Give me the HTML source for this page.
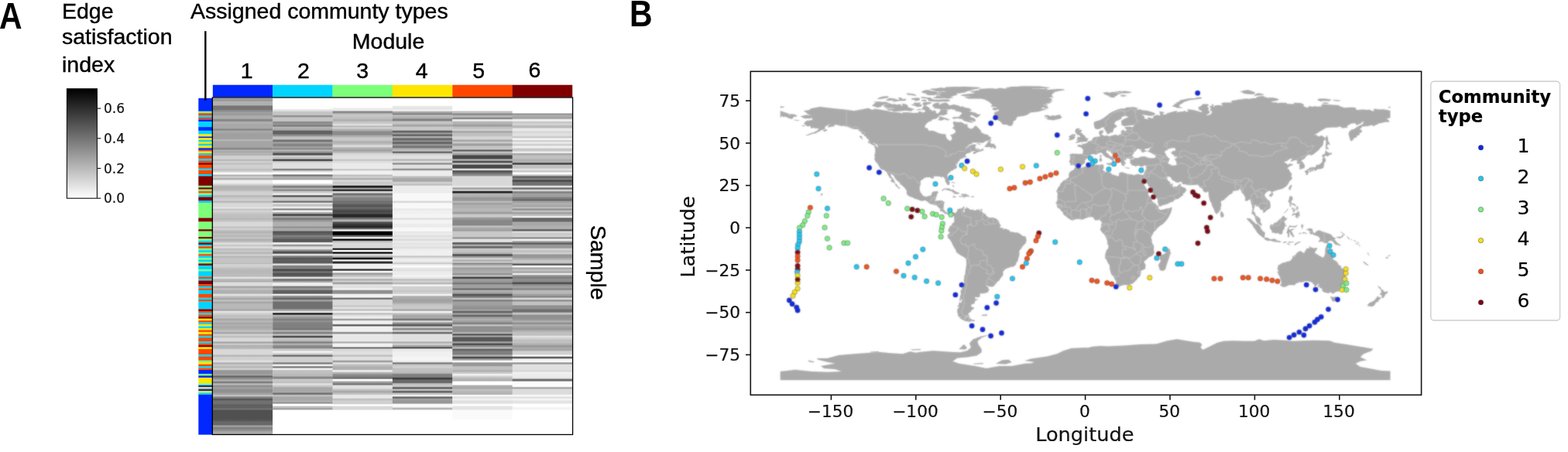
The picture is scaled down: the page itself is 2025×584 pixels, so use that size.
<!DOCTYPE html>
<html><head><meta charset="utf-8"><title>Figure</title>
<style>
html,body{margin:0;padding:0;background:#fff;}
body{width:2025px;height:584px;position:relative;overflow:hidden;font-family:"Liberation Sans",sans-serif;color:#000;}
.t{position:absolute;white-space:nowrap;line-height:1;z-index:2;}
.h{font-family:"Liberation Sans",sans-serif;font-size:28.5px;-webkit-text-stroke:0.4px #000;}
.d{font-family:"DejaVu Sans",sans-serif;color:#111;-webkit-text-stroke:0.2px #111;}
.pl{font-family:"Liberation Sans",sans-serif;font-weight:bold;font-size:47.6px;transform-origin:0 0;transform:scaleX(0.86);}
svg{position:absolute;left:0;top:0;}
#wrap{position:absolute;left:0;top:0;width:2025px;height:584px;}
</style></head><body>
<div id="wrap">
<div class="t pl" style="left:-1px;top:-3.3px;">A</div>
<div class="t pl" style="left:813px;top:-6.3px;">B</div>
<div class="t h" style="left:80px;top:-0.4px;">Edge</div>
<div class="t h" style="left:80px;top:33px;">satisfaction</div>
<div class="t h" style="left:80px;top:68.8px;">index</div>
<div class="t h" style="left:246px;top:0.4px;">Assigned communty types</div>
<div class="t h" style="left:454.8px;top:38.6px;">Module</div>
<div class="t h" style="left:298.8px;width:40px;text-align:center;top:77.2px;">1</div>
<div class="t h" style="left:372.0px;width:40px;text-align:center;top:76.5px;">2</div>
<div class="t h" style="left:448.3px;width:40px;text-align:center;top:76.9px;">3</div>
<div class="t h" style="left:524.7px;width:40px;text-align:center;top:76.9px;">4</div>
<div class="t h" style="left:598.3px;width:40px;text-align:center;top:77.0px;">5</div>
<div class="t h" style="left:670.4px;width:40px;text-align:center;top:75.7px;">6</div>
<div class="t h" style="left:786.6px;top:291px;transform-origin:0 0;transform:rotate(90deg);">Sample</div>
<div class="t d" style="left:134px;top:132.2px;font-size:17px;">0.6</div>
<div class="t d" style="left:134px;top:170.9px;font-size:17px;">0.4</div>
<div class="t d" style="left:134px;top:209.6px;font-size:17px;">0.2</div>
<div class="t d" style="left:134px;top:248.3px;font-size:17px;">0.0</div>
<div class="t d" style="left:1012.6px;width:120px;text-align:center;top:521.3px;font-size:21.7px;">−150</div>
<div class="t d" style="left:1122.0px;width:120px;text-align:center;top:521.3px;font-size:21.7px;">−100</div>
<div class="t d" style="left:1231.4px;width:120px;text-align:center;top:521.3px;font-size:21.7px;">−50</div>
<div class="t d" style="left:1340.8px;width:120px;text-align:center;top:521.3px;font-size:21.7px;">0</div>
<div class="t d" style="left:1450.2px;width:120px;text-align:center;top:521.3px;font-size:21.7px;">50</div>
<div class="t d" style="left:1559.6px;width:120px;text-align:center;top:521.3px;font-size:21.7px;">100</div>
<div class="t d" style="left:1669.0px;width:120px;text-align:center;top:521.3px;font-size:21.7px;">150</div>
<div class="t d" style="left:836.0px;width:120px;text-align:right;top:119.8px;font-size:21.7px;">75</div>
<div class="t d" style="left:836.0px;width:120px;text-align:right;top:174.5px;font-size:21.7px;">50</div>
<div class="t d" style="left:836.0px;width:120px;text-align:right;top:229.2px;font-size:21.7px;">25</div>
<div class="t d" style="left:836.0px;width:120px;text-align:right;top:283.9px;font-size:21.7px;">0</div>
<div class="t d" style="left:836.0px;width:120px;text-align:right;top:338.6px;font-size:21.7px;">−25</div>
<div class="t d" style="left:836.0px;width:120px;text-align:right;top:393.3px;font-size:21.7px;">−50</div>
<div class="t d" style="left:836.0px;width:120px;text-align:right;top:448.0px;font-size:21.7px;">−75</div>
<div class="t d" style="left:1200.8px;width:400px;text-align:center;top:549.1px;font-size:25.6px;">Longitude</div>
<div class="t d" style="left:875.6px;top:505.6px;width:400px;text-align:center;font-size:25.6px;transform-origin:0 0;transform:rotate(-90deg);">Latitude</div>
<div class="t d" style="left:1857.8px;top:113.8px;font-size:22.7px;font-weight:bold;color:#000;">Community</div>
<div class="t d" style="left:1857.8px;top:139.1px;font-size:22.7px;font-weight:bold;color:#000;">type</div>
<div class="t d" style="left:1959.6px;top:175.5px;font-size:25px;color:#000;">1</div>
<div class="t d" style="left:1959.6px;top:215.5px;font-size:25px;color:#000;">2</div>
<div class="t d" style="left:1959.6px;top:255.5px;font-size:25px;color:#000;">3</div>
<div class="t d" style="left:1959.6px;top:295.5px;font-size:25px;color:#000;">4</div>
<div class="t d" style="left:1959.6px;top:335.5px;font-size:25px;color:#000;">5</div>
<div class="t d" style="left:1959.6px;top:375.5px;font-size:25px;color:#000;">6</div>
<svg width="2025" height="584" viewBox="0 0 2025 584">
<defs>
<linearGradient id="cb" x1="0" y1="0" x2="0" y2="1"><stop offset="0" stop-color="#000"/><stop offset="1" stop-color="#fff"/></linearGradient>
<linearGradient id="h1" gradientUnits="userSpaceOnUse" x1="0" y1="126.72" x2="0" y2="561.50"><stop offset="0.0000" stop-color="#a0a0a0"/><stop offset="0.0034" stop-color="#a0a0a0"/><stop offset="0.0068" stop-color="#929292"/><stop offset="0.0068" stop-color="#929292"/><stop offset="0.0102" stop-color="#b0b0b0"/><stop offset="0.0204" stop-color="#b0b0b0"/><stop offset="0.0239" stop-color="#767676"/><stop offset="0.0338" stop-color="#767676"/><stop offset="0.0372" stop-color="#8e8e8e"/><stop offset="0.0394" stop-color="#8e8e8e"/><stop offset="0.0429" stop-color="#a0a0a0"/><stop offset="0.0451" stop-color="#a0a0a0"/><stop offset="0.0486" stop-color="#989898"/><stop offset="0.0494" stop-color="#989898"/><stop offset="0.0528" stop-color="#acacac"/><stop offset="0.0607" stop-color="#acacac"/><stop offset="0.0642" stop-color="#868686"/><stop offset="0.0678" stop-color="#868686"/><stop offset="0.0713" stop-color="#b0b0b0"/><stop offset="0.0749" stop-color="#b0b0b0"/><stop offset="0.0784" stop-color="#a8a8a8"/><stop offset="0.0891" stop-color="#a8a8a8"/><stop offset="0.0926" stop-color="#888888"/><stop offset="0.0948" stop-color="#888888"/><stop offset="0.0983" stop-color="#a8a8a8"/><stop offset="0.1019" stop-color="#a8a8a8"/><stop offset="0.1054" stop-color="#a0a0a0"/><stop offset="0.1204" stop-color="#a0a0a0"/><stop offset="0.1238" stop-color="#b4b4b4"/><stop offset="0.1261" stop-color="#b4b4b4"/><stop offset="0.1295" stop-color="#a4a4a4"/><stop offset="0.1459" stop-color="#a4a4a4"/><stop offset="0.1494" stop-color="#888888"/><stop offset="0.1516" stop-color="#888888"/><stop offset="0.1551" stop-color="#b0b0b0"/><stop offset="0.1568" stop-color="#b0b0b0"/><stop offset="0.1602" stop-color="#a8a8a8"/><stop offset="0.1610" stop-color="#a8a8a8"/><stop offset="0.1642" stop-color="#b8b8b8"/><stop offset="0.1642" stop-color="#b8b8b8"/><stop offset="0.1673" stop-color="#b0b0b0"/><stop offset="0.1690" stop-color="#b0b0b0"/><stop offset="0.1724" stop-color="#d0d0d0"/><stop offset="0.1803" stop-color="#d0d0d0"/><stop offset="0.1838" stop-color="#b8b8b8"/><stop offset="0.1852" stop-color="#b8b8b8"/><stop offset="0.1886" stop-color="#d0d0d0"/><stop offset="0.1911" stop-color="#d0d0d0"/><stop offset="0.1946" stop-color="#c0c0c0"/><stop offset="0.1960" stop-color="#c0c0c0"/><stop offset="0.1994" stop-color="#d0d0d0"/><stop offset="0.2082" stop-color="#d0d0d0"/><stop offset="0.2116" stop-color="#c0c0c0"/><stop offset="0.2136" stop-color="#c0c0c0"/><stop offset="0.2170" stop-color="#d0d0d0"/><stop offset="0.2187" stop-color="#d0d0d0"/><stop offset="0.2221" stop-color="#f8f8f8"/><stop offset="0.2258" stop-color="#f8f8f8"/><stop offset="0.2292" stop-color="#b4b4b4"/><stop offset="0.2309" stop-color="#b4b4b4"/><stop offset="0.2343" stop-color="#d0d0d0"/><stop offset="0.2357" stop-color="#d0d0d0"/><stop offset="0.2392" stop-color="#b0b0b0"/><stop offset="0.2414" stop-color="#b0b0b0"/><stop offset="0.2448" stop-color="#ececec"/><stop offset="0.2528" stop-color="#ececec"/><stop offset="0.2562" stop-color="#d0d0d0"/><stop offset="0.2584" stop-color="#d0d0d0"/><stop offset="0.2619" stop-color="#b4b4b4"/><stop offset="0.2712" stop-color="#b4b4b4"/><stop offset="0.2747" stop-color="#c0c0c0"/><stop offset="0.2755" stop-color="#c0c0c0"/><stop offset="0.2789" stop-color="#d0d0d0"/><stop offset="0.2868" stop-color="#d0d0d0"/><stop offset="0.2903" stop-color="#b8b8b8"/><stop offset="0.2925" stop-color="#b8b8b8"/><stop offset="0.2960" stop-color="#c8c8c8"/><stop offset="0.2982" stop-color="#c8c8c8"/><stop offset="0.3016" stop-color="#d0d0d0"/><stop offset="0.3039" stop-color="#d0d0d0"/><stop offset="0.3073" stop-color="#b8b8b8"/><stop offset="0.3095" stop-color="#b8b8b8"/><stop offset="0.3130" stop-color="#d8d8d8"/><stop offset="0.3232" stop-color="#d8d8d8"/><stop offset="0.3267" stop-color="#e8e8e8"/><stop offset="0.3267" stop-color="#e8e8e8"/><stop offset="0.3301" stop-color="#c4c4c4"/><stop offset="0.3317" stop-color="#c4c4c4"/><stop offset="0.3352" stop-color="#d4d4d4"/><stop offset="0.3374" stop-color="#d4d4d4"/><stop offset="0.3409" stop-color="#c8c8c8"/><stop offset="0.3431" stop-color="#c8c8c8"/><stop offset="0.3466" stop-color="#c0c0c0"/><stop offset="0.3545" stop-color="#c0c0c0"/><stop offset="0.3579" stop-color="#b8b8b8"/><stop offset="0.3601" stop-color="#b8b8b8"/><stop offset="0.3636" stop-color="#c4c4c4"/><stop offset="0.3658" stop-color="#c4c4c4"/><stop offset="0.3693" stop-color="#d8d8d8"/><stop offset="0.3800" stop-color="#d8d8d8"/><stop offset="0.3835" stop-color="#c0c0c0"/><stop offset="0.3843" stop-color="#c0c0c0"/><stop offset="0.3877" stop-color="#d0d0d0"/><stop offset="0.3900" stop-color="#d0d0d0"/><stop offset="0.3934" stop-color="#c0c0c0"/><stop offset="0.3942" stop-color="#c0c0c0"/><stop offset="0.3977" stop-color="#b4b4b4"/><stop offset="0.3999" stop-color="#b4b4b4"/><stop offset="0.4033" stop-color="#c0c0c0"/><stop offset="0.4056" stop-color="#c0c0c0"/><stop offset="0.4090" stop-color="#b8b8b8"/><stop offset="0.4113" stop-color="#b8b8b8"/><stop offset="0.4147" stop-color="#c4c4c4"/><stop offset="0.4169" stop-color="#c4c4c4"/><stop offset="0.4204" stop-color="#b0b0b0"/><stop offset="0.4226" stop-color="#b0b0b0"/><stop offset="0.4261" stop-color="#c0c0c0"/><stop offset="0.4277" stop-color="#c0c0c0"/><stop offset="0.4312" stop-color="#e0e0e0"/><stop offset="0.4334" stop-color="#e0e0e0"/><stop offset="0.4368" stop-color="#c8c8c8"/><stop offset="0.4391" stop-color="#c8c8c8"/><stop offset="0.4425" stop-color="#dcdcdc"/><stop offset="0.4448" stop-color="#dcdcdc"/><stop offset="0.4482" stop-color="#c0c0c0"/><stop offset="0.4504" stop-color="#c0c0c0"/><stop offset="0.4539" stop-color="#c8c8c8"/><stop offset="0.4561" stop-color="#c8c8c8"/><stop offset="0.4596" stop-color="#b8b8b8"/><stop offset="0.4618" stop-color="#b8b8b8"/><stop offset="0.4652" stop-color="#d0d0d0"/><stop offset="0.4675" stop-color="#d0d0d0"/><stop offset="0.4709" stop-color="#b8b8b8"/><stop offset="0.4732" stop-color="#b8b8b8"/><stop offset="0.4766" stop-color="#c4c4c4"/><stop offset="0.4888" stop-color="#c4c4c4"/><stop offset="0.4913" stop-color="#b8b8b8"/><stop offset="0.4913" stop-color="#b8b8b8"/><stop offset="0.4937" stop-color="#d0d0d0"/><stop offset="0.5016" stop-color="#d0d0d0"/><stop offset="0.5051" stop-color="#c0c0c0"/><stop offset="0.5073" stop-color="#c0c0c0"/><stop offset="0.5107" stop-color="#b8b8b8"/><stop offset="0.5186" stop-color="#b8b8b8"/><stop offset="0.5221" stop-color="#bcbcbc"/><stop offset="0.5294" stop-color="#bcbcbc"/><stop offset="0.5329" stop-color="#e0e0e0"/><stop offset="0.5351" stop-color="#e0e0e0"/><stop offset="0.5386" stop-color="#b8b8b8"/><stop offset="0.5408" stop-color="#b8b8b8"/><stop offset="0.5442" stop-color="#b0b0b0"/><stop offset="0.5456" stop-color="#b0b0b0"/><stop offset="0.5491" stop-color="#dcdcdc"/><stop offset="0.5570" stop-color="#dcdcdc"/><stop offset="0.5604" stop-color="#a8a8a8"/><stop offset="0.5627" stop-color="#a8a8a8"/><stop offset="0.5661" stop-color="#c0c0c0"/><stop offset="0.5689" stop-color="#c0c0c0"/><stop offset="0.5724" stop-color="#b0b0b0"/><stop offset="0.5803" stop-color="#b0b0b0"/><stop offset="0.5837" stop-color="#e0e0e0"/><stop offset="0.5859" stop-color="#e0e0e0"/><stop offset="0.5894" stop-color="#c0c0c0"/><stop offset="0.5916" stop-color="#c0c0c0"/><stop offset="0.5951" stop-color="#a8a8a8"/><stop offset="0.5973" stop-color="#a8a8a8"/><stop offset="0.6007" stop-color="#c0c0c0"/><stop offset="0.6030" stop-color="#c0c0c0"/><stop offset="0.6064" stop-color="#a8a8a8"/><stop offset="0.6087" stop-color="#a8a8a8"/><stop offset="0.6121" stop-color="#b8b8b8"/><stop offset="0.6251" stop-color="#b8b8b8"/><stop offset="0.6286" stop-color="#a8a8a8"/><stop offset="0.6308" stop-color="#a8a8a8"/><stop offset="0.6343" stop-color="#e0e0e0"/><stop offset="0.6365" stop-color="#e0e0e0"/><stop offset="0.6399" stop-color="#d0d0d0"/><stop offset="0.6422" stop-color="#d0d0d0"/><stop offset="0.6456" stop-color="#c0c0c0"/><stop offset="0.6537" stop-color="#c0c0c0"/><stop offset="0.6572" stop-color="#a8a8a8"/><stop offset="0.6593" stop-color="#a8a8a8"/><stop offset="0.6627" stop-color="#b8b8b8"/><stop offset="0.6649" stop-color="#b8b8b8"/><stop offset="0.6684" stop-color="#a8a8a8"/><stop offset="0.6706" stop-color="#a8a8a8"/><stop offset="0.6741" stop-color="#b0b0b0"/><stop offset="0.6763" stop-color="#b0b0b0"/><stop offset="0.6797" stop-color="#a8a8a8"/><stop offset="0.6820" stop-color="#a8a8a8"/><stop offset="0.6854" stop-color="#b0b0b0"/><stop offset="0.6876" stop-color="#b0b0b0"/><stop offset="0.6911" stop-color="#c0c0c0"/><stop offset="0.6933" stop-color="#c0c0c0"/><stop offset="0.6968" stop-color="#a8a8a8"/><stop offset="0.6990" stop-color="#a8a8a8"/><stop offset="0.7025" stop-color="#d0d0d0"/><stop offset="0.7047" stop-color="#d0d0d0"/><stop offset="0.7081" stop-color="#c0c0c0"/><stop offset="0.7104" stop-color="#c0c0c0"/><stop offset="0.7138" stop-color="#d8d8d8"/><stop offset="0.7217" stop-color="#d8d8d8"/><stop offset="0.7252" stop-color="#a8a8a8"/><stop offset="0.7271" stop-color="#a8a8a8"/><stop offset="0.7306" stop-color="#c8c8c8"/><stop offset="0.7328" stop-color="#c8c8c8"/><stop offset="0.7362" stop-color="#b0b0b0"/><stop offset="0.7385" stop-color="#b0b0b0"/><stop offset="0.7419" stop-color="#b8b8b8"/><stop offset="0.7442" stop-color="#b8b8b8"/><stop offset="0.7476" stop-color="#d8d8d8"/><stop offset="0.7612" stop-color="#d8d8d8"/><stop offset="0.7646" stop-color="#b8b8b8"/><stop offset="0.7669" stop-color="#b8b8b8"/><stop offset="0.7703" stop-color="#d0d0d0"/><stop offset="0.7779" stop-color="#d0d0d0"/><stop offset="0.7814" stop-color="#e0e0e0"/><stop offset="0.7836" stop-color="#e0e0e0"/><stop offset="0.7871" stop-color="#b0b0b0"/><stop offset="0.7893" stop-color="#b0b0b0"/><stop offset="0.7928" stop-color="#c8c8c8"/><stop offset="0.7950" stop-color="#c8c8c8"/><stop offset="0.7984" stop-color="#b8b8b8"/><stop offset="0.8007" stop-color="#b8b8b8"/><stop offset="0.8041" stop-color="#d0d0d0"/><stop offset="0.8063" stop-color="#d0d0d0"/><stop offset="0.8098" stop-color="#989898"/><stop offset="0.8175" stop-color="#989898"/><stop offset="0.8210" stop-color="#a0a0a0"/><stop offset="0.8231" stop-color="#a0a0a0"/><stop offset="0.8266" stop-color="#686868"/><stop offset="0.8288" stop-color="#686868"/><stop offset="0.8323" stop-color="#909090"/><stop offset="0.8345" stop-color="#909090"/><stop offset="0.8380" stop-color="#b0b0b0"/><stop offset="0.8402" stop-color="#b0b0b0"/><stop offset="0.8436" stop-color="#808080"/><stop offset="0.8459" stop-color="#808080"/><stop offset="0.8493" stop-color="#b8b8b8"/><stop offset="0.8515" stop-color="#b8b8b8"/><stop offset="0.8550" stop-color="#909090"/><stop offset="0.8572" stop-color="#909090"/><stop offset="0.8607" stop-color="#a0a0a0"/><stop offset="0.8629" stop-color="#a0a0a0"/><stop offset="0.8664" stop-color="#909090"/><stop offset="0.8740" stop-color="#909090"/><stop offset="0.8774" stop-color="#a0a0a0"/><stop offset="0.8797" stop-color="#a0a0a0"/><stop offset="0.8831" stop-color="#c0c0c0"/><stop offset="0.8853" stop-color="#c0c0c0"/><stop offset="0.8888" stop-color="#808080"/><stop offset="0.8910" stop-color="#808080"/><stop offset="0.8945" stop-color="#585858"/><stop offset="0.8967" stop-color="#585858"/><stop offset="0.9001" stop-color="#707070"/><stop offset="0.9080" stop-color="#707070"/><stop offset="0.9115" stop-color="#606060"/><stop offset="0.9194" stop-color="#606060"/><stop offset="0.9229" stop-color="#707070"/><stop offset="0.9251" stop-color="#707070"/><stop offset="0.9285" stop-color="#505050"/><stop offset="0.9535" stop-color="#505050"/><stop offset="0.9569" stop-color="#585858"/><stop offset="0.9592" stop-color="#585858"/><stop offset="0.9626" stop-color="#686868"/><stop offset="0.9705" stop-color="#686868"/><stop offset="0.9740" stop-color="#a0a0a0"/><stop offset="0.9762" stop-color="#a0a0a0"/><stop offset="0.9796" stop-color="#808080"/><stop offset="0.9824" stop-color="#808080"/><stop offset="0.9858" stop-color="#909090"/><stop offset="0.9881" stop-color="#909090"/><stop offset="0.9915" stop-color="#a8a8a8"/><stop offset="1.0000" stop-color="#a8a8a8"/></linearGradient>
<linearGradient id="h2" gradientUnits="userSpaceOnUse" x1="0" y1="126.72" x2="0" y2="561.50"><stop offset="0.0000" stop-color="#ffffff"/><stop offset="0.0318" stop-color="#ffffff"/><stop offset="0.0352" stop-color="#e0e0e0"/><stop offset="0.0380" stop-color="#e0e0e0"/><stop offset="0.0415" stop-color="#c4c4c4"/><stop offset="0.0494" stop-color="#c4c4c4"/><stop offset="0.0528" stop-color="#929292"/><stop offset="0.0551" stop-color="#929292"/><stop offset="0.0585" stop-color="#c4c4c4"/><stop offset="0.0678" stop-color="#c4c4c4"/><stop offset="0.0713" stop-color="#8c8c8c"/><stop offset="0.0744" stop-color="#8c8c8c"/><stop offset="0.0775" stop-color="#989898"/><stop offset="0.0775" stop-color="#989898"/><stop offset="0.0807" stop-color="#808080"/><stop offset="0.0835" stop-color="#808080"/><stop offset="0.0869" stop-color="#b4b4b4"/><stop offset="0.0891" stop-color="#b4b4b4"/><stop offset="0.0926" stop-color="#a8a8a8"/><stop offset="0.0948" stop-color="#a8a8a8"/><stop offset="0.0983" stop-color="#626262"/><stop offset="0.1062" stop-color="#626262"/><stop offset="0.1096" stop-color="#8c8c8c"/><stop offset="0.1119" stop-color="#8c8c8c"/><stop offset="0.1153" stop-color="#c0c0c0"/><stop offset="0.1218" stop-color="#c0c0c0"/><stop offset="0.1252" stop-color="#727272"/><stop offset="0.1280" stop-color="#727272"/><stop offset="0.1315" stop-color="#a0a0a0"/><stop offset="0.1340" stop-color="#a0a0a0"/><stop offset="0.1375" stop-color="#858585"/><stop offset="0.1417" stop-color="#858585"/><stop offset="0.1451" stop-color="#a0a0a0"/><stop offset="0.1468" stop-color="#a0a0a0"/><stop offset="0.1502" stop-color="#8c8c8c"/><stop offset="0.1516" stop-color="#8c8c8c"/><stop offset="0.1551" stop-color="#b8b8b8"/><stop offset="0.1568" stop-color="#b8b8b8"/><stop offset="0.1602" stop-color="#909090"/><stop offset="0.1619" stop-color="#909090"/><stop offset="0.1653" stop-color="#505050"/><stop offset="0.1684" stop-color="#505050"/><stop offset="0.1719" stop-color="#d0d0d0"/><stop offset="0.1732" stop-color="#d0d0d0"/><stop offset="0.1767" stop-color="#c0c0c0"/><stop offset="0.1798" stop-color="#c0c0c0"/><stop offset="0.1832" stop-color="#484848"/><stop offset="0.1855" stop-color="#484848"/><stop offset="0.1889" stop-color="#d0d0d0"/><stop offset="0.1911" stop-color="#d0d0d0"/><stop offset="0.1946" stop-color="#e0e0e0"/><stop offset="0.2082" stop-color="#e0e0e0"/><stop offset="0.2116" stop-color="#808080"/><stop offset="0.2133" stop-color="#808080"/><stop offset="0.2167" stop-color="#d8d8d8"/><stop offset="0.2187" stop-color="#d8d8d8"/><stop offset="0.2221" stop-color="#ffffff"/><stop offset="0.2252" stop-color="#ffffff"/><stop offset="0.2287" stop-color="#787878"/><stop offset="0.2309" stop-color="#787878"/><stop offset="0.2343" stop-color="#b0b0b0"/><stop offset="0.2357" stop-color="#b0b0b0"/><stop offset="0.2392" stop-color="#a8a8a8"/><stop offset="0.2414" stop-color="#a8a8a8"/><stop offset="0.2448" stop-color="#ffffff"/><stop offset="0.2528" stop-color="#ffffff"/><stop offset="0.2562" stop-color="#d0d0d0"/><stop offset="0.2584" stop-color="#d0d0d0"/><stop offset="0.2619" stop-color="#808080"/><stop offset="0.2650" stop-color="#808080"/><stop offset="0.2684" stop-color="#b0b0b0"/><stop offset="0.2698" stop-color="#b0b0b0"/><stop offset="0.2732" stop-color="#888888"/><stop offset="0.2746" stop-color="#888888"/><stop offset="0.2781" stop-color="#c8c8c8"/><stop offset="0.2803" stop-color="#c8c8c8"/><stop offset="0.2837" stop-color="#e8e8e8"/><stop offset="0.2868" stop-color="#e8e8e8"/><stop offset="0.2903" stop-color="#585858"/><stop offset="0.2925" stop-color="#585858"/><stop offset="0.2960" stop-color="#c8c8c8"/><stop offset="0.3039" stop-color="#c8c8c8"/><stop offset="0.3073" stop-color="#707070"/><stop offset="0.3090" stop-color="#707070"/><stop offset="0.3124" stop-color="#e0e0e0"/><stop offset="0.3138" stop-color="#e0e0e0"/><stop offset="0.3172" stop-color="#c0c0c0"/><stop offset="0.3195" stop-color="#c0c0c0"/><stop offset="0.3229" stop-color="#e0e0e0"/><stop offset="0.3232" stop-color="#e0e0e0"/><stop offset="0.3264" stop-color="#f0f0f0"/><stop offset="0.3264" stop-color="#f0f0f0"/><stop offset="0.3295" stop-color="#888888"/><stop offset="0.3317" stop-color="#888888"/><stop offset="0.3352" stop-color="#f0f0f0"/><stop offset="0.3374" stop-color="#f0f0f0"/><stop offset="0.3409" stop-color="#a0a0a0"/><stop offset="0.3431" stop-color="#a0a0a0"/><stop offset="0.3466" stop-color="#404040"/><stop offset="0.3482" stop-color="#404040"/><stop offset="0.3517" stop-color="#a0a0a0"/><stop offset="0.3545" stop-color="#a0a0a0"/><stop offset="0.3579" stop-color="#787878"/><stop offset="0.3601" stop-color="#787878"/><stop offset="0.3636" stop-color="#989898"/><stop offset="0.3658" stop-color="#989898"/><stop offset="0.3693" stop-color="#b0b0b0"/><stop offset="0.3800" stop-color="#b0b0b0"/><stop offset="0.3835" stop-color="#909090"/><stop offset="0.3843" stop-color="#909090"/><stop offset="0.3877" stop-color="#a8a8a8"/><stop offset="0.3936" stop-color="#a8a8a8"/><stop offset="0.3971" stop-color="#585858"/><stop offset="0.3999" stop-color="#585858"/><stop offset="0.4033" stop-color="#606060"/><stop offset="0.4056" stop-color="#606060"/><stop offset="0.4090" stop-color="#808080"/><stop offset="0.4113" stop-color="#808080"/><stop offset="0.4147" stop-color="#707070"/><stop offset="0.4169" stop-color="#707070"/><stop offset="0.4204" stop-color="#585858"/><stop offset="0.4269" stop-color="#585858"/><stop offset="0.4303" stop-color="#f0f0f0"/><stop offset="0.4334" stop-color="#f0f0f0"/><stop offset="0.4368" stop-color="#989898"/><stop offset="0.4391" stop-color="#989898"/><stop offset="0.4425" stop-color="#e0e0e0"/><stop offset="0.4482" stop-color="#e0e0e0"/><stop offset="0.4516" stop-color="#909090"/><stop offset="0.4538" stop-color="#909090"/><stop offset="0.4573" stop-color="#505050"/><stop offset="0.4609" stop-color="#505050"/><stop offset="0.4644" stop-color="#e0e0e0"/><stop offset="0.4666" stop-color="#e0e0e0"/><stop offset="0.4701" stop-color="#808080"/><stop offset="0.4723" stop-color="#808080"/><stop offset="0.4758" stop-color="#585858"/><stop offset="0.4780" stop-color="#585858"/><stop offset="0.4814" stop-color="#606060"/><stop offset="0.4837" stop-color="#606060"/><stop offset="0.4871" stop-color="#585858"/><stop offset="0.4888" stop-color="#585858"/><stop offset="0.4913" stop-color="#909090"/><stop offset="0.4913" stop-color="#909090"/><stop offset="0.4937" stop-color="#e0e0e0"/><stop offset="0.4956" stop-color="#e0e0e0"/><stop offset="0.4991" stop-color="#808080"/><stop offset="0.5064" stop-color="#808080"/><stop offset="0.5099" stop-color="#484848"/><stop offset="0.5121" stop-color="#484848"/><stop offset="0.5156" stop-color="#707070"/><stop offset="0.5186" stop-color="#707070"/><stop offset="0.5221" stop-color="#505050"/><stop offset="0.5243" stop-color="#505050"/><stop offset="0.5278" stop-color="#606060"/><stop offset="0.5294" stop-color="#606060"/><stop offset="0.5329" stop-color="#e0e0e0"/><stop offset="0.5351" stop-color="#e0e0e0"/><stop offset="0.5386" stop-color="#707070"/><stop offset="0.5414" stop-color="#707070"/><stop offset="0.5448" stop-color="#a0a0a0"/><stop offset="0.5462" stop-color="#a0a0a0"/><stop offset="0.5496" stop-color="#ececec"/><stop offset="0.5570" stop-color="#ececec"/><stop offset="0.5604" stop-color="#808080"/><stop offset="0.5632" stop-color="#808080"/><stop offset="0.5667" stop-color="#989898"/><stop offset="0.5689" stop-color="#989898"/><stop offset="0.5724" stop-color="#606060"/><stop offset="0.5803" stop-color="#606060"/><stop offset="0.5837" stop-color="#f0f0f0"/><stop offset="0.5854" stop-color="#f0f0f0"/><stop offset="0.5888" stop-color="#909090"/><stop offset="0.5910" stop-color="#909090"/><stop offset="0.5945" stop-color="#686868"/><stop offset="0.5973" stop-color="#686868"/><stop offset="0.6007" stop-color="#a0a0a0"/><stop offset="0.6030" stop-color="#a0a0a0"/><stop offset="0.6064" stop-color="#707070"/><stop offset="0.6251" stop-color="#707070"/><stop offset="0.6286" stop-color="#a0a0a0"/><stop offset="0.6308" stop-color="#a0a0a0"/><stop offset="0.6343" stop-color="#e0e0e0"/><stop offset="0.6365" stop-color="#e0e0e0"/><stop offset="0.6399" stop-color="#202020"/><stop offset="0.6422" stop-color="#202020"/><stop offset="0.6456" stop-color="#b0b0b0"/><stop offset="0.6478" stop-color="#b0b0b0"/><stop offset="0.6513" stop-color="#989898"/><stop offset="0.6537" stop-color="#989898"/><stop offset="0.6572" stop-color="#808080"/><stop offset="0.6593" stop-color="#808080"/><stop offset="0.6627" stop-color="#909090"/><stop offset="0.6649" stop-color="#909090"/><stop offset="0.6684" stop-color="#808080"/><stop offset="0.6706" stop-color="#808080"/><stop offset="0.6741" stop-color="#808080"/><stop offset="0.6820" stop-color="#808080"/><stop offset="0.6854" stop-color="#787878"/><stop offset="0.6876" stop-color="#787878"/><stop offset="0.6911" stop-color="#b0b0b0"/><stop offset="0.6933" stop-color="#b0b0b0"/><stop offset="0.6968" stop-color="#808080"/><stop offset="0.6990" stop-color="#808080"/><stop offset="0.7025" stop-color="#c0c0c0"/><stop offset="0.7047" stop-color="#c0c0c0"/><stop offset="0.7081" stop-color="#505050"/><stop offset="0.7104" stop-color="#505050"/><stop offset="0.7138" stop-color="#c8c8c8"/><stop offset="0.7160" stop-color="#c8c8c8"/><stop offset="0.7195" stop-color="#b8b8b8"/><stop offset="0.7217" stop-color="#b8b8b8"/><stop offset="0.7252" stop-color="#808080"/><stop offset="0.7271" stop-color="#808080"/><stop offset="0.7306" stop-color="#b0b0b0"/><stop offset="0.7328" stop-color="#b0b0b0"/><stop offset="0.7362" stop-color="#888888"/><stop offset="0.7425" stop-color="#888888"/><stop offset="0.7459" stop-color="#c8c8c8"/><stop offset="0.7495" stop-color="#c8c8c8"/><stop offset="0.7530" stop-color="#f0f0f0"/><stop offset="0.7555" stop-color="#f0f0f0"/><stop offset="0.7590" stop-color="#d0d0d0"/><stop offset="0.7612" stop-color="#d0d0d0"/><stop offset="0.7646" stop-color="#707070"/><stop offset="0.7669" stop-color="#707070"/><stop offset="0.7703" stop-color="#d0d0d0"/><stop offset="0.7836" stop-color="#d0d0d0"/><stop offset="0.7871" stop-color="#808080"/><stop offset="0.7893" stop-color="#808080"/><stop offset="0.7928" stop-color="#f0f0f0"/><stop offset="0.7950" stop-color="#f0f0f0"/><stop offset="0.7984" stop-color="#808080"/><stop offset="0.8007" stop-color="#808080"/><stop offset="0.8041" stop-color="#f0f0f0"/><stop offset="0.8063" stop-color="#f0f0f0"/><stop offset="0.8098" stop-color="#c0c0c0"/><stop offset="0.8175" stop-color="#c0c0c0"/><stop offset="0.8210" stop-color="#b8b8b8"/><stop offset="0.8257" stop-color="#b8b8b8"/><stop offset="0.8292" stop-color="#888888"/><stop offset="0.8328" stop-color="#888888"/><stop offset="0.8363" stop-color="#c8c8c8"/><stop offset="0.8399" stop-color="#c8c8c8"/><stop offset="0.8434" stop-color="#c0c0c0"/><stop offset="0.8456" stop-color="#c0c0c0"/><stop offset="0.8490" stop-color="#e0e0e0"/><stop offset="0.8513" stop-color="#e0e0e0"/><stop offset="0.8547" stop-color="#c8c8c8"/><stop offset="0.8569" stop-color="#c8c8c8"/><stop offset="0.8604" stop-color="#a8a8a8"/><stop offset="0.8740" stop-color="#a8a8a8"/><stop offset="0.8774" stop-color="#707070"/><stop offset="0.8797" stop-color="#707070"/><stop offset="0.8831" stop-color="#c0c0c0"/><stop offset="0.8853" stop-color="#c0c0c0"/><stop offset="0.8888" stop-color="#a8a8a8"/><stop offset="0.8967" stop-color="#a8a8a8"/><stop offset="0.9001" stop-color="#b0b0b0"/><stop offset="0.9024" stop-color="#b0b0b0"/><stop offset="0.9058" stop-color="#909090"/><stop offset="0.9066" stop-color="#909090"/><stop offset="0.9101" stop-color="#ffffff"/><stop offset="0.9137" stop-color="#ffffff"/><stop offset="0.9172" stop-color="#c0c0c0"/><stop offset="0.9194" stop-color="#c0c0c0"/><stop offset="0.9229" stop-color="#a0a0a0"/><stop offset="0.9245" stop-color="#a0a0a0"/><stop offset="0.9280" stop-color="#ffffff"/><stop offset="1.0000" stop-color="#ffffff"/></linearGradient>
<linearGradient id="h3" gradientUnits="userSpaceOnUse" x1="0" y1="126.72" x2="0" y2="561.50"><stop offset="0.0000" stop-color="#ffffff"/><stop offset="0.0275" stop-color="#ffffff"/><stop offset="0.0310" stop-color="#eaeaea"/><stop offset="0.0366" stop-color="#eaeaea"/><stop offset="0.0401" stop-color="#8c8c8c"/><stop offset="0.0437" stop-color="#8c8c8c"/><stop offset="0.0472" stop-color="#c0c0c0"/><stop offset="0.0488" stop-color="#c0c0c0"/><stop offset="0.0523" stop-color="#c8c8c8"/><stop offset="0.0531" stop-color="#c8c8c8"/><stop offset="0.0565" stop-color="#c0c0c0"/><stop offset="0.0607" stop-color="#c0c0c0"/><stop offset="0.0642" stop-color="#b0b0b0"/><stop offset="0.0678" stop-color="#b0b0b0"/><stop offset="0.0713" stop-color="#c8c8c8"/><stop offset="0.0749" stop-color="#c8c8c8"/><stop offset="0.0784" stop-color="#e0e0e0"/><stop offset="0.0801" stop-color="#e0e0e0"/><stop offset="0.0835" stop-color="#b8b8b8"/><stop offset="0.0843" stop-color="#b8b8b8"/><stop offset="0.0878" stop-color="#d0d0d0"/><stop offset="0.0900" stop-color="#d0d0d0"/><stop offset="0.0934" stop-color="#b0b0b0"/><stop offset="0.0962" stop-color="#b0b0b0"/><stop offset="0.0997" stop-color="#8c8c8c"/><stop offset="0.1090" stop-color="#8c8c8c"/><stop offset="0.1125" stop-color="#b0b0b0"/><stop offset="0.1147" stop-color="#b0b0b0"/><stop offset="0.1181" stop-color="#c8c8c8"/><stop offset="0.1255" stop-color="#c8c8c8"/><stop offset="0.1289" stop-color="#b0b0b0"/><stop offset="0.1317" stop-color="#b0b0b0"/><stop offset="0.1352" stop-color="#b8b8b8"/><stop offset="0.1368" stop-color="#b8b8b8"/><stop offset="0.1403" stop-color="#d8d8d8"/><stop offset="0.1445" stop-color="#d8d8d8"/><stop offset="0.1480" stop-color="#b0b0b0"/><stop offset="0.1510" stop-color="#b0b0b0"/><stop offset="0.1545" stop-color="#a0a0a0"/><stop offset="0.1568" stop-color="#a0a0a0"/><stop offset="0.1602" stop-color="#b8b8b8"/><stop offset="0.1619" stop-color="#b8b8b8"/><stop offset="0.1653" stop-color="#d8d8d8"/><stop offset="0.1690" stop-color="#d8d8d8"/><stop offset="0.1724" stop-color="#e0e0e0"/><stop offset="0.1798" stop-color="#e0e0e0"/><stop offset="0.1832" stop-color="#c8c8c8"/><stop offset="0.1855" stop-color="#c8c8c8"/><stop offset="0.1889" stop-color="#e0e0e0"/><stop offset="0.1917" stop-color="#e0e0e0"/><stop offset="0.1952" stop-color="#eaeaea"/><stop offset="0.2087" stop-color="#eaeaea"/><stop offset="0.2122" stop-color="#c8c8c8"/><stop offset="0.2136" stop-color="#c8c8c8"/><stop offset="0.2170" stop-color="#f0f0f0"/><stop offset="0.2258" stop-color="#f0f0f0"/><stop offset="0.2292" stop-color="#c0c0c0"/><stop offset="0.2309" stop-color="#c0c0c0"/><stop offset="0.2343" stop-color="#d0d0d0"/><stop offset="0.2357" stop-color="#d0d0d0"/><stop offset="0.2392" stop-color="#b0b0b0"/><stop offset="0.2414" stop-color="#b0b0b0"/><stop offset="0.2448" stop-color="#d8d8d8"/><stop offset="0.2471" stop-color="#d8d8d8"/><stop offset="0.2505" stop-color="#c8c8c8"/><stop offset="0.2528" stop-color="#c8c8c8"/><stop offset="0.2562" stop-color="#d0d0d0"/><stop offset="0.2584" stop-color="#d0d0d0"/><stop offset="0.2619" stop-color="#202020"/><stop offset="0.2650" stop-color="#202020"/><stop offset="0.2684" stop-color="#a0a0a0"/><stop offset="0.2698" stop-color="#a0a0a0"/><stop offset="0.2732" stop-color="#282828"/><stop offset="0.2749" stop-color="#282828"/><stop offset="0.2783" stop-color="#d8d8d8"/><stop offset="0.2811" stop-color="#d8d8d8"/><stop offset="0.2846" stop-color="#707070"/><stop offset="0.2868" stop-color="#707070"/><stop offset="0.2903" stop-color="#989898"/><stop offset="0.2939" stop-color="#989898"/><stop offset="0.2974" stop-color="#808080"/><stop offset="0.3039" stop-color="#808080"/><stop offset="0.3073" stop-color="#707070"/><stop offset="0.3138" stop-color="#707070"/><stop offset="0.3172" stop-color="#585858"/><stop offset="0.3232" stop-color="#585858"/><stop offset="0.3267" stop-color="#707070"/><stop offset="0.3267" stop-color="#707070"/><stop offset="0.3301" stop-color="#585858"/><stop offset="0.3317" stop-color="#585858"/><stop offset="0.3352" stop-color="#484848"/><stop offset="0.3374" stop-color="#484848"/><stop offset="0.3409" stop-color="#505050"/><stop offset="0.3431" stop-color="#505050"/><stop offset="0.3466" stop-color="#282828"/><stop offset="0.3530" stop-color="#282828"/><stop offset="0.3565" stop-color="#707070"/><stop offset="0.3587" stop-color="#707070"/><stop offset="0.3622" stop-color="#b0b0b0"/><stop offset="0.3658" stop-color="#b0b0b0"/><stop offset="0.3693" stop-color="#505050"/><stop offset="0.3715" stop-color="#505050"/><stop offset="0.3749" stop-color="#383838"/><stop offset="0.3772" stop-color="#383838"/><stop offset="0.3806" stop-color="#282828"/><stop offset="0.3843" stop-color="#282828"/><stop offset="0.3877" stop-color="#707070"/><stop offset="0.3885" stop-color="#707070"/><stop offset="0.3920" stop-color="#f0f0f0"/><stop offset="0.3942" stop-color="#f0f0f0"/><stop offset="0.3977" stop-color="#000000"/><stop offset="0.4056" stop-color="#000000"/><stop offset="0.4090" stop-color="#606060"/><stop offset="0.4107" stop-color="#606060"/><stop offset="0.4141" stop-color="#f0f0f0"/><stop offset="0.4164" stop-color="#f0f0f0"/><stop offset="0.4198" stop-color="#080808"/><stop offset="0.4220" stop-color="#080808"/><stop offset="0.4255" stop-color="#c0c0c0"/><stop offset="0.4277" stop-color="#c0c0c0"/><stop offset="0.4312" stop-color="#d8d8d8"/><stop offset="0.4448" stop-color="#d8d8d8"/><stop offset="0.4482" stop-color="#101010"/><stop offset="0.4496" stop-color="#101010"/><stop offset="0.4530" stop-color="#ffffff"/><stop offset="0.4553" stop-color="#ffffff"/><stop offset="0.4587" stop-color="#101010"/><stop offset="0.4609" stop-color="#101010"/><stop offset="0.4644" stop-color="#e0e0e0"/><stop offset="0.4666" stop-color="#e0e0e0"/><stop offset="0.4701" stop-color="#b0b0b0"/><stop offset="0.4723" stop-color="#b0b0b0"/><stop offset="0.4758" stop-color="#181818"/><stop offset="0.4780" stop-color="#181818"/><stop offset="0.4814" stop-color="#f0f0f0"/><stop offset="0.4837" stop-color="#f0f0f0"/><stop offset="0.4871" stop-color="#282828"/><stop offset="0.4888" stop-color="#282828"/><stop offset="0.4913" stop-color="#606060"/><stop offset="0.4913" stop-color="#606060"/><stop offset="0.4937" stop-color="#f0f0f0"/><stop offset="0.5059" stop-color="#f0f0f0"/><stop offset="0.5093" stop-color="#383838"/><stop offset="0.5115" stop-color="#383838"/><stop offset="0.5150" stop-color="#f8f8f8"/><stop offset="0.5172" stop-color="#f8f8f8"/><stop offset="0.5207" stop-color="#a0a0a0"/><stop offset="0.5235" stop-color="#a0a0a0"/><stop offset="0.5269" stop-color="#c0c0c0"/><stop offset="0.5294" stop-color="#c0c0c0"/><stop offset="0.5329" stop-color="#e0e0e0"/><stop offset="0.5351" stop-color="#e0e0e0"/><stop offset="0.5386" stop-color="#b0b0b0"/><stop offset="0.5408" stop-color="#b0b0b0"/><stop offset="0.5442" stop-color="#d0d0d0"/><stop offset="0.5456" stop-color="#d0d0d0"/><stop offset="0.5491" stop-color="#a0a0a0"/><stop offset="0.5513" stop-color="#a0a0a0"/><stop offset="0.5547" stop-color="#e0e0e0"/><stop offset="0.5632" stop-color="#e0e0e0"/><stop offset="0.5667" stop-color="#f0f0f0"/><stop offset="0.5689" stop-color="#f0f0f0"/><stop offset="0.5724" stop-color="#909090"/><stop offset="0.5803" stop-color="#909090"/><stop offset="0.5837" stop-color="#f0f0f0"/><stop offset="0.5916" stop-color="#f0f0f0"/><stop offset="0.5951" stop-color="#707070"/><stop offset="0.5967" stop-color="#707070"/><stop offset="0.6002" stop-color="#d8d8d8"/><stop offset="0.6138" stop-color="#d8d8d8"/><stop offset="0.6172" stop-color="#c8c8c8"/><stop offset="0.6194" stop-color="#c8c8c8"/><stop offset="0.6229" stop-color="#e0e0e0"/><stop offset="0.6251" stop-color="#e0e0e0"/><stop offset="0.6286" stop-color="#c0c0c0"/><stop offset="0.6308" stop-color="#c0c0c0"/><stop offset="0.6343" stop-color="#f0f0f0"/><stop offset="0.6365" stop-color="#f0f0f0"/><stop offset="0.6399" stop-color="#c0c0c0"/><stop offset="0.6422" stop-color="#c0c0c0"/><stop offset="0.6456" stop-color="#e0e0e0"/><stop offset="0.6478" stop-color="#e0e0e0"/><stop offset="0.6513" stop-color="#f0f0f0"/><stop offset="0.6537" stop-color="#f0f0f0"/><stop offset="0.6572" stop-color="#a0a0a0"/><stop offset="0.6593" stop-color="#a0a0a0"/><stop offset="0.6627" stop-color="#f0f0f0"/><stop offset="0.6706" stop-color="#f0f0f0"/><stop offset="0.6741" stop-color="#606060"/><stop offset="0.6763" stop-color="#606060"/><stop offset="0.6797" stop-color="#f0f0f0"/><stop offset="0.6933" stop-color="#f0f0f0"/><stop offset="0.6968" stop-color="#909090"/><stop offset="0.6990" stop-color="#909090"/><stop offset="0.7025" stop-color="#e8e8e8"/><stop offset="0.7217" stop-color="#e8e8e8"/><stop offset="0.7252" stop-color="#b0b0b0"/><stop offset="0.7271" stop-color="#b0b0b0"/><stop offset="0.7306" stop-color="#f0f0f0"/><stop offset="0.7382" stop-color="#f0f0f0"/><stop offset="0.7416" stop-color="#707070"/><stop offset="0.7430" stop-color="#707070"/><stop offset="0.7465" stop-color="#d8d8d8"/><stop offset="0.7510" stop-color="#d8d8d8"/><stop offset="0.7544" stop-color="#e0e0e0"/><stop offset="0.7612" stop-color="#e0e0e0"/><stop offset="0.7646" stop-color="#c0c0c0"/><stop offset="0.7669" stop-color="#c0c0c0"/><stop offset="0.7703" stop-color="#e0e0e0"/><stop offset="0.7779" stop-color="#e0e0e0"/><stop offset="0.7814" stop-color="#a0a0a0"/><stop offset="0.7836" stop-color="#a0a0a0"/><stop offset="0.7871" stop-color="#e0e0e0"/><stop offset="0.7893" stop-color="#e0e0e0"/><stop offset="0.7928" stop-color="#c0c0c0"/><stop offset="0.7950" stop-color="#c0c0c0"/><stop offset="0.7984" stop-color="#b0b0b0"/><stop offset="0.8063" stop-color="#b0b0b0"/><stop offset="0.8098" stop-color="#f0f0f0"/><stop offset="0.8120" stop-color="#f0f0f0"/><stop offset="0.8155" stop-color="#b8b8b8"/><stop offset="0.8175" stop-color="#b8b8b8"/><stop offset="0.8210" stop-color="#909090"/><stop offset="0.8231" stop-color="#909090"/><stop offset="0.8266" stop-color="#808080"/><stop offset="0.8288" stop-color="#808080"/><stop offset="0.8323" stop-color="#686868"/><stop offset="0.8328" stop-color="#686868"/><stop offset="0.8363" stop-color="#f8f8f8"/><stop offset="0.8399" stop-color="#f8f8f8"/><stop offset="0.8434" stop-color="#a0a0a0"/><stop offset="0.8456" stop-color="#a0a0a0"/><stop offset="0.8490" stop-color="#787878"/><stop offset="0.8513" stop-color="#787878"/><stop offset="0.8547" stop-color="#e0e0e0"/><stop offset="0.8626" stop-color="#e0e0e0"/><stop offset="0.8661" stop-color="#c0c0c0"/><stop offset="0.8683" stop-color="#c0c0c0"/><stop offset="0.8717" stop-color="#a8a8a8"/><stop offset="0.8740" stop-color="#a8a8a8"/><stop offset="0.8774" stop-color="#c0c0c0"/><stop offset="0.8797" stop-color="#c0c0c0"/><stop offset="0.8831" stop-color="#e8e8e8"/><stop offset="0.8910" stop-color="#e8e8e8"/><stop offset="0.8945" stop-color="#c0c0c0"/><stop offset="0.8967" stop-color="#c0c0c0"/><stop offset="0.9001" stop-color="#d0d0d0"/><stop offset="0.9080" stop-color="#d0d0d0"/><stop offset="0.9115" stop-color="#ffffff"/><stop offset="0.9137" stop-color="#ffffff"/><stop offset="0.9172" stop-color="#d8d8d8"/><stop offset="0.9251" stop-color="#d8d8d8"/><stop offset="0.9285" stop-color="#ffffff"/><stop offset="1.0000" stop-color="#ffffff"/></linearGradient>
<linearGradient id="h4" gradientUnits="userSpaceOnUse" x1="0" y1="126.72" x2="0" y2="561.50"><stop offset="0.0000" stop-color="#ffffff"/><stop offset="0.0218" stop-color="#ffffff"/><stop offset="0.0253" stop-color="#e6e6e6"/><stop offset="0.0332" stop-color="#e6e6e6"/><stop offset="0.0367" stop-color="#f4f4f4"/><stop offset="0.0375" stop-color="#f4f4f4"/><stop offset="0.0409" stop-color="#b0b0b0"/><stop offset="0.0420" stop-color="#b0b0b0"/><stop offset="0.0455" stop-color="#8c8c8c"/><stop offset="0.0485" stop-color="#8c8c8c"/><stop offset="0.0520" stop-color="#c0c0c0"/><stop offset="0.0531" stop-color="#c0c0c0"/><stop offset="0.0565" stop-color="#b0b0b0"/><stop offset="0.0593" stop-color="#b0b0b0"/><stop offset="0.0628" stop-color="#848484"/><stop offset="0.0667" stop-color="#848484"/><stop offset="0.0702" stop-color="#c4c4c4"/><stop offset="0.0764" stop-color="#c4c4c4"/><stop offset="0.0798" stop-color="#a8a8a8"/><stop offset="0.0835" stop-color="#a8a8a8"/><stop offset="0.0869" stop-color="#c8c8c8"/><stop offset="0.0948" stop-color="#c8c8c8"/><stop offset="0.0983" stop-color="#686868"/><stop offset="0.1013" stop-color="#686868"/><stop offset="0.1048" stop-color="#a0a0a0"/><stop offset="0.1056" stop-color="#a0a0a0"/><stop offset="0.1091" stop-color="#646464"/><stop offset="0.1116" stop-color="#646464"/><stop offset="0.1150" stop-color="#b0b0b0"/><stop offset="0.1167" stop-color="#b0b0b0"/><stop offset="0.1201" stop-color="#6c6c6c"/><stop offset="0.1241" stop-color="#6c6c6c"/><stop offset="0.1275" stop-color="#909090"/><stop offset="0.1283" stop-color="#909090"/><stop offset="0.1318" stop-color="#646464"/><stop offset="0.1346" stop-color="#646464"/><stop offset="0.1380" stop-color="#989898"/><stop offset="0.1397" stop-color="#989898"/><stop offset="0.1431" stop-color="#787878"/><stop offset="0.1468" stop-color="#787878"/><stop offset="0.1502" stop-color="#b0b0b0"/><stop offset="0.1525" stop-color="#b0b0b0"/><stop offset="0.1559" stop-color="#c0c0c0"/><stop offset="0.1568" stop-color="#c0c0c0"/><stop offset="0.1602" stop-color="#686868"/><stop offset="0.1622" stop-color="#686868"/><stop offset="0.1656" stop-color="#d0d0d0"/><stop offset="0.1678" stop-color="#d0d0d0"/><stop offset="0.1713" stop-color="#e0e0e0"/><stop offset="0.1792" stop-color="#e0e0e0"/><stop offset="0.1827" stop-color="#b8b8b8"/><stop offset="0.1849" stop-color="#b8b8b8"/><stop offset="0.1883" stop-color="#dcdcdc"/><stop offset="0.1906" stop-color="#dcdcdc"/><stop offset="0.1940" stop-color="#909090"/><stop offset="0.1962" stop-color="#909090"/><stop offset="0.1997" stop-color="#e0e0e0"/><stop offset="0.2076" stop-color="#e0e0e0"/><stop offset="0.2111" stop-color="#989898"/><stop offset="0.2133" stop-color="#989898"/><stop offset="0.2167" stop-color="#ececec"/><stop offset="0.2300" stop-color="#ececec"/><stop offset="0.2335" stop-color="#c0c0c0"/><stop offset="0.2357" stop-color="#c0c0c0"/><stop offset="0.2392" stop-color="#a8a8a8"/><stop offset="0.2471" stop-color="#a8a8a8"/><stop offset="0.2505" stop-color="#d0d0d0"/><stop offset="0.2528" stop-color="#d0d0d0"/><stop offset="0.2562" stop-color="#c0c0c0"/><stop offset="0.2584" stop-color="#c0c0c0"/><stop offset="0.2619" stop-color="#ececec"/><stop offset="0.2811" stop-color="#ececec"/><stop offset="0.2846" stop-color="#f8f8f8"/><stop offset="0.3039" stop-color="#f8f8f8"/><stop offset="0.3073" stop-color="#d8d8d8"/><stop offset="0.3095" stop-color="#d8d8d8"/><stop offset="0.3130" stop-color="#f8f8f8"/><stop offset="0.3232" stop-color="#f8f8f8"/><stop offset="0.3264" stop-color="#f8f8f8"/><stop offset="0.3264" stop-color="#f8f8f8"/><stop offset="0.3295" stop-color="#e8e8e8"/><stop offset="0.3317" stop-color="#e8e8e8"/><stop offset="0.3352" stop-color="#f0f0f0"/><stop offset="0.3431" stop-color="#f0f0f0"/><stop offset="0.3466" stop-color="#f4f4f4"/><stop offset="0.3545" stop-color="#f4f4f4"/><stop offset="0.3579" stop-color="#e0e0e0"/><stop offset="0.3601" stop-color="#e0e0e0"/><stop offset="0.3636" stop-color="#f4f4f4"/><stop offset="0.3715" stop-color="#f4f4f4"/><stop offset="0.3749" stop-color="#ececec"/><stop offset="0.3829" stop-color="#ececec"/><stop offset="0.3863" stop-color="#f8f8f8"/><stop offset="0.3942" stop-color="#f8f8f8"/><stop offset="0.3977" stop-color="#e8e8e8"/><stop offset="0.3999" stop-color="#e8e8e8"/><stop offset="0.4033" stop-color="#ececec"/><stop offset="0.4056" stop-color="#ececec"/><stop offset="0.4090" stop-color="#e0e0e0"/><stop offset="0.4113" stop-color="#e0e0e0"/><stop offset="0.4147" stop-color="#e8e8e8"/><stop offset="0.4169" stop-color="#e8e8e8"/><stop offset="0.4204" stop-color="#dcdcdc"/><stop offset="0.4226" stop-color="#dcdcdc"/><stop offset="0.4261" stop-color="#ececec"/><stop offset="0.4283" stop-color="#ececec"/><stop offset="0.4317" stop-color="#e4e4e4"/><stop offset="0.4340" stop-color="#e4e4e4"/><stop offset="0.4374" stop-color="#e8e8e8"/><stop offset="0.4396" stop-color="#e8e8e8"/><stop offset="0.4431" stop-color="#e0e0e0"/><stop offset="0.4453" stop-color="#e0e0e0"/><stop offset="0.4488" stop-color="#ececec"/><stop offset="0.4510" stop-color="#ececec"/><stop offset="0.4545" stop-color="#f0f0f0"/><stop offset="0.4666" stop-color="#f0f0f0"/><stop offset="0.4701" stop-color="#c8c8c8"/><stop offset="0.4723" stop-color="#c8c8c8"/><stop offset="0.4758" stop-color="#e8e8e8"/><stop offset="0.4780" stop-color="#e8e8e8"/><stop offset="0.4814" stop-color="#f0f0f0"/><stop offset="0.4837" stop-color="#f0f0f0"/><stop offset="0.4871" stop-color="#e0e0e0"/><stop offset="0.4888" stop-color="#e0e0e0"/><stop offset="0.4913" stop-color="#c0c0c0"/><stop offset="0.4913" stop-color="#c0c0c0"/><stop offset="0.4937" stop-color="#e8e8e8"/><stop offset="0.4956" stop-color="#e8e8e8"/><stop offset="0.4991" stop-color="#fcfcfc"/><stop offset="0.5013" stop-color="#fcfcfc"/><stop offset="0.5048" stop-color="#e8e8e8"/><stop offset="0.5070" stop-color="#e8e8e8"/><stop offset="0.5104" stop-color="#e0e0e0"/><stop offset="0.5127" stop-color="#e0e0e0"/><stop offset="0.5161" stop-color="#ececec"/><stop offset="0.5240" stop-color="#ececec"/><stop offset="0.5275" stop-color="#f4f4f4"/><stop offset="0.5294" stop-color="#f4f4f4"/><stop offset="0.5329" stop-color="#e8e8e8"/><stop offset="0.5351" stop-color="#e8e8e8"/><stop offset="0.5386" stop-color="#c0c0c0"/><stop offset="0.5408" stop-color="#c0c0c0"/><stop offset="0.5442" stop-color="#d0d0d0"/><stop offset="0.5465" stop-color="#d0d0d0"/><stop offset="0.5499" stop-color="#b8b8b8"/><stop offset="0.5519" stop-color="#b8b8b8"/><stop offset="0.5553" stop-color="#f4f4f4"/><stop offset="0.5575" stop-color="#f4f4f4"/><stop offset="0.5610" stop-color="#d0d0d0"/><stop offset="0.5689" stop-color="#d0d0d0"/><stop offset="0.5724" stop-color="#c8c8c8"/><stop offset="0.5746" stop-color="#c8c8c8"/><stop offset="0.5780" stop-color="#d0d0d0"/><stop offset="0.5803" stop-color="#d0d0d0"/><stop offset="0.5837" stop-color="#f0f0f0"/><stop offset="0.5859" stop-color="#f0f0f0"/><stop offset="0.5894" stop-color="#b0b0b0"/><stop offset="0.5916" stop-color="#b0b0b0"/><stop offset="0.5951" stop-color="#a8a8a8"/><stop offset="0.5973" stop-color="#a8a8a8"/><stop offset="0.6007" stop-color="#a0a0a0"/><stop offset="0.6030" stop-color="#a0a0a0"/><stop offset="0.6064" stop-color="#a8a8a8"/><stop offset="0.6087" stop-color="#a8a8a8"/><stop offset="0.6121" stop-color="#c0c0c0"/><stop offset="0.6140" stop-color="#c0c0c0"/><stop offset="0.6175" stop-color="#c8c8c8"/><stop offset="0.6254" stop-color="#c8c8c8"/><stop offset="0.6289" stop-color="#a8a8a8"/><stop offset="0.6311" stop-color="#a8a8a8"/><stop offset="0.6345" stop-color="#f0f0f0"/><stop offset="0.6368" stop-color="#f0f0f0"/><stop offset="0.6402" stop-color="#c0c0c0"/><stop offset="0.6424" stop-color="#c0c0c0"/><stop offset="0.6459" stop-color="#a8a8a8"/><stop offset="0.6537" stop-color="#a8a8a8"/><stop offset="0.6572" stop-color="#787878"/><stop offset="0.6593" stop-color="#787878"/><stop offset="0.6627" stop-color="#d8d8d8"/><stop offset="0.6649" stop-color="#d8d8d8"/><stop offset="0.6684" stop-color="#909090"/><stop offset="0.6706" stop-color="#909090"/><stop offset="0.6741" stop-color="#585858"/><stop offset="0.6763" stop-color="#585858"/><stop offset="0.6797" stop-color="#c8c8c8"/><stop offset="0.6820" stop-color="#c8c8c8"/><stop offset="0.6854" stop-color="#888888"/><stop offset="0.6876" stop-color="#888888"/><stop offset="0.6911" stop-color="#d0d0d0"/><stop offset="0.6933" stop-color="#d0d0d0"/><stop offset="0.6968" stop-color="#707070"/><stop offset="0.6990" stop-color="#707070"/><stop offset="0.7025" stop-color="#e0e0e0"/><stop offset="0.7217" stop-color="#e0e0e0"/><stop offset="0.7252" stop-color="#b0b0b0"/><stop offset="0.7271" stop-color="#b0b0b0"/><stop offset="0.7306" stop-color="#d0d0d0"/><stop offset="0.7328" stop-color="#d0d0d0"/><stop offset="0.7362" stop-color="#a0a0a0"/><stop offset="0.7385" stop-color="#a0a0a0"/><stop offset="0.7419" stop-color="#484848"/><stop offset="0.7425" stop-color="#484848"/><stop offset="0.7459" stop-color="#e8e8e8"/><stop offset="0.7510" stop-color="#e8e8e8"/><stop offset="0.7544" stop-color="#f0f0f0"/><stop offset="0.7666" stop-color="#f0f0f0"/><stop offset="0.7700" stop-color="#f4f4f4"/><stop offset="0.7794" stop-color="#f4f4f4"/><stop offset="0.7828" stop-color="#e8e8e8"/><stop offset="0.7836" stop-color="#e8e8e8"/><stop offset="0.7871" stop-color="#808080"/><stop offset="0.7893" stop-color="#808080"/><stop offset="0.7928" stop-color="#c8c8c8"/><stop offset="0.7950" stop-color="#c8c8c8"/><stop offset="0.7984" stop-color="#d0d0d0"/><stop offset="0.8007" stop-color="#d0d0d0"/><stop offset="0.8041" stop-color="#c0c0c0"/><stop offset="0.8120" stop-color="#c0c0c0"/><stop offset="0.8155" stop-color="#b8b8b8"/><stop offset="0.8175" stop-color="#b8b8b8"/><stop offset="0.8210" stop-color="#808080"/><stop offset="0.8288" stop-color="#808080"/><stop offset="0.8323" stop-color="#404040"/><stop offset="0.8345" stop-color="#404040"/><stop offset="0.8380" stop-color="#686868"/><stop offset="0.8456" stop-color="#686868"/><stop offset="0.8490" stop-color="#c0c0c0"/><stop offset="0.8513" stop-color="#c0c0c0"/><stop offset="0.8547" stop-color="#c8c8c8"/><stop offset="0.8569" stop-color="#c8c8c8"/><stop offset="0.8604" stop-color="#606060"/><stop offset="0.8626" stop-color="#606060"/><stop offset="0.8661" stop-color="#c0c0c0"/><stop offset="0.8683" stop-color="#c0c0c0"/><stop offset="0.8717" stop-color="#606060"/><stop offset="0.8740" stop-color="#606060"/><stop offset="0.8774" stop-color="#c0c0c0"/><stop offset="0.8797" stop-color="#c0c0c0"/><stop offset="0.8831" stop-color="#f0f0f0"/><stop offset="0.8853" stop-color="#f0f0f0"/><stop offset="0.8888" stop-color="#686868"/><stop offset="0.8910" stop-color="#686868"/><stop offset="0.8945" stop-color="#a0a0a0"/><stop offset="0.8967" stop-color="#a0a0a0"/><stop offset="0.9001" stop-color="#989898"/><stop offset="0.9066" stop-color="#989898"/><stop offset="0.9101" stop-color="#f8f8f8"/><stop offset="0.9180" stop-color="#f8f8f8"/><stop offset="0.9214" stop-color="#b8b8b8"/><stop offset="0.9245" stop-color="#b8b8b8"/><stop offset="0.9280" stop-color="#ffffff"/><stop offset="1.0000" stop-color="#ffffff"/></linearGradient>
<linearGradient id="h5" gradientUnits="userSpaceOnUse" x1="0" y1="126.72" x2="0" y2="561.50"><stop offset="0.0000" stop-color="#ffffff"/><stop offset="0.0366" stop-color="#ffffff"/><stop offset="0.0401" stop-color="#c0c0c0"/><stop offset="0.0434" stop-color="#c0c0c0"/><stop offset="0.0469" stop-color="#8c8c8c"/><stop offset="0.0494" stop-color="#8c8c8c"/><stop offset="0.0528" stop-color="#b8b8b8"/><stop offset="0.0562" stop-color="#b8b8b8"/><stop offset="0.0597" stop-color="#808080"/><stop offset="0.0610" stop-color="#808080"/><stop offset="0.0645" stop-color="#ececec"/><stop offset="0.0676" stop-color="#ececec"/><stop offset="0.0710" stop-color="#b4b4b4"/><stop offset="0.0764" stop-color="#b4b4b4"/><stop offset="0.0798" stop-color="#a0a0a0"/><stop offset="0.0835" stop-color="#a0a0a0"/><stop offset="0.0869" stop-color="#c0c0c0"/><stop offset="0.0900" stop-color="#c0c0c0"/><stop offset="0.0934" stop-color="#d0d0d0"/><stop offset="0.0957" stop-color="#d0d0d0"/><stop offset="0.0991" stop-color="#a8a8a8"/><stop offset="0.1019" stop-color="#a8a8a8"/><stop offset="0.1054" stop-color="#c0c0c0"/><stop offset="0.1119" stop-color="#c0c0c0"/><stop offset="0.1153" stop-color="#d4d4d4"/><stop offset="0.1218" stop-color="#d4d4d4"/><stop offset="0.1252" stop-color="#a8a8a8"/><stop offset="0.1275" stop-color="#a8a8a8"/><stop offset="0.1309" stop-color="#c8c8c8"/><stop offset="0.1332" stop-color="#c8c8c8"/><stop offset="0.1366" stop-color="#a0a0a0"/><stop offset="0.1402" stop-color="#a0a0a0"/><stop offset="0.1437" stop-color="#c4c4c4"/><stop offset="0.1516" stop-color="#c4c4c4"/><stop offset="0.1551" stop-color="#606060"/><stop offset="0.1568" stop-color="#606060"/><stop offset="0.1602" stop-color="#c0c0c0"/><stop offset="0.1622" stop-color="#c0c0c0"/><stop offset="0.1656" stop-color="#a0a0a0"/><stop offset="0.1678" stop-color="#a0a0a0"/><stop offset="0.1713" stop-color="#484848"/><stop offset="0.1792" stop-color="#484848"/><stop offset="0.1827" stop-color="#b0b0b0"/><stop offset="0.1849" stop-color="#b0b0b0"/><stop offset="0.1883" stop-color="#505050"/><stop offset="0.1906" stop-color="#505050"/><stop offset="0.1940" stop-color="#c0c0c0"/><stop offset="0.1962" stop-color="#c0c0c0"/><stop offset="0.1997" stop-color="#484848"/><stop offset="0.2076" stop-color="#484848"/><stop offset="0.2111" stop-color="#d8d8d8"/><stop offset="0.2133" stop-color="#d8d8d8"/><stop offset="0.2167" stop-color="#505050"/><stop offset="0.2190" stop-color="#505050"/><stop offset="0.2224" stop-color="#707070"/><stop offset="0.2244" stop-color="#707070"/><stop offset="0.2278" stop-color="#909090"/><stop offset="0.2300" stop-color="#909090"/><stop offset="0.2335" stop-color="#d8d8d8"/><stop offset="0.2584" stop-color="#d8d8d8"/><stop offset="0.2619" stop-color="#e4e4e4"/><stop offset="0.2641" stop-color="#e4e4e4"/><stop offset="0.2676" stop-color="#a0a0a0"/><stop offset="0.2698" stop-color="#a0a0a0"/><stop offset="0.2732" stop-color="#d0d0d0"/><stop offset="0.2746" stop-color="#d0d0d0"/><stop offset="0.2781" stop-color="#282828"/><stop offset="0.2811" stop-color="#282828"/><stop offset="0.2846" stop-color="#b0b0b0"/><stop offset="0.2925" stop-color="#b0b0b0"/><stop offset="0.2960" stop-color="#989898"/><stop offset="0.3039" stop-color="#989898"/><stop offset="0.3073" stop-color="#b8b8b8"/><stop offset="0.3095" stop-color="#b8b8b8"/><stop offset="0.3130" stop-color="#a0a0a0"/><stop offset="0.3152" stop-color="#a0a0a0"/><stop offset="0.3187" stop-color="#b0b0b0"/><stop offset="0.3232" stop-color="#b0b0b0"/><stop offset="0.3264" stop-color="#b0b0b0"/><stop offset="0.3264" stop-color="#b0b0b0"/><stop offset="0.3295" stop-color="#b8b8b8"/><stop offset="0.3360" stop-color="#b8b8b8"/><stop offset="0.3395" stop-color="#a0a0a0"/><stop offset="0.3431" stop-color="#a0a0a0"/><stop offset="0.3466" stop-color="#c8c8c8"/><stop offset="0.3530" stop-color="#c8c8c8"/><stop offset="0.3565" stop-color="#989898"/><stop offset="0.3601" stop-color="#989898"/><stop offset="0.3636" stop-color="#888888"/><stop offset="0.3772" stop-color="#888888"/><stop offset="0.3806" stop-color="#c0c0c0"/><stop offset="0.3829" stop-color="#c0c0c0"/><stop offset="0.3863" stop-color="#a8a8a8"/><stop offset="0.3885" stop-color="#a8a8a8"/><stop offset="0.3920" stop-color="#a0a0a0"/><stop offset="0.3942" stop-color="#a0a0a0"/><stop offset="0.3977" stop-color="#c8c8c8"/><stop offset="0.4113" stop-color="#c8c8c8"/><stop offset="0.4147" stop-color="#989898"/><stop offset="0.4169" stop-color="#989898"/><stop offset="0.4204" stop-color="#e0e0e0"/><stop offset="0.4269" stop-color="#e0e0e0"/><stop offset="0.4303" stop-color="#606060"/><stop offset="0.4334" stop-color="#606060"/><stop offset="0.4368" stop-color="#b0b0b0"/><stop offset="0.4382" stop-color="#b0b0b0"/><stop offset="0.4417" stop-color="#686868"/><stop offset="0.4448" stop-color="#686868"/><stop offset="0.4482" stop-color="#c4c4c4"/><stop offset="0.4567" stop-color="#c4c4c4"/><stop offset="0.4601" stop-color="#b0b0b0"/><stop offset="0.4618" stop-color="#b0b0b0"/><stop offset="0.4652" stop-color="#505050"/><stop offset="0.4675" stop-color="#505050"/><stop offset="0.4709" stop-color="#909090"/><stop offset="0.4723" stop-color="#909090"/><stop offset="0.4758" stop-color="#d0d0d0"/><stop offset="0.4788" stop-color="#d0d0d0"/><stop offset="0.4823" stop-color="#b0b0b0"/><stop offset="0.4837" stop-color="#b0b0b0"/><stop offset="0.4871" stop-color="#c8c8c8"/><stop offset="0.4888" stop-color="#c8c8c8"/><stop offset="0.4913" stop-color="#808080"/><stop offset="0.4913" stop-color="#808080"/><stop offset="0.4937" stop-color="#a0a0a0"/><stop offset="0.4956" stop-color="#a0a0a0"/><stop offset="0.4991" stop-color="#c8c8c8"/><stop offset="0.5013" stop-color="#c8c8c8"/><stop offset="0.5048" stop-color="#a0a0a0"/><stop offset="0.5070" stop-color="#a0a0a0"/><stop offset="0.5104" stop-color="#a8a8a8"/><stop offset="0.5127" stop-color="#a8a8a8"/><stop offset="0.5161" stop-color="#b0b0b0"/><stop offset="0.5184" stop-color="#b0b0b0"/><stop offset="0.5218" stop-color="#989898"/><stop offset="0.5240" stop-color="#989898"/><stop offset="0.5275" stop-color="#c0c0c0"/><stop offset="0.5294" stop-color="#c0c0c0"/><stop offset="0.5329" stop-color="#484848"/><stop offset="0.5351" stop-color="#484848"/><stop offset="0.5386" stop-color="#a0a0a0"/><stop offset="0.5408" stop-color="#a0a0a0"/><stop offset="0.5442" stop-color="#989898"/><stop offset="0.5465" stop-color="#989898"/><stop offset="0.5499" stop-color="#787878"/><stop offset="0.5519" stop-color="#787878"/><stop offset="0.5553" stop-color="#a0a0a0"/><stop offset="0.5632" stop-color="#a0a0a0"/><stop offset="0.5667" stop-color="#707070"/><stop offset="0.5689" stop-color="#707070"/><stop offset="0.5724" stop-color="#b0b0b0"/><stop offset="0.5746" stop-color="#b0b0b0"/><stop offset="0.5780" stop-color="#a0a0a0"/><stop offset="0.5803" stop-color="#a0a0a0"/><stop offset="0.5837" stop-color="#585858"/><stop offset="0.5859" stop-color="#585858"/><stop offset="0.5894" stop-color="#787878"/><stop offset="0.5916" stop-color="#787878"/><stop offset="0.5951" stop-color="#c0c0c0"/><stop offset="0.5973" stop-color="#c0c0c0"/><stop offset="0.6007" stop-color="#808080"/><stop offset="0.6030" stop-color="#808080"/><stop offset="0.6064" stop-color="#a0a0a0"/><stop offset="0.6140" stop-color="#a0a0a0"/><stop offset="0.6175" stop-color="#989898"/><stop offset="0.6197" stop-color="#989898"/><stop offset="0.6232" stop-color="#909090"/><stop offset="0.6254" stop-color="#909090"/><stop offset="0.6289" stop-color="#a0a0a0"/><stop offset="0.6311" stop-color="#a0a0a0"/><stop offset="0.6345" stop-color="#686868"/><stop offset="0.6368" stop-color="#686868"/><stop offset="0.6402" stop-color="#a0a0a0"/><stop offset="0.6424" stop-color="#a0a0a0"/><stop offset="0.6459" stop-color="#686868"/><stop offset="0.6481" stop-color="#686868"/><stop offset="0.6516" stop-color="#a0a0a0"/><stop offset="0.6537" stop-color="#a0a0a0"/><stop offset="0.6572" stop-color="#b0b0b0"/><stop offset="0.6593" stop-color="#b0b0b0"/><stop offset="0.6627" stop-color="#a0a0a0"/><stop offset="0.6649" stop-color="#a0a0a0"/><stop offset="0.6684" stop-color="#808080"/><stop offset="0.6706" stop-color="#808080"/><stop offset="0.6741" stop-color="#c0c0c0"/><stop offset="0.6763" stop-color="#c0c0c0"/><stop offset="0.6797" stop-color="#909090"/><stop offset="0.6933" stop-color="#909090"/><stop offset="0.6968" stop-color="#b0b0b0"/><stop offset="0.6990" stop-color="#b0b0b0"/><stop offset="0.7025" stop-color="#505050"/><stop offset="0.7033" stop-color="#505050"/><stop offset="0.7067" stop-color="#a0a0a0"/><stop offset="0.7089" stop-color="#a0a0a0"/><stop offset="0.7124" stop-color="#585858"/><stop offset="0.7214" stop-color="#585858"/><stop offset="0.7249" stop-color="#a0a0a0"/><stop offset="0.7271" stop-color="#a0a0a0"/><stop offset="0.7306" stop-color="#505050"/><stop offset="0.7328" stop-color="#505050"/><stop offset="0.7362" stop-color="#909090"/><stop offset="0.7385" stop-color="#909090"/><stop offset="0.7419" stop-color="#c0c0c0"/><stop offset="0.7430" stop-color="#c0c0c0"/><stop offset="0.7465" stop-color="#686868"/><stop offset="0.7495" stop-color="#686868"/><stop offset="0.7530" stop-color="#808080"/><stop offset="0.7609" stop-color="#808080"/><stop offset="0.7644" stop-color="#b0b0b0"/><stop offset="0.7666" stop-color="#b0b0b0"/><stop offset="0.7700" stop-color="#505050"/><stop offset="0.7723" stop-color="#505050"/><stop offset="0.7757" stop-color="#a0a0a0"/><stop offset="0.7779" stop-color="#a0a0a0"/><stop offset="0.7814" stop-color="#f8f8f8"/><stop offset="0.7836" stop-color="#f8f8f8"/><stop offset="0.7871" stop-color="#989898"/><stop offset="0.7950" stop-color="#989898"/><stop offset="0.7984" stop-color="#c0c0c0"/><stop offset="0.8063" stop-color="#c0c0c0"/><stop offset="0.8098" stop-color="#b0b0b0"/><stop offset="0.8120" stop-color="#b0b0b0"/><stop offset="0.8155" stop-color="#c8c8c8"/><stop offset="0.8175" stop-color="#c8c8c8"/><stop offset="0.8210" stop-color="#f0f0f0"/><stop offset="0.8231" stop-color="#f0f0f0"/><stop offset="0.8266" stop-color="#d0d0d0"/><stop offset="0.8288" stop-color="#d0d0d0"/><stop offset="0.8323" stop-color="#b8b8b8"/><stop offset="0.8345" stop-color="#b8b8b8"/><stop offset="0.8380" stop-color="#b0b0b0"/><stop offset="0.8399" stop-color="#b0b0b0"/><stop offset="0.8434" stop-color="#ffffff"/><stop offset="0.8513" stop-color="#ffffff"/><stop offset="0.8547" stop-color="#b0b0b0"/><stop offset="0.8569" stop-color="#b0b0b0"/><stop offset="0.8604" stop-color="#a8a8a8"/><stop offset="0.8626" stop-color="#a8a8a8"/><stop offset="0.8661" stop-color="#c0c0c0"/><stop offset="0.8683" stop-color="#c0c0c0"/><stop offset="0.8717" stop-color="#b8b8b8"/><stop offset="0.8740" stop-color="#b8b8b8"/><stop offset="0.8774" stop-color="#b0b0b0"/><stop offset="0.8797" stop-color="#b0b0b0"/><stop offset="0.8831" stop-color="#f8f8f8"/><stop offset="0.8853" stop-color="#f8f8f8"/><stop offset="0.8888" stop-color="#e0e0e0"/><stop offset="0.8910" stop-color="#e0e0e0"/><stop offset="0.8945" stop-color="#f0f0f0"/><stop offset="0.8967" stop-color="#f0f0f0"/><stop offset="0.9001" stop-color="#e0e0e0"/><stop offset="0.9066" stop-color="#e0e0e0"/><stop offset="0.9101" stop-color="#fcfcfc"/><stop offset="0.9137" stop-color="#fcfcfc"/><stop offset="0.9172" stop-color="#e4e4e4"/><stop offset="0.9245" stop-color="#e4e4e4"/><stop offset="0.9280" stop-color="#fafafa"/><stop offset="0.9535" stop-color="#fafafa"/><stop offset="0.9569" stop-color="#ffffff"/><stop offset="1.0000" stop-color="#ffffff"/></linearGradient>
<linearGradient id="h6" gradientUnits="userSpaceOnUse" x1="0" y1="126.72" x2="0" y2="561.50"><stop offset="0.0000" stop-color="#ffffff"/><stop offset="0.0434" stop-color="#ffffff"/><stop offset="0.0469" stop-color="#989898"/><stop offset="0.0488" stop-color="#989898"/><stop offset="0.0523" stop-color="#b0b0b0"/><stop offset="0.0531" stop-color="#b0b0b0"/><stop offset="0.0565" stop-color="#a4a4a4"/><stop offset="0.0607" stop-color="#a4a4a4"/><stop offset="0.0642" stop-color="#f0f0f0"/><stop offset="0.0676" stop-color="#f0f0f0"/><stop offset="0.0710" stop-color="#c8c8c8"/><stop offset="0.0744" stop-color="#c8c8c8"/><stop offset="0.0778" stop-color="#d8d8d8"/><stop offset="0.0786" stop-color="#d8d8d8"/><stop offset="0.0821" stop-color="#bcbcbc"/><stop offset="0.0877" stop-color="#bcbcbc"/><stop offset="0.0912" stop-color="#e8e8e8"/><stop offset="0.0971" stop-color="#e8e8e8"/><stop offset="0.1005" stop-color="#d4d4d4"/><stop offset="0.1013" stop-color="#d4d4d4"/><stop offset="0.1048" stop-color="#e0e0e0"/><stop offset="0.1119" stop-color="#e0e0e0"/><stop offset="0.1153" stop-color="#c8c8c8"/><stop offset="0.1170" stop-color="#c8c8c8"/><stop offset="0.1204" stop-color="#f4f4f4"/><stop offset="0.1232" stop-color="#f4f4f4"/><stop offset="0.1267" stop-color="#d0d0d0"/><stop offset="0.1283" stop-color="#d0d0d0"/><stop offset="0.1318" stop-color="#ececec"/><stop offset="0.1340" stop-color="#ececec"/><stop offset="0.1375" stop-color="#d0d0d0"/><stop offset="0.1402" stop-color="#d0d0d0"/><stop offset="0.1437" stop-color="#f0f0f0"/><stop offset="0.1473" stop-color="#f0f0f0"/><stop offset="0.1508" stop-color="#c8c8c8"/><stop offset="0.1568" stop-color="#c8c8c8"/><stop offset="0.1602" stop-color="#f0f0f0"/><stop offset="0.1622" stop-color="#f0f0f0"/><stop offset="0.1656" stop-color="#a8a8a8"/><stop offset="0.1678" stop-color="#a8a8a8"/><stop offset="0.1713" stop-color="#c0c0c0"/><stop offset="0.1792" stop-color="#c0c0c0"/><stop offset="0.1827" stop-color="#b0b0b0"/><stop offset="0.1906" stop-color="#b0b0b0"/><stop offset="0.1940" stop-color="#404040"/><stop offset="0.1962" stop-color="#404040"/><stop offset="0.1997" stop-color="#c0c0c0"/><stop offset="0.2076" stop-color="#c0c0c0"/><stop offset="0.2111" stop-color="#e0e0e0"/><stop offset="0.2133" stop-color="#e0e0e0"/><stop offset="0.2167" stop-color="#c8c8c8"/><stop offset="0.2190" stop-color="#c8c8c8"/><stop offset="0.2224" stop-color="#ffffff"/><stop offset="0.2252" stop-color="#ffffff"/><stop offset="0.2287" stop-color="#c0c0c0"/><stop offset="0.2300" stop-color="#c0c0c0"/><stop offset="0.2335" stop-color="#606060"/><stop offset="0.2357" stop-color="#606060"/><stop offset="0.2392" stop-color="#808080"/><stop offset="0.2414" stop-color="#808080"/><stop offset="0.2448" stop-color="#484848"/><stop offset="0.2471" stop-color="#484848"/><stop offset="0.2505" stop-color="#707070"/><stop offset="0.2584" stop-color="#707070"/><stop offset="0.2619" stop-color="#e0e0e0"/><stop offset="0.2641" stop-color="#e0e0e0"/><stop offset="0.2676" stop-color="#707070"/><stop offset="0.2698" stop-color="#707070"/><stop offset="0.2732" stop-color="#d0d0d0"/><stop offset="0.2755" stop-color="#d0d0d0"/><stop offset="0.2789" stop-color="#808080"/><stop offset="0.2811" stop-color="#808080"/><stop offset="0.2846" stop-color="#a0a0a0"/><stop offset="0.2925" stop-color="#a0a0a0"/><stop offset="0.2960" stop-color="#808080"/><stop offset="0.2982" stop-color="#808080"/><stop offset="0.3016" stop-color="#686868"/><stop offset="0.3039" stop-color="#686868"/><stop offset="0.3073" stop-color="#a0a0a0"/><stop offset="0.3095" stop-color="#a0a0a0"/><stop offset="0.3130" stop-color="#b0b0b0"/><stop offset="0.3152" stop-color="#b0b0b0"/><stop offset="0.3187" stop-color="#a8a8a8"/><stop offset="0.3232" stop-color="#a8a8a8"/><stop offset="0.3264" stop-color="#c8c8c8"/><stop offset="0.3264" stop-color="#c8c8c8"/><stop offset="0.3295" stop-color="#909090"/><stop offset="0.3317" stop-color="#909090"/><stop offset="0.3352" stop-color="#c0c0c0"/><stop offset="0.3374" stop-color="#c0c0c0"/><stop offset="0.3409" stop-color="#a0a0a0"/><stop offset="0.3431" stop-color="#a0a0a0"/><stop offset="0.3466" stop-color="#c0c0c0"/><stop offset="0.3488" stop-color="#c0c0c0"/><stop offset="0.3522" stop-color="#f0f0f0"/><stop offset="0.3539" stop-color="#f0f0f0"/><stop offset="0.3573" stop-color="#686868"/><stop offset="0.3658" stop-color="#686868"/><stop offset="0.3693" stop-color="#a8a8a8"/><stop offset="0.3772" stop-color="#a8a8a8"/><stop offset="0.3806" stop-color="#b0b0b0"/><stop offset="0.3880" stop-color="#b0b0b0"/><stop offset="0.3914" stop-color="#606060"/><stop offset="0.3936" stop-color="#606060"/><stop offset="0.3971" stop-color="#d8d8d8"/><stop offset="0.3999" stop-color="#d8d8d8"/><stop offset="0.4033" stop-color="#c8c8c8"/><stop offset="0.4056" stop-color="#c8c8c8"/><stop offset="0.4090" stop-color="#d0d0d0"/><stop offset="0.4113" stop-color="#d0d0d0"/><stop offset="0.4147" stop-color="#909090"/><stop offset="0.4169" stop-color="#909090"/><stop offset="0.4204" stop-color="#f0f0f0"/><stop offset="0.4226" stop-color="#f0f0f0"/><stop offset="0.4261" stop-color="#a0a0a0"/><stop offset="0.4277" stop-color="#a0a0a0"/><stop offset="0.4312" stop-color="#606060"/><stop offset="0.4334" stop-color="#606060"/><stop offset="0.4368" stop-color="#989898"/><stop offset="0.4448" stop-color="#989898"/><stop offset="0.4482" stop-color="#d0d0d0"/><stop offset="0.4510" stop-color="#d0d0d0"/><stop offset="0.4545" stop-color="#c0c0c0"/><stop offset="0.4567" stop-color="#c0c0c0"/><stop offset="0.4601" stop-color="#d0d0d0"/><stop offset="0.4624" stop-color="#d0d0d0"/><stop offset="0.4658" stop-color="#989898"/><stop offset="0.4737" stop-color="#989898"/><stop offset="0.4772" stop-color="#b0b0b0"/><stop offset="0.4794" stop-color="#b0b0b0"/><stop offset="0.4828" stop-color="#c8c8c8"/><stop offset="0.4888" stop-color="#c8c8c8"/><stop offset="0.4913" stop-color="#a0a0a0"/><stop offset="0.4913" stop-color="#a0a0a0"/><stop offset="0.4937" stop-color="#585858"/><stop offset="0.4956" stop-color="#585858"/><stop offset="0.4991" stop-color="#f8f8f8"/><stop offset="0.5013" stop-color="#f8f8f8"/><stop offset="0.5048" stop-color="#a8a8a8"/><stop offset="0.5070" stop-color="#a8a8a8"/><stop offset="0.5104" stop-color="#c0c0c0"/><stop offset="0.5127" stop-color="#c0c0c0"/><stop offset="0.5161" stop-color="#a8a8a8"/><stop offset="0.5184" stop-color="#a8a8a8"/><stop offset="0.5218" stop-color="#e8e8e8"/><stop offset="0.5240" stop-color="#e8e8e8"/><stop offset="0.5275" stop-color="#909090"/><stop offset="0.5294" stop-color="#909090"/><stop offset="0.5329" stop-color="#808080"/><stop offset="0.5351" stop-color="#808080"/><stop offset="0.5386" stop-color="#909090"/><stop offset="0.5408" stop-color="#909090"/><stop offset="0.5442" stop-color="#888888"/><stop offset="0.5456" stop-color="#888888"/><stop offset="0.5491" stop-color="#505050"/><stop offset="0.5513" stop-color="#505050"/><stop offset="0.5547" stop-color="#909090"/><stop offset="0.5570" stop-color="#909090"/><stop offset="0.5604" stop-color="#a0a0a0"/><stop offset="0.5632" stop-color="#a0a0a0"/><stop offset="0.5667" stop-color="#888888"/><stop offset="0.5689" stop-color="#888888"/><stop offset="0.5724" stop-color="#b8b8b8"/><stop offset="0.5803" stop-color="#b8b8b8"/><stop offset="0.5837" stop-color="#a0a0a0"/><stop offset="0.5859" stop-color="#a0a0a0"/><stop offset="0.5894" stop-color="#888888"/><stop offset="0.5916" stop-color="#888888"/><stop offset="0.5951" stop-color="#d8d8d8"/><stop offset="0.5973" stop-color="#d8d8d8"/><stop offset="0.6007" stop-color="#909090"/><stop offset="0.6030" stop-color="#909090"/><stop offset="0.6064" stop-color="#c0c0c0"/><stop offset="0.6140" stop-color="#c0c0c0"/><stop offset="0.6175" stop-color="#909090"/><stop offset="0.6254" stop-color="#909090"/><stop offset="0.6289" stop-color="#707070"/><stop offset="0.6353" stop-color="#707070"/><stop offset="0.6388" stop-color="#c0c0c0"/><stop offset="0.6424" stop-color="#c0c0c0"/><stop offset="0.6459" stop-color="#909090"/><stop offset="0.6537" stop-color="#909090"/><stop offset="0.6572" stop-color="#989898"/><stop offset="0.6593" stop-color="#989898"/><stop offset="0.6627" stop-color="#b0b0b0"/><stop offset="0.6649" stop-color="#b0b0b0"/><stop offset="0.6684" stop-color="#909090"/><stop offset="0.6706" stop-color="#909090"/><stop offset="0.6741" stop-color="#b0b0b0"/><stop offset="0.6763" stop-color="#b0b0b0"/><stop offset="0.6797" stop-color="#a0a0a0"/><stop offset="0.6820" stop-color="#a0a0a0"/><stop offset="0.6854" stop-color="#989898"/><stop offset="0.6876" stop-color="#989898"/><stop offset="0.6911" stop-color="#b0b0b0"/><stop offset="0.6933" stop-color="#b0b0b0"/><stop offset="0.6968" stop-color="#c0c0c0"/><stop offset="0.7044" stop-color="#c0c0c0"/><stop offset="0.7079" stop-color="#e0e0e0"/><stop offset="0.7101" stop-color="#e0e0e0"/><stop offset="0.7135" stop-color="#d0d0d0"/><stop offset="0.7158" stop-color="#d0d0d0"/><stop offset="0.7192" stop-color="#c0c0c0"/><stop offset="0.7271" stop-color="#c0c0c0"/><stop offset="0.7306" stop-color="#b0b0b0"/><stop offset="0.7328" stop-color="#b0b0b0"/><stop offset="0.7362" stop-color="#989898"/><stop offset="0.7385" stop-color="#989898"/><stop offset="0.7419" stop-color="#a8a8a8"/><stop offset="0.7495" stop-color="#a8a8a8"/><stop offset="0.7530" stop-color="#d0d0d0"/><stop offset="0.7609" stop-color="#d0d0d0"/><stop offset="0.7644" stop-color="#f8f8f8"/><stop offset="0.7666" stop-color="#f8f8f8"/><stop offset="0.7700" stop-color="#606060"/><stop offset="0.7723" stop-color="#606060"/><stop offset="0.7757" stop-color="#f0f0f0"/><stop offset="0.7779" stop-color="#f0f0f0"/><stop offset="0.7814" stop-color="#f8f8f8"/><stop offset="0.7836" stop-color="#f8f8f8"/><stop offset="0.7871" stop-color="#989898"/><stop offset="0.7893" stop-color="#989898"/><stop offset="0.7928" stop-color="#e0e0e0"/><stop offset="0.8063" stop-color="#e0e0e0"/><stop offset="0.8098" stop-color="#d8d8d8"/><stop offset="0.8120" stop-color="#d8d8d8"/><stop offset="0.8155" stop-color="#f0f0f0"/><stop offset="0.8175" stop-color="#f0f0f0"/><stop offset="0.8210" stop-color="#ececec"/><stop offset="0.8288" stop-color="#ececec"/><stop offset="0.8323" stop-color="#e0e0e0"/><stop offset="0.8328" stop-color="#e0e0e0"/><stop offset="0.8363" stop-color="#707070"/><stop offset="0.8399" stop-color="#707070"/><stop offset="0.8434" stop-color="#fcfcfc"/><stop offset="0.8569" stop-color="#fcfcfc"/><stop offset="0.8604" stop-color="#a8a8a8"/><stop offset="0.8626" stop-color="#a8a8a8"/><stop offset="0.8661" stop-color="#dcdcdc"/><stop offset="0.8797" stop-color="#dcdcdc"/><stop offset="0.8831" stop-color="#f8f8f8"/><stop offset="0.8853" stop-color="#f8f8f8"/><stop offset="0.8888" stop-color="#e0e0e0"/><stop offset="0.8910" stop-color="#e0e0e0"/><stop offset="0.8945" stop-color="#f4f4f4"/><stop offset="0.8967" stop-color="#f4f4f4"/><stop offset="0.9001" stop-color="#e4e4e4"/><stop offset="0.9066" stop-color="#e4e4e4"/><stop offset="0.9101" stop-color="#ffffff"/><stop offset="0.9166" stop-color="#ffffff"/><stop offset="0.9200" stop-color="#f4f4f4"/><stop offset="0.9245" stop-color="#f4f4f4"/><stop offset="0.9280" stop-color="#ffffff"/><stop offset="1.0000" stop-color="#ffffff"/></linearGradient>
<clipPath id="mc"><rect x="969.3" y="92.3" width="866.3" height="418.0"/></clipPath>
<filter id="mb" x="-2%" y="-2%" width="104%" height="104%"><feGaussianBlur stdDeviation="1" result="b"/><feComposite in="SourceGraphic" in2="b" operator="arithmetic" k1="0" k2="0.45" k3="0.55" k4="0"/></filter>
</defs>
<rect x="86.4" y="114.7" width="39.0" height="141.5" fill="url(#cb)" stroke="#111" stroke-width="1.1"/>
<line x1="125.8" x2="130.3" y1="140.1" y2="140.1" stroke="#111" stroke-width="1.1"/>
<line x1="125.8" x2="130.3" y1="178.8" y2="178.8" stroke="#111" stroke-width="1.1"/>
<line x1="125.8" x2="130.3" y1="217.5" y2="217.5" stroke="#111" stroke-width="1.1"/>
<line x1="125.8" x2="130.3" y1="256.2" y2="256.2" stroke="#111" stroke-width="1.1"/>
<rect x="274.80" y="109.7" width="77.6" height="16" fill="#0028ff"/>
<rect x="352.17" y="109.7" width="77.6" height="16" fill="#00d4ff"/>
<rect x="429.54" y="109.7" width="77.6" height="16" fill="#7dff7a"/>
<rect x="506.91" y="109.7" width="77.6" height="16" fill="#ffe600"/>
<rect x="584.28" y="109.7" width="77.6" height="16" fill="#ff4700"/>
<rect x="661.65" y="109.7" width="77.6" height="16" fill="#800000"/>
<rect x="274.3" y="126.0" width="465.3" height="435.5" fill="#fff"/>
<rect x="274.30" y="126.72" width="78.20" height="434.78" fill="url(#h1)"/>
<rect x="352.20" y="126.72" width="77.65" height="434.78" fill="url(#h2)"/>
<rect x="429.55" y="126.72" width="77.65" height="434.78" fill="url(#h3)"/>
<rect x="506.90" y="126.72" width="77.70" height="434.78" fill="url(#h4)"/>
<rect x="584.30" y="126.72" width="77.70" height="434.78" fill="url(#h5)"/>
<rect x="661.70" y="126.72" width="78.20" height="434.78" fill="url(#h6)"/>
<rect x="256.3" y="126.80" width="18.2" height="17.10" fill="#0028ff"/>
<rect x="256.3" y="143.75" width="18.2" height="2.62" fill="#7dff7a"/>
<rect x="256.3" y="146.22" width="18.2" height="2.99" fill="#ff4700"/>
<rect x="256.3" y="149.06" width="18.2" height="2.74" fill="#00d4ff"/>
<rect x="256.3" y="151.65" width="18.2" height="2.87" fill="#ff4700"/>
<rect x="256.3" y="154.37" width="18.2" height="2.87" fill="#0028ff"/>
<rect x="256.3" y="157.09" width="18.2" height="7.19" fill="#00d4ff"/>
<rect x="256.3" y="164.12" width="18.2" height="4.84" fill="#0028ff"/>
<rect x="256.3" y="168.81" width="18.2" height="4.72" fill="#00d4ff"/>
<rect x="256.3" y="173.38" width="18.2" height="3.24" fill="#ffe600"/>
<rect x="256.3" y="176.47" width="18.2" height="2.00" fill="#0028ff"/>
<rect x="256.3" y="178.32" width="18.2" height="2.87" fill="#ffe600"/>
<rect x="256.3" y="181.04" width="18.2" height="2.13" fill="#00d4ff"/>
<rect x="256.3" y="183.01" width="18.2" height="2.87" fill="#ffe600"/>
<rect x="256.3" y="185.73" width="18.2" height="2.62" fill="#00d4ff"/>
<rect x="256.3" y="188.20" width="18.2" height="3.24" fill="#ffe600"/>
<rect x="256.3" y="191.28" width="18.2" height="2.62" fill="#0028ff"/>
<rect x="256.3" y="193.75" width="18.2" height="2.00" fill="#ff4700"/>
<rect x="256.3" y="195.63" width="18.2" height="2.50" fill="#ffe600"/>
<rect x="256.3" y="197.98" width="18.2" height="2.62" fill="#00d4ff"/>
<rect x="256.3" y="200.44" width="18.2" height="5.09" fill="#ff4700"/>
<rect x="256.3" y="205.38" width="18.2" height="2.62" fill="#00d4ff"/>
<rect x="256.3" y="207.85" width="18.2" height="2.62" fill="#ff4700"/>
<rect x="256.3" y="210.32" width="18.2" height="2.62" fill="#800000"/>
<rect x="256.3" y="212.79" width="18.2" height="5.09" fill="#ff4700"/>
<rect x="256.3" y="217.73" width="18.2" height="2.50" fill="#00d4ff"/>
<rect x="256.3" y="220.07" width="18.2" height="5.09" fill="#ff4700"/>
<rect x="256.3" y="225.01" width="18.2" height="2.62" fill="#00d4ff"/>
<rect x="256.3" y="227.48" width="18.2" height="12.50" fill="#800000"/>
<rect x="256.3" y="239.83" width="18.2" height="2.62" fill="#7dff7a"/>
<rect x="256.3" y="242.30" width="18.2" height="2.50" fill="#800000"/>
<rect x="256.3" y="244.64" width="18.2" height="2.62" fill="#7dff7a"/>
<rect x="256.3" y="247.11" width="18.2" height="2.62" fill="#ff4700"/>
<rect x="256.3" y="249.58" width="18.2" height="2.62" fill="#7dff7a"/>
<rect x="256.3" y="252.05" width="18.2" height="2.62" fill="#00d4ff"/>
<rect x="256.3" y="254.52" width="18.2" height="5.09" fill="#800000"/>
<rect x="256.3" y="259.46" width="18.2" height="2.62" fill="#00d4ff"/>
<rect x="256.3" y="261.93" width="18.2" height="6.20" fill="#7dff7a"/>
<rect x="256.3" y="268.00" width="18.2" height="13.73" fill="#7dff7a"/>
<rect x="256.3" y="281.58" width="18.2" height="5.09" fill="#800000"/>
<rect x="256.3" y="286.52" width="18.2" height="9.90" fill="#7dff7a"/>
<rect x="256.3" y="296.27" width="18.2" height="2.62" fill="#800000"/>
<rect x="256.3" y="298.74" width="18.2" height="7.56" fill="#7dff7a"/>
<rect x="256.3" y="306.15" width="18.2" height="2.50" fill="#800000"/>
<rect x="256.3" y="308.49" width="18.2" height="2.62" fill="#7dff7a"/>
<rect x="256.3" y="310.96" width="18.2" height="2.62" fill="#00d4ff"/>
<rect x="256.3" y="313.43" width="18.2" height="2.62" fill="#800000"/>
<rect x="256.3" y="315.90" width="18.2" height="2.62" fill="#00d4ff"/>
<rect x="256.3" y="318.37" width="18.2" height="2.62" fill="#ff4700"/>
<rect x="256.3" y="320.84" width="18.2" height="2.62" fill="#7dff7a"/>
<rect x="256.3" y="323.31" width="18.2" height="2.62" fill="#00d4ff"/>
<rect x="256.3" y="325.78" width="18.2" height="2.62" fill="#7dff7a"/>
<rect x="256.3" y="328.25" width="18.2" height="2.50" fill="#ff4700"/>
<rect x="256.3" y="330.59" width="18.2" height="2.62" fill="#00d4ff"/>
<rect x="256.3" y="333.06" width="18.2" height="2.62" fill="#7dff7a"/>
<rect x="256.3" y="335.53" width="18.2" height="2.62" fill="#00d4ff"/>
<rect x="256.3" y="338.00" width="18.2" height="2.13" fill="#7dff7a"/>
<rect x="256.3" y="340.00" width="18.2" height="0.62" fill="#7dff7a"/>
<rect x="256.3" y="340.47" width="18.2" height="2.61" fill="#800000"/>
<rect x="256.3" y="342.93" width="18.2" height="5.06" fill="#00d4ff"/>
<rect x="256.3" y="347.84" width="18.2" height="2.61" fill="#7dff7a"/>
<rect x="256.3" y="350.30" width="18.2" height="7.52" fill="#00d4ff"/>
<rect x="256.3" y="357.67" width="18.2" height="2.61" fill="#ff4700"/>
<rect x="256.3" y="360.12" width="18.2" height="2.59" fill="#00d4ff"/>
<rect x="256.3" y="362.57" width="18.2" height="5.06" fill="#800000"/>
<rect x="256.3" y="367.48" width="18.2" height="2.61" fill="#ff4700"/>
<rect x="256.3" y="369.94" width="18.2" height="2.61" fill="#00d4ff"/>
<rect x="256.3" y="372.40" width="18.2" height="2.61" fill="#ff4700"/>
<rect x="256.3" y="374.85" width="18.2" height="5.06" fill="#00d4ff"/>
<rect x="256.3" y="379.77" width="18.2" height="5.06" fill="#ff4700"/>
<rect x="256.3" y="384.68" width="18.2" height="2.61" fill="#00d4ff"/>
<rect x="256.3" y="387.14" width="18.2" height="2.61" fill="#ff4700"/>
<rect x="256.3" y="389.59" width="18.2" height="9.96" fill="#00d4ff"/>
<rect x="256.3" y="399.41" width="18.2" height="2.61" fill="#800000"/>
<rect x="256.3" y="401.86" width="18.2" height="2.61" fill="#ff4700"/>
<rect x="256.3" y="404.32" width="18.2" height="2.61" fill="#00d4ff"/>
<rect x="256.3" y="406.78" width="18.2" height="2.61" fill="#ff4700"/>
<rect x="256.3" y="409.23" width="18.2" height="2.61" fill="#800000"/>
<rect x="256.3" y="411.69" width="18.2" height="2.61" fill="#ffe600"/>
<rect x="256.3" y="414.15" width="18.2" height="2.61" fill="#ff4700"/>
<rect x="256.3" y="416.60" width="18.2" height="2.61" fill="#00d4ff"/>
<rect x="256.3" y="419.06" width="18.2" height="2.61" fill="#ffe600"/>
<rect x="256.3" y="421.52" width="18.2" height="2.61" fill="#00d4ff"/>
<rect x="256.3" y="423.98" width="18.2" height="2.61" fill="#ffe600"/>
<rect x="256.3" y="426.43" width="18.2" height="2.61" fill="#ff4700"/>
<rect x="256.3" y="428.89" width="18.2" height="3.01" fill="#ffe600"/>
<rect x="256.3" y="431.75" width="18.2" height="2.19" fill="#ff4700"/>
<rect x="256.3" y="433.79" width="18.2" height="2.61" fill="#00d4ff"/>
<rect x="256.3" y="436.25" width="18.2" height="5.06" fill="#ff4700"/>
<rect x="256.3" y="441.16" width="18.2" height="2.61" fill="#00d4ff"/>
<rect x="256.3" y="443.62" width="18.2" height="2.61" fill="#ff4700"/>
<rect x="256.3" y="446.07" width="18.2" height="2.61" fill="#800000"/>
<rect x="256.3" y="448.53" width="18.2" height="2.61" fill="#ffe600"/>
<rect x="256.3" y="450.99" width="18.2" height="7.52" fill="#ff4700"/>
<rect x="256.3" y="458.36" width="18.2" height="2.61" fill="#00d4ff"/>
<rect x="256.3" y="460.81" width="18.2" height="5.05" fill="#ff4700"/>
<rect x="256.3" y="465.72" width="18.2" height="2.61" fill="#7dff7a"/>
<rect x="256.3" y="468.17" width="18.2" height="2.61" fill="#ffe600"/>
<rect x="256.3" y="470.63" width="18.2" height="2.61" fill="#ff4700"/>
<rect x="256.3" y="473.09" width="18.2" height="2.61" fill="#00d4ff"/>
<rect x="256.3" y="475.54" width="18.2" height="2.61" fill="#ff4700"/>
<rect x="256.3" y="478.00" width="18.2" height="5.06" fill="#0028ff"/>
<rect x="256.3" y="482.91" width="18.2" height="2.61" fill="#7dff7a"/>
<rect x="256.3" y="485.37" width="18.2" height="2.61" fill="#0028ff"/>
<rect x="256.3" y="487.83" width="18.2" height="7.52" fill="#ffe600"/>
<rect x="256.3" y="495.20" width="18.2" height="2.61" fill="#7dff7a"/>
<rect x="256.3" y="497.65" width="18.2" height="2.61" fill="#0028ff"/>
<rect x="256.3" y="500.11" width="18.2" height="2.61" fill="#ffe600"/>
<rect x="256.3" y="502.57" width="18.2" height="2.61" fill="#0028ff"/>
<rect x="256.3" y="505.02" width="18.2" height="2.61" fill="#ffe600"/>
<rect x="256.3" y="507.48" width="18.2" height="2.59" fill="#00d4ff"/>
<rect x="256.3" y="509.93" width="18.2" height="51.72" fill="#0028ff"/>
<rect x="274.3" y="126.0" width="465.3" height="435.5" fill="none" stroke="#000" stroke-width="1.3"/>
<line x1="265.3" x2="265.3" y1="40.2" y2="129.7" stroke="#000" stroke-width="2.4"/>
<g clip-path="url(#mc)"><g filter="url(#mb)">
<path d="M1472.3,225.6 L1469.4,225.0 L1467.5,225.2 L1464.8,226.5 L1461.8,225.6 L1456.7,225.0 L1453.9,224.1 L1452.4,223.6 L1448.6,222.3 L1445.6,223.6 L1444.9,224.6 L1445.5,226.3 L1444.5,227.4 L1443.4,227.8 L1441.0,226.7 L1436.0,225.4 L1434.9,223.4 L1432.0,222.6 L1430.3,222.1 L1429.4,222.3 L1426.8,221.7 L1425.9,221.2 L1425.4,220.2 L1424.1,220.1 L1423.8,219.1 L1425.2,218.0 L1425.5,216.0 L1424.8,214.5 L1425.7,212.9 L1423.9,212.7 L1422.4,212.4 L1420.0,213.3 L1417.6,212.9 L1415.4,212.9 L1413.2,213.8 L1412.1,213.4 L1408.6,213.6 L1404.9,214.0 L1402.7,214.7 L1401.4,215.6 L1399.0,216.0 L1396.8,217.1 L1395.9,217.1 L1393.7,216.6 L1391.5,216.9 L1390.2,215.8 L1388.7,215.8 L1388.0,217.3 L1386.5,219.5 L1382.6,221.5 L1381.3,222.8 L1381.0,224.1 L1380.2,225.8 L1380.6,228.7 L1378.8,230.4 L1377.8,231.1 L1376.0,232.6 L1374.0,232.8 L1372.9,233.7 L1371.4,235.9 L1370.1,236.6 L1369.2,238.1 L1369.2,239.2 L1368.6,240.5 L1367.9,240.7 L1366.6,242.2 L1365.9,243.8 L1365.9,244.4 L1364.5,246.2 L1364.4,247.3 L1365.9,250.1 L1365.7,251.2 L1365.9,252.3 L1365.5,254.5 L1365.9,256.5 L1365.5,258.9 L1365.1,260.0 L1364.0,261.5 L1363.1,261.9 L1364.0,262.6 L1365.1,264.3 L1364.8,265.2 L1365.1,267.0 L1365.3,267.4 L1365.9,267.9 L1365.9,268.3 L1367.2,268.9 L1368.6,270.0 L1369.4,270.7 L1370.3,272.2 L1371.6,273.3 L1372.7,274.6 L1373.4,277.0 L1374.5,278.1 L1376.0,279.0 L1376.7,279.2 L1378.0,280.8 L1381.9,283.6 L1384.2,284.5 L1385.2,284.7 L1387.4,283.8 L1388.9,283.2 L1391.5,282.7 L1394.4,283.2 L1395.3,283.2 L1397.3,283.8 L1399.2,283.2 L1400.5,282.5 L1404.0,281.2 L1405.8,280.8 L1407.5,280.3 L1411.0,280.3 L1412.5,281.8 L1413.4,283.4 L1414.5,284.7 L1417.1,284.3 L1418.0,284.5 L1420.2,283.6 L1420.6,284.5 L1421.1,285.6 L1422.2,286.0 L1423.0,287.3 L1422.6,289.1 L1421.9,291.5 L1422.4,291.9 L1421.9,294.3 L1420.9,295.9 L1420.9,296.5 L1422.2,298.7 L1423.7,300.6 L1425.9,302.8 L1427.6,305.0 L1428.3,306.8 L1428.5,307.4 L1429.4,309.2 L1430.5,312.9 L1429.8,313.7 L1430.5,315.5 L1431.6,317.5 L1431.6,318.8 L1431.4,320.4 L1430.7,321.5 L1429.4,322.8 L1428.3,325.6 L1427.4,328.7 L1427.2,330.6 L1427.2,332.0 L1427.4,333.7 L1429.2,335.7 L1430.9,339.8 L1432.9,342.5 L1433.1,343.8 L1433.1,346.4 L1433.8,349.7 L1434.9,353.4 L1435.7,354.9 L1437.3,356.7 L1438.4,357.6 L1439.0,359.5 L1440.1,361.3 L1441.4,363.5 L1441.4,365.0 L1441.6,367.0 L1441.9,368.7 L1443.6,369.6 L1444.5,370.2 L1445.6,370.2 L1446.9,369.4 L1448.6,369.1 L1451.0,368.3 L1453.2,368.1 L1455.6,368.5 L1456.7,368.1 L1458.1,368.3 L1459.4,367.6 L1461.8,366.7 L1463.3,365.9 L1464.8,364.6 L1467.5,362.1 L1468.6,360.6 L1470.1,358.4 L1472.1,357.1 L1472.7,356.0 L1472.9,354.3 L1473.6,351.4 L1472.9,350.3 L1473.8,349.7 L1478.2,347.7 L1479.3,346.8 L1479.1,345.5 L1479.5,342.5 L1479.1,341.8 L1478.6,340.7 L1477.5,339.0 L1477.7,337.4 L1478.6,337.0 L1481.0,335.0 L1483.4,332.6 L1485.8,331.5 L1488.0,330.6 L1489.3,329.3 L1490.9,326.3 L1490.4,325.2 L1490.0,321.7 L1490.0,319.9 L1490.2,317.7 L1489.8,316.6 L1488.9,316.2 L1488.0,314.0 L1487.4,312.7 L1487.6,309.6 L1486.5,308.3 L1486.5,307.0 L1487.4,304.4 L1488.2,303.5 L1488.7,302.2 L1489.3,301.3 L1489.8,299.8 L1491.1,298.7 L1492.6,297.8 L1493.5,296.1 L1495.9,293.4 L1498.1,291.7 L1501.4,289.7 L1503.6,287.8 L1506.0,284.9 L1507.9,282.5 L1509.9,279.2 L1511.2,276.4 L1512.3,274.0 L1512.8,271.6 L1513.2,270.9 L1513.3,269.6 L1513.4,267.8 L1512.5,267.8 L1511.7,268.5 L1509.5,269.2 L1507.5,269.2 L1505.5,269.8 L1503.6,270.5 L1501.4,270.7 L1499.2,271.3 L1498.1,271.3 L1497.2,270.3 L1495.9,268.9 L1496.3,267.0 L1494.8,265.7 L1492.8,263.7 L1491.7,262.4 L1489.1,261.3 L1487.6,259.3 L1487.2,257.3 L1485.6,254.7 L1484.5,253.8 L1483.6,253.4 L1482.8,250.8 L1483.0,248.2 L1482.3,246.0 L1479.3,242.0 L1479.3,241.6 L1477.7,239.4 L1477.1,238.1 L1476.2,237.0 L1474.5,233.5 L1473.1,231.3 L1472.3,228.9Z M1509.9,321.5 L1510.6,322.3 L1511.1,323.9 L1511.4,326.5 L1512.1,327.4 L1511.9,328.5 L1511.4,329.1 L1510.8,327.8 L1510.3,328.5 L1510.8,330.2 L1510.6,331.1 L1509.9,331.5 L1509.7,333.4 L1508.8,335.9 L1507.7,339.0 L1506.4,343.1 L1505.5,346.2 L1504.7,348.6 L1502.9,349.2 L1500.9,350.1 L1499.6,349.5 L1497.9,348.8 L1497.4,347.7 L1497.2,345.7 L1496.3,344.0 L1496.2,342.5 L1496.6,340.7 L1497.7,340.5 L1497.7,339.6 L1498.7,338.1 L1499.0,336.5 L1498.3,335.6 L1497.9,334.1 L1497.8,332.2 L1498.5,331.0 L1498.7,329.5 L1499.8,329.5 L1501.2,329.0 L1502.0,328.7 L1502.9,328.7 L1504.2,327.4 L1506.0,326.0 L1506.6,325.0 L1506.4,324.1 L1507.3,324.3 L1508.4,322.8 L1508.6,321.5 L1509.2,320.4 L1509.9,321.5Z M1007.8,491.0 L1007.8,480.1 L1027.0,477.7 L1047.7,480.1 L1068.5,480.8 L1087.1,480.1 L1078.8,477.0 L1064.3,476.0 L1060.1,472.9 L1072.6,470.8 L1078.8,469.4 L1068.5,467.7 L1056.0,464.6 L1055.0,462.9 L1068.5,463.1 L1083.0,459.0 L1103.7,457.3 L1124.4,455.7 L1136.9,454.9 L1149.3,456.3 L1165.9,457.3 L1175.3,454.2 L1182.5,455.7 L1186.7,454.9 L1205.3,453.2 L1219.8,454.2 L1230.2,454.9 L1240.6,455.3 L1248.9,453.2 L1254.1,449.0 L1252.0,443.8 L1256.1,438.7 L1265.5,434.9 L1275.9,432.9 L1267.6,436.6 L1262.4,440.7 L1263.4,444.9 L1267.6,451.1 L1267.6,455.3 L1261.3,459.4 L1248.9,461.5 L1236.4,462.5 L1230.2,466.7 L1238.5,469.8 L1259.2,472.9 L1273.8,476.0 L1290.4,472.9 L1307.0,472.9 L1323.6,469.8 L1331.8,469.4 L1336.0,467.7 L1323.6,466.1 L1331.8,463.6 L1352.6,460.5 L1365.0,457.3 L1373.3,453.2 L1383.7,450.1 L1404.4,449.0 L1400.0,450.7 L1410.4,448.0 L1420.7,447.0 L1431.1,447.4 L1451.9,446.5 L1472.6,444.9 L1493.3,444.5 L1507.8,440.3 L1520.3,438.2 L1528.6,439.7 L1541.0,441.8 L1549.3,442.4 L1552.4,444.9 L1550.4,449.0 L1553.5,452.1 L1559.7,449.0 L1572.2,442.8 L1580.4,440.7 L1592.9,440.3 L1607.4,440.7 L1619.9,440.7 L1626.1,438.2 L1632.3,440.3 L1644.7,439.1 L1659.3,439.7 L1669.6,440.7 L1696.6,439.7 L1717.3,440.3 L1723.6,442.8 L1740.1,445.3 L1756.7,448.0 L1773.3,450.7 L1771.3,453.2 L1760.9,457.3 L1756.7,461.5 L1765.0,465.2 L1756.7,466.7 L1750.5,469.8 L1756.7,473.9 L1773.3,477.0 L1783.7,479.1 L1795.4,479.5 L1795.4,491.0Z M1244.7,444.9 L1248.9,449.0 L1246.8,451.5 L1238.5,451.1 L1241.6,448.0Z M1286.2,469.8 L1294.5,465.2 L1302.8,464.8 L1306.6,468.1 L1298.7,470.4Z M1043.6,465.6 L1051.8,467.3 L1049.8,468.3 L1044.6,467.3Z M1176.3,451.5 L1188.8,451.1 L1189.1,452.1 L1178.4,452.6Z M1124.4,454.4 L1134.8,454.0 L1134.8,454.9 L1124.4,455.3Z M1257.2,469.8 L1269.6,468.9 L1269.6,470.2 L1258.2,470.6Z M1299.2,113.4 L1306.6,112.1 L1314.3,112.1 L1317.1,111.4 L1324.8,111.2 L1342.3,111.4 L1356.1,113.2 L1351.9,114.0 L1343.6,114.0 L1331.8,114.2 L1332.9,114.7 L1340.6,114.5 L1347.3,115.1 L1351.5,114.5 L1353.2,115.3 L1350.8,116.4 L1356.5,115.8 L1367.0,114.9 L1373.6,115.3 L1374.9,116.2 L1365.9,117.7 L1364.7,118.3 L1357.8,118.6 L1362.9,118.8 L1360.2,120.4 L1358.5,121.8 L1358.5,124.3 L1361.1,125.6 L1357.8,125.8 L1354.1,126.5 L1358.3,127.6 L1358.7,129.6 L1356.3,129.6 L1359.2,131.5 L1354.3,131.8 L1357.0,132.6 L1356.1,133.3 L1353.0,133.7 L1350.0,133.7 L1352.8,135.3 L1352.8,136.1 L1348.4,135.3 L1347.3,135.9 L1350.4,136.3 L1353.2,137.7 L1353.9,139.4 L1350.2,139.8 L1348.4,139.0 L1345.8,137.9 L1346.5,139.2 L1343.8,140.5 L1349.7,140.5 L1352.8,140.7 L1346.9,142.5 L1341.0,144.2 L1334.4,145.1 L1332.0,145.1 L1329.8,146.0 L1326.8,148.2 L1322.0,149.7 L1320.6,149.9 L1317.6,150.3 L1314.5,150.8 L1312.5,152.3 L1312.5,153.8 L1311.5,155.2 L1308.0,156.9 L1308.8,158.7 L1307.7,160.4 L1306.6,162.6 L1303.6,162.8 L1300.3,160.9 L1295.9,160.9 L1294.0,159.8 L1292.4,157.6 L1288.7,154.9 L1287.6,153.4 L1287.2,151.4 L1284.1,149.5 L1285.0,147.9 L1283.4,147.1 L1285.6,144.4 L1288.9,143.8 L1289.8,142.9 L1290.2,141.2 L1287.8,141.8 L1286.5,142.3 L1284.5,142.5 L1281.9,141.8 L1281.8,140.3 L1282.6,139.2 L1284.8,139.2 L1289.1,139.6 L1285.4,138.3 L1283.4,137.7 L1281.3,137.9 L1279.5,137.2 L1281.9,135.3 L1280.6,134.4 L1278.9,133.1 L1276.2,130.7 L1273.4,129.8 L1273.4,128.9 L1267.5,127.6 L1262.9,127.4 L1257.0,127.6 L1251.7,127.6 L1249.1,126.9 L1245.4,125.6 L1251.1,125.0 L1255.4,124.7 L1246.3,124.3 L1241.2,123.4 L1241.4,122.6 L1249.8,121.5 L1257.8,120.4 L1258.7,119.5 L1252.8,118.8 L1254.6,118.0 L1263.8,116.4 L1265.5,116.2 L1264.5,115.1 L1269.7,114.7 L1276.4,114.2 L1283.2,114.2 L1285.6,114.9 L1291.3,113.8 L1296.6,114.5 L1299.6,114.7 L1304.2,115.3 L1299.0,114.2 L1299.2,113.4Z M1237.9,153.2 L1237.9,152.5 L1231.6,153.6 L1229.8,152.8 L1231.2,151.2 L1235.3,151.2 L1239.9,150.8 L1239.0,149.7 L1242.5,146.8 L1242.1,146.0 L1241.2,145.1 L1237.9,144.0 L1233.3,143.3 L1234.9,142.9 L1232.5,141.4 L1230.5,141.4 L1228.7,140.5 L1227.7,141.2 L1223.7,141.6 L1215.8,140.9 L1211.0,140.3 L1207.5,140.1 L1205.8,139.2 L1208.0,138.3 L1204.9,138.3 L1204.2,136.1 L1206.0,134.2 L1208.2,133.3 L1213.9,132.6 L1212.1,133.9 L1213.9,135.5 L1215.8,133.7 L1221.5,132.6 L1225.2,135.0 L1225.0,136.3 L1229.2,135.7 L1231.4,135.0 L1236.2,136.1 L1239.3,137.0 L1239.5,138.1 L1243.6,137.4 L1245.8,139.0 L1251.1,139.8 L1253.0,140.7 L1255.0,142.7 L1251.1,143.8 L1256.3,145.1 L1259.6,145.8 L1262.9,147.7 L1266.2,147.7 L1265.5,149.3 L1261.8,151.9 L1259.2,151.0 L1255.7,148.8 L1252.8,149.0 L1252.6,150.3 L1254.8,151.7 L1257.8,152.8 L1258.7,153.2 L1260.0,155.4 L1259.4,156.9 L1256.5,156.5 L1251.1,154.7 L1254.1,156.5 L1256.5,157.8 L1256.8,158.7 L1250.8,157.8 L1246.3,156.5 L1243.6,155.4 L1244.3,154.7 L1241.0,153.6 L1237.9,153.2Z M1215.2,150.3 L1215.7,151.4 L1216.7,151.0 L1218.0,151.7 L1220.4,152.3 L1223.1,153.0 L1223.1,154.1 L1224.8,153.8 L1226.3,154.7 L1224.4,155.4 L1221.1,154.7 L1219.8,153.8 L1217.6,154.9 L1214.5,156.0 L1213.7,154.9 L1210.8,155.2 L1212.6,154.1 L1213.0,152.3 L1213.7,150.3 L1215.2,150.3Z M1165.7,133.9 L1171.0,135.0 L1172.3,137.2 L1173.0,138.8 L1176.7,139.8 L1180.7,140.9 L1180.4,141.8 L1176.9,142.0 L1178.2,142.9 L1177.5,143.6 L1173.6,143.3 L1169.8,142.7 L1167.3,142.9 L1163.1,143.6 L1157.6,144.0 L1153.7,144.2 L1152.4,143.1 L1149.5,142.5 L1147.6,142.7 L1144.9,141.0 L1146.3,140.7 L1149.8,140.5 L1152.8,140.5 L1155.7,140.1 L1151.3,139.6 L1146.7,139.8 L1143.6,139.8 L1142.5,139.0 L1147.6,138.1 L1144.1,138.1 L1140.4,137.4 L1142.1,135.9 L1143.6,135.0 L1149.5,133.7 L1151.7,134.2 L1150.6,135.0 L1155.7,134.5 L1158.5,135.5 L1161.1,134.5 L1163.1,135.3 L1164.9,137.2 L1166.0,136.3 L1164.4,134.2 L1166.4,133.9 L1165.7,133.9Z M1132.5,132.8 L1128.3,131.5 L1135.8,131.3 L1138.8,131.8 L1144.3,131.8 L1146.5,132.4 L1148.9,133.3 L1146.0,133.9 L1140.8,135.5 L1137.9,137.0 L1137.9,137.9 L1132.3,139.0 L1131.2,138.1 L1126.1,136.8 L1128.5,134.4 L1130.5,132.8 L1132.5,132.8Z M1181.9,132.6 L1184.6,133.1 L1188.5,132.6 L1189.1,133.3 L1187.0,134.4 L1190.5,135.3 L1190.0,137.2 L1186.3,138.1 L1184.3,137.9 L1182.8,137.2 L1177.3,135.5 L1177.3,134.8 L1181.9,135.0 L1179.5,133.5 L1181.9,132.6Z M1197.7,134.8 L1195.3,136.6 L1192.9,136.3 L1191.6,134.6 L1191.6,133.5 L1192.6,132.4 L1194.8,132.0 L1199.4,132.0 L1203.6,132.4 L1200.3,134.4 L1197.7,134.8Z M1192.4,142.9 L1190.9,142.0 L1183.2,142.3 L1185.2,141.6 L1186.7,140.7 L1188.9,141.2 L1190.2,141.6 L1190.9,142.0 L1192.4,142.9Z M1196.8,130.0 L1195.5,130.9 L1192.4,130.7 L1189.8,130.2 L1190.9,129.1 L1194.0,128.7 L1196.0,129.3 L1196.8,130.0Z M1227.0,130.2 L1225.5,130.7 L1222.4,131.3 L1219.6,130.9 L1213.2,131.3 L1208.6,131.3 L1205.1,131.1 L1199.4,130.4 L1198.6,129.1 L1198.3,128.0 L1196.1,127.2 L1191.6,126.9 L1189.1,126.1 L1190.0,125.2 L1194.4,125.4 L1196.8,126.1 L1201.2,126.1 L1203.1,126.9 L1202.5,127.6 L1205.1,128.2 L1206.4,128.7 L1209.5,128.7 L1212.6,128.9 L1216.1,128.5 L1220.4,128.2 L1224.2,128.5 L1226.3,129.3 L1227.0,130.2Z M1161.6,126.1 L1164.2,126.3 L1164.9,127.4 L1165.7,128.2 L1167.7,127.8 L1169.9,127.9 L1170.3,128.9 L1169.0,130.0 L1161.6,130.2 L1156.1,131.3 L1152.8,131.3 L1152.4,130.7 L1157.0,129.6 L1147.1,130.0 L1144.1,129.6 L1147.1,127.4 L1149.1,126.7 L1155.2,127.6 L1159.2,128.9 L1162.9,128.9 L1159.8,126.9 L1161.8,126.1Z M1180.8,129.8 L1180.8,128.7 L1177.3,128.7 L1177.1,127.2 L1182.8,126.5 L1185.9,126.5 L1186.1,126.3 L1187.8,127.2 L1187.8,128.5 L1186.7,130.0 L1183.2,130.2 L1180.8,129.8Z M1147.4,124.3 L1147.1,125.8 L1145.4,126.7 L1143.4,126.7 L1139.3,127.6 L1135.8,128.0 L1132.7,127.6 L1132.7,127.6 L1136.4,125.8 L1141.0,124.5 L1144.3,124.5 L1147.4,124.3Z M1251.7,112.3 L1257.6,112.5 L1262.2,112.7 L1266.2,113.4 L1266.2,113.8 L1260.9,114.9 L1255.4,115.3 L1253.5,115.8 L1258.3,115.8 L1253.3,117.1 L1249.5,117.7 L1245.8,119.5 L1241.4,119.9 L1239.9,120.4 L1233.3,120.6 L1236.4,120.8 L1234.9,121.2 L1236.6,122.3 L1234.7,123.0 L1231.2,123.7 L1230.1,124.5 L1227.0,125.2 L1227.4,125.6 L1231.2,126.1 L1225.2,127.4 L1219.6,126.7 L1213.2,127.2 L1209.9,126.9 L1205.8,126.7 L1205.6,125.7 L1209.5,125.2 L1208.4,123.7 L1209.7,123.4 L1215.6,124.5 L1212.8,123.0 L1209.1,122.6 L1210.8,121.7 L1214.7,121.2 L1215.4,120.6 L1212.3,119.7 L1211.5,118.4 L1217.4,118.6 L1219.1,118.8 L1222.6,118.0 L1217.6,117.7 L1209.9,118.0 L1206.0,117.1 L1204.2,116.2 L1201.6,115.6 L1201.2,114.9 L1204.5,114.5 L1207.1,114.5 L1211.2,114.0 L1214.5,113.2 L1217.2,113.4 L1219.6,114.0 L1221.3,112.7 L1224.2,112.5 L1228.1,112.3 L1234.7,112.1 L1236.0,112.3 L1242.3,112.1 L1246.9,112.1 L1251.7,112.3Z M1213.9,120.6 L1210.8,121.2 L1206.9,122.8 L1202.9,123.0 L1198.3,122.8 L1196.0,121.7 L1196.1,121.0 L1197.9,120.4 L1193.7,120.4 L1191.3,119.7 L1190.0,118.6 L1191.6,117.7 L1193.1,117.1 L1195.3,116.9 L1194.4,116.4 L1199.4,116.2 L1202.3,117.5 L1205.9,118.0 L1209.5,118.4 L1211.2,119.7 L1213.9,120.6Z M1175.1,120.8 L1181.0,121.7 L1182.6,122.8 L1183.5,123.7 L1180.0,123.4 L1176.5,122.8 L1171.4,122.6 L1173.6,121.9 L1171.0,121.5 L1170.8,120.6 L1175.1,120.8Z M1472.3,225.6 L1475.6,226.3 L1476.6,225.8 L1477.3,225.2 L1478.1,222.3 L1478.4,221.7 L1479.3,219.9 L1480.3,218.4 L1480.1,216.6 L1480.7,215.8 L1479.9,214.7 L1480.8,213.8 L1479.5,214.0 L1477.5,213.6 L1476.0,214.9 L1472.7,215.1 L1471.0,214.0 L1468.6,213.8 L1468.1,214.7 L1466.6,215.1 L1464.4,213.8 L1462.0,213.8 L1460.7,211.6 L1459.1,210.5 L1460.2,208.8 L1458.9,207.7 L1461.3,205.7 L1464.6,205.5 L1465.5,204.0 L1469.6,204.2 L1472.3,202.9 L1474.9,202.2 L1478.6,202.2 L1482.3,203.7 L1485.4,204.6 L1488.0,204.2 L1490.0,204.4 L1492.6,203.3 L1492.8,202.2 L1492.4,200.9 L1491.1,200.0 L1489.8,199.8 L1489.0,199.1 L1486.3,197.2 L1483.6,196.3 L1481.9,195.2 L1483.4,194.8 L1485.2,193.0 L1484.1,192.1 L1487.2,191.3 L1487.2,190.6 L1485.2,191.0 L1483.4,191.3 L1482.1,191.9 L1479.9,192.1 L1478.1,192.8 L1478.2,194.1 L1479.3,194.8 L1481.5,194.5 L1481.0,195.4 L1478.6,195.9 L1475.8,197.0 L1474.5,196.5 L1474.9,195.6 L1472.7,195.0 L1472.9,194.5 L1475.1,193.7 L1474.5,193.2 L1471.0,192.8 L1471.0,191.9 L1468.8,192.1 L1468.1,193.5 L1466.4,195.0 L1466.4,195.6 L1465.3,196.1 L1464.6,195.9 L1464.2,198.5 L1462.9,199.4 L1462.2,200.9 L1462.9,202.2 L1463.1,203.1 L1465.1,203.7 L1464.6,204.2 L1462.0,204.4 L1461.1,205.0 L1459.4,206.1 L1458.5,205.3 L1458.7,204.8 L1457.2,204.6 L1456.1,204.6 L1453.5,205.0 L1455.0,206.4 L1453.9,206.7 L1452.6,206.7 L1451.5,205.5 L1451.0,205.9 L1451.5,207.2 L1452.8,208.3 L1451.9,208.8 L1453.0,209.9 L1454.1,210.5 L1454.1,211.6 L1452.1,211.2 L1452.8,212.3 L1451.5,212.5 L1452.4,214.5 L1450.8,214.5 L1449.1,213.6 L1448.2,211.8 L1447.8,210.3 L1446.9,209.2 L1445.8,208.1 L1445.3,207.2 L1444.0,205.9 L1443.8,205.0 L1444.0,203.5 L1444.3,202.9 L1443.6,202.3 L1443.0,201.5 L1442.1,201.1 L1439.9,200.3 L1438.6,199.6 L1436.6,198.9 L1434.9,197.4 L1435.3,197.2 L1434.2,196.3 L1434.2,195.4 L1432.9,195.2 L1432.1,196.1 L1431.6,195.4 L1431.6,194.5 L1430.3,194.1 L1428.5,194.8 L1428.7,195.9 L1428.5,196.5 L1429.2,197.6 L1431.1,198.7 L1432.2,200.5 L1434.6,202.3 L1436.4,202.3 L1437.0,202.9 L1436.4,203.3 L1438.4,204.0 L1439.9,204.6 L1441.9,205.7 L1442.1,206.1 L1441.6,207.0 L1440.3,205.9 L1438.6,205.7 L1437.5,207.0 L1439.2,207.9 L1439.0,209.0 L1437.9,209.2 L1436.8,211.0 L1436.0,211.2 L1436.0,210.5 L1436.4,209.3 L1436.8,208.9 L1436.6,207.7 L1435.3,206.6 L1434.4,206.1 L1433.8,205.3 L1432.5,204.8 L1431.4,204.0 L1429.8,203.8 L1428.1,202.9 L1426.1,201.3 L1424.6,200.2 L1423.9,198.0 L1422.8,197.8 L1421.1,197.0 L1420.0,197.4 L1418.8,198.3 L1417.8,198.5 L1415.8,199.8 L1411.7,199.1 L1408.4,199.8 L1408.1,201.1 L1408.2,202.4 L1406.2,204.0 L1403.4,204.4 L1403.1,205.0 L1401.8,206.4 L1400.9,208.1 L1401.8,209.4 L1400.5,210.3 L1400.1,211.8 L1398.5,212.3 L1397.0,213.8 L1394.2,213.8 L1392.0,213.8 L1390.7,214.7 L1389.8,215.6 L1388.7,215.3 L1388.0,214.5 L1387.4,213.4 L1385.2,212.9 L1384.3,213.6 L1383.2,213.2 L1382.1,213.4 L1382.6,211.6 L1382.3,210.3 L1381.3,210.1 L1380.8,209.4 L1381.0,207.9 L1381.9,207.0 L1382.0,206.1 L1382.3,204.8 L1382.3,204.0 L1381.9,203.3 L1381.9,202.4 L1382.0,200.9 L1381.0,200.0 L1384.1,198.5 L1386.8,198.7 L1389.8,198.7 L1392.2,199.1 L1393.9,198.9 L1397.4,199.1 L1398.5,197.8 L1399.0,193.5 L1396.8,191.0 L1395.1,190.0 L1391.8,189.2 L1391.5,187.5 L1394.4,187.1 L1398.1,187.8 L1397.4,185.1 L1399.4,186.2 L1404.4,184.5 L1405.1,182.7 L1407.1,182.3 L1408.8,181.9 L1409.9,181.2 L1411.9,177.9 L1414.9,177.0 L1416.7,177.0 L1417.1,176.6 L1418.9,176.6 L1419.3,177.0 L1420.9,175.9 L1420.4,175.1 L1420.2,173.8 L1419.3,172.7 L1419.3,170.5 L1419.8,169.8 L1420.2,169.2 L1422.2,168.9 L1423.0,168.5 L1424.8,167.9 L1424.6,168.9 L1424.0,169.6 L1424.4,170.3 L1425.4,170.5 L1425.0,171.4 L1424.4,171.1 L1422.6,172.7 L1423.3,173.8 L1423.3,174.6 L1425.6,175.1 L1425.4,175.9 L1427.8,175.5 L1428.9,174.9 L1431.4,175.7 L1432.5,176.4 L1434.0,175.7 L1437.5,174.9 L1440.1,174.1 L1442.3,174.4 L1442.5,175.1 L1444.7,175.1 L1445.1,174.0 L1448.2,173.3 L1447.8,171.6 L1447.8,169.8 L1448.9,168.5 L1450.8,167.7 L1452.6,169.4 L1454.3,169.4 L1454.8,167.6 L1455.0,166.3 L1454.3,166.5 L1452.8,165.9 L1452.6,164.6 L1455.4,163.9 L1458.3,163.7 L1460.5,164.1 L1462.8,163.9 L1465.3,162.8 L1463.1,161.7 L1459.1,161.9 L1455.2,162.6 L1451.7,163.3 L1450.4,161.9 L1448.2,161.3 L1448.6,159.1 L1447.8,157.1 L1448.6,155.8 L1450.6,154.5 L1455.6,152.1 L1457.2,151.7 L1457.0,150.8 L1453.9,149.7 L1450.2,150.3 L1448.0,151.9 L1448.4,153.2 L1444.9,154.9 L1440.5,156.9 L1439.0,160.0 L1440.5,161.5 L1442.7,162.6 L1440.8,165.1 L1438.4,165.7 L1437.5,169.4 L1436.4,171.4 L1433.8,171.1 L1432.5,172.9 L1429.8,172.9 L1429.2,170.9 L1427.4,168.5 L1425.7,165.2 L1424.4,163.9 L1420.0,166.5 L1416.9,167.0 L1414.1,165.9 L1413.2,163.5 L1412.5,158.4 L1414.5,157.1 L1420.4,155.2 L1424.6,153.0 L1428.7,149.9 L1434.0,145.8 L1437.5,144.0 L1443.6,141.4 L1448.4,140.3 L1451.9,140.5 L1455.2,138.8 L1459.4,138.8 L1463.3,138.3 L1470.1,139.8 L1467.2,140.5 L1469.6,141.8 L1471.8,141.2 L1475.6,142.5 L1481.5,142.9 L1489.8,145.5 L1491.5,146.4 L1491.5,147.9 L1489.1,149.0 L1485.6,149.7 L1475.8,147.9 L1474.2,148.4 L1477.7,149.9 L1478.0,153.2 L1480.8,153.8 L1482.6,154.5 L1482.8,153.4 L1481.5,152.3 L1483.0,151.7 L1488.2,153.0 L1490.0,152.3 L1488.7,150.8 L1493.7,148.6 L1495.7,148.8 L1497.7,149.5 L1499.0,147.9 L1497.2,146.6 L1498.3,145.4 L1496.8,144.0 L1502.9,144.7 L1504.0,146.0 L1501.4,146.2 L1501.4,147.5 L1502.9,148.2 L1506.4,147.7 L1506.8,146.4 L1511.4,145.3 L1519.1,143.3 L1520.8,143.6 L1518.7,144.9 L1521.3,145.1 L1522.8,144.4 L1527.0,144.2 L1530.3,143.3 L1532.7,144.7 L1535.3,143.3 L1532.9,142.0 L1534.2,141.2 L1540.5,142.0 L1543.6,142.7 L1551.5,145.1 L1553.0,144.0 L1550.8,142.9 L1550.6,142.3 L1548.0,142.0 L1548.9,141.2 L1547.5,139.4 L1547.5,138.8 L1551.5,136.8 L1553.0,134.8 L1554.5,134.4 L1560.4,134.8 L1560.9,136.1 L1558.7,137.9 L1560.2,138.5 L1560.9,140.1 L1560.4,143.1 L1562.9,144.4 L1561.8,146.0 L1557.6,149.0 L1560.0,149.3 L1560.9,148.6 L1563.3,147.9 L1563.9,146.8 L1565.9,145.8 L1564.6,144.7 L1565.5,143.1 L1563.1,142.9 L1562.6,141.8 L1564.4,139.6 L1561.5,137.9 L1565.5,136.3 L1565.0,134.8 L1566.1,134.6 L1567.2,135.9 L1566.4,138.1 L1568.8,138.3 L1567.7,136.8 L1571.4,135.9 L1576.0,135.9 L1579.9,137.1 L1578.0,135.3 L1577.7,133.1 L1581.6,132.5 L1586.9,132.6 L1591.5,132.4 L1589.8,131.1 L1592.4,129.8 L1594.8,129.8 L1599.2,128.7 L1604.9,128.2 L1605.5,127.8 L1611.4,127.6 L1613.2,128.0 L1618.0,126.9 L1622.2,126.9 L1622.6,125.8 L1624.8,125.0 L1630.0,124.1 L1633.7,124.7 L1630.7,125.4 L1635.7,125.7 L1636.2,126.7 L1638.3,126.3 L1644.7,126.3 L1649.5,127.4 L1651.3,128.2 L1650.8,129.3 L1648.4,130.0 L1642.7,131.1 L1641.0,131.8 L1643.6,132.2 L1646.9,132.6 L1648.8,132.2 L1649.9,133.7 L1651.0,133.1 L1654.5,132.7 L1661.5,133.1 L1662.0,134.2 L1671.2,134.4 L1671.4,132.8 L1676.0,133.1 L1679.4,133.1 L1683.0,134.4 L1684.1,135.7 L1682.8,136.6 L1685.4,138.3 L1688.9,139.2 L1691.1,137.0 L1694.6,137.9 L1698.3,137.2 L1702.4,138.1 L1704.0,137.4 L1707.7,137.7 L1706.0,135.7 L1709.0,134.8 L1728.7,136.1 L1730.7,137.4 L1736.3,139.2 L1745.1,138.8 L1749.5,139.0 L1751.2,139.8 L1751.0,141.6 L1753.6,142.3 L1756.7,141.8 L1760.7,141.6 L1764.6,142.0 L1768.7,141.8 L1772.7,143.8 L1775.3,143.1 L1773.6,141.6 L1774.7,140.7 L1781.4,141.4 L1786.0,141.2 L1792.4,142.3 L1795.4,143.2 L1795.4,151.9 L1792.6,153.0 L1789.8,152.8 L1791.7,153.8 L1793.0,155.6 L1794.1,156.3 L1794.3,157.1 L1793.7,157.8 L1789.8,157.4 L1783.6,158.9 L1781.7,159.1 L1778.4,160.7 L1775.1,162.2 L1774.2,163.0 L1771.2,161.5 L1765.5,163.3 L1764.4,162.4 L1762.4,163.5 L1759.3,163.0 L1758.7,164.6 L1756.1,166.8 L1756.2,167.6 L1758.7,168.1 L1758.5,171.1 L1756.3,171.4 L1755.4,173.1 L1756.3,174.0 L1752.6,175.3 L1751.7,177.7 L1748.4,178.2 L1747.7,180.5 L1744.7,182.5 L1743.8,181.0 L1742.9,177.7 L1741.6,172.9 L1742.7,169.8 L1744.7,168.5 L1744.7,167.6 L1748.2,167.0 L1752.1,164.4 L1755.8,162.2 L1759.8,160.4 L1761.5,157.1 L1758.9,157.4 L1757.6,159.3 L1751.9,161.7 L1750.1,158.9 L1744.5,159.8 L1739.0,163.3 L1740.7,164.8 L1735.9,165.2 L1732.6,165.4 L1732.6,163.9 L1729.4,163.5 L1726.5,164.6 L1720.0,164.4 L1712.7,165.0 L1705.6,169.2 L1697.2,174.4 L1700.7,174.6 L1701.8,176.0 L1704.0,176.4 L1705.3,175.3 L1707.7,175.5 L1710.8,177.9 L1711.0,179.9 L1709.2,182.1 L1709.0,184.7 L1708.1,188.2 L1704.9,191.3 L1704.0,192.8 L1701.1,195.4 L1698.1,197.8 L1696.8,199.1 L1693.7,200.5 L1692.4,200.5 L1691.1,199.4 L1688.0,200.9 L1687.8,201.8 L1686.0,202.4 L1685.4,204.6 L1684.3,205.0 L1683.0,206.1 L1681.6,206.6 L1680.6,207.0 L1680.6,208.1 L1681.2,208.5 L1682.3,209.6 L1684.3,212.3 L1684.9,213.6 L1684.9,216.2 L1684.1,217.3 L1682.1,217.7 L1680.4,218.6 L1678.4,218.8 L1678.2,217.7 L1678.6,216.0 L1677.5,213.8 L1679.3,213.4 L1677.7,211.5 L1675.8,211.6 L1674.4,210.7 L1675.1,209.9 L1675.3,209.2 L1676.0,207.9 L1674.4,207.2 L1673.6,206.8 L1670.5,207.5 L1668.8,208.3 L1666.6,209.0 L1667.7,207.9 L1667.2,207.1 L1669.0,205.7 L1667.7,204.6 L1665.9,205.3 L1663.3,206.8 L1662.0,208.2 L1659.8,208.3 L1658.7,209.4 L1660.0,210.7 L1661.8,211.2 L1661.8,212.3 L1663.5,212.7 L1665.9,211.2 L1667.9,212.1 L1669.4,212.1 L1669.6,213.4 L1666.6,213.9 L1665.5,215.1 L1663.5,216.2 L1662.4,217.7 L1664.6,218.8 L1665.5,221.0 L1666.8,223.0 L1668.3,224.7 L1668.3,226.4 L1667.0,226.9 L1667.4,228.2 L1668.8,228.9 L1668.3,230.6 L1667.9,232.4 L1666.6,232.6 L1665.0,234.8 L1663.3,237.9 L1661.3,240.5 L1658.3,242.5 L1655.2,244.2 L1652.8,244.4 L1651.5,245.5 L1650.6,244.9 L1649.3,245.7 L1646.2,246.8 L1644.0,247.3 L1643.2,249.7 L1642.1,249.7 L1641.4,248.2 L1642.1,247.3 L1639.0,246.6 L1638.0,246.9 L1635.1,248.8 L1633.3,250.9 L1632.9,252.3 L1634.4,254.7 L1636.6,257.6 L1638.6,258.9 L1639.9,260.6 L1640.7,264.8 L1640.5,268.5 L1638.8,270.0 L1636.2,271.3 L1634.4,273.3 L1631.8,275.3 L1630.9,274.0 L1631.6,272.4 L1629.8,271.1 L1628.1,270.9 L1627.2,269.6 L1626.1,267.4 L1624.1,266.4 L1622.2,266.5 L1622.5,264.8 L1620.6,264.8 L1620.4,267.2 L1619.3,270.4 L1618.6,274.0 L1620.2,274.0 L1621.1,275.9 L1621.5,277.9 L1622.6,279.0 L1623.9,279.4 L1625.0,280.5 L1625.7,280.8 L1626.9,282.1 L1627.8,283.4 L1627.8,284.9 L1627.6,286.0 L1627.8,286.7 L1628.1,288.0 L1628.8,288.6 L1629.6,290.6 L1629.6,291.3 L1628.1,291.5 L1626.1,289.8 L1623.5,288.0 L1623.2,286.9 L1621.9,285.6 L1621.7,283.6 L1620.8,282.5 L1621.1,281.0 L1620.6,279.9 L1619.7,279.1 L1619.3,278.1 L1618.2,276.8 L1617.1,275.7 L1616.7,277.0 L1616.4,275.8 L1616.7,274.4 L1617.2,272.4 L1617.1,270.7 L1617.8,269.2 L1616.9,267.8 L1617.1,265.4 L1616.2,264.3 L1615.6,261.7 L1615.1,258.9 L1614.3,257.1 L1612.7,258.2 L1610.3,259.7 L1609.0,259.5 L1607.7,259.1 L1608.4,256.2 L1607.9,254.3 L1606.2,251.7 L1606.6,251.0 L1605.3,250.6 L1603.8,248.8 L1603.1,247.7 L1602.9,246.6 L1602.5,245.5 L1601.6,244.2 L1599.6,244.2 L1599.8,245.1 L1599.2,246.4 L1598.1,246.0 L1597.2,246.0 L1596.3,245.7 L1596.1,246.6 L1594.6,246.6 L1591.9,247.1 L1592.0,248.8 L1590.9,250.0 L1587.8,251.4 L1585.2,254.1 L1583.6,255.4 L1581.5,256.9 L1581.5,257.8 L1580.4,258.4 L1578.4,259.2 L1577.3,259.3 L1576.6,261.1 L1577.1,263.9 L1577.3,265.7 L1576.4,267.6 L1576.4,271.3 L1575.1,271.6 L1574.2,273.3 L1574.9,274.0 L1572.9,274.6 L1572.0,276.0 L1571.2,276.7 L1569.2,274.6 L1568.1,271.6 L1567.2,269.4 L1566.6,268.3 L1565.5,266.3 L1564.8,263.5 L1564.4,262.2 L1562.4,259.1 L1561.5,254.9 L1560.9,252.1 L1560.9,249.5 L1560.4,247.3 L1557.4,248.6 L1555.9,248.4 L1553.0,245.7 L1553.9,244.9 L1553.2,244.2 L1550.8,242.2 L1549.1,241.8 L1548.4,240.1 L1546.9,238.5 L1542.7,239.0 L1539.2,239.0 L1536.2,239.2 L1532.0,238.5 L1529.6,238.1 L1527.2,237.9 L1526.3,235.1 L1525.2,234.8 L1523.5,235.1 L1521.3,236.1 L1518.7,235.5 L1516.5,233.7 L1514.3,233.1 L1512.9,231.1 L1511.2,228.2 L1510.1,228.5 L1508.6,227.8 L1507.9,228.7 L1506.6,228.5 L1507.1,229.6 L1506.8,230.0 L1507.5,231.6 L1508.4,233.5 L1509.5,233.9 L1509.9,234.8 L1511.4,235.7 L1511.4,236.6 L1511.2,237.4 L1511.4,238.1 L1512.1,238.7 L1512.5,239.4 L1512.8,239.9 L1512.5,238.3 L1513.2,237.2 L1513.8,237.0 L1514.5,237.6 L1514.5,239.0 L1514.1,240.3 L1514.5,241.2 L1514.9,241.6 L1516.7,241.2 L1518.4,241.3 L1519.8,241.4 L1521.3,239.8 L1522.8,238.5 L1524.3,237.0 L1524.8,237.9 L1525.0,239.6 L1525.9,241.2 L1527.2,241.8 L1528.7,242.2 L1530.0,242.5 L1531.1,243.8 L1531.7,244.4 L1532.4,244.9 L1532.4,245.3 L1531.6,246.6 L1531.3,247.3 L1530.5,247.9 L1529.6,249.5 L1528.5,249.2 L1528.1,249.9 L1527.8,251.0 L1528.1,252.3 L1527.8,252.7 L1526.8,252.7 L1525.4,253.4 L1525.2,254.5 L1524.8,254.9 L1523.5,254.9 L1522.6,255.6 L1522.6,256.5 L1521.5,257.0 L1520.2,256.9 L1518.9,257.6 L1517.8,257.7 L1516.3,258.2 L1515.8,259.3 L1515.8,260.0 L1513.6,260.8 L1510.1,261.9 L1508.2,263.5 L1507.1,263.7 L1506.4,263.5 L1505.2,264.3 L1503.8,264.8 L1502.0,264.9 L1501.4,265.0 L1500.9,265.7 L1500.3,265.8 L1500.0,266.3 L1499.0,266.3 L1498.3,266.5 L1496.8,266.5 L1496.1,265.2 L1496.2,263.9 L1495.9,263.2 L1495.5,261.7 L1494.8,260.8 L1495.2,260.6 L1495.0,259.7 L1495.2,259.3 L1495.2,258.3 L1494.9,257.3 L1494.2,256.7 L1494.2,255.8 L1492.9,255.2 L1491.7,253.2 L1491.1,251.4 L1489.6,249.9 L1488.7,249.7 L1487.2,247.5 L1486.9,246.0 L1487.2,244.7 L1485.8,242.2 L1484.7,241.4 L1483.6,240.9 L1482.9,239.6 L1483.0,239.2 L1482.3,238.1 L1481.7,237.6 L1480.8,235.9 L1479.5,234.1 L1478.4,232.6 L1477.7,230.7 L1478.1,229.8 L1477.5,231.3 L1476.9,232.2 L1476.4,233.3 L1475.1,232.8 L1474.0,232.0 L1473.1,230.6 L1472.5,228.8 L1472.3,225.6Z M1395.0,165.9 L1392.6,168.1 L1394.8,167.9 L1397.2,167.9 L1396.8,169.6 L1394.8,171.6 L1397.0,171.8 L1399.2,174.6 L1400.7,174.9 L1402.0,177.5 L1402.7,178.4 L1405.3,178.8 L1405.1,180.1 L1403.9,180.8 L1404.7,181.9 L1402.9,182.9 L1399.8,182.9 L1396.1,183.6 L1395.1,183.2 L1393.7,184.3 L1391.8,184.0 L1390.2,184.8 L1388.9,184.3 L1392.2,182.1 L1394.2,181.6 L1390.7,181.2 L1390.0,180.3 L1392.4,179.7 L1391.1,178.6 L1391.5,177.0 L1394.8,177.3 L1395.3,176.0 L1393.7,174.6 L1391.1,174.2 L1390.4,173.5 L1391.3,172.7 L1390.7,172.0 L1389.3,173.1 L1389.3,170.9 L1388.3,169.8 L1388.9,167.6 L1390.7,165.9 L1392.4,166.0 L1395.0,165.9Z M1388.0,176.2 L1388.5,177.7 L1386.7,179.7 L1382.8,181.0 L1379.8,180.8 L1381.5,178.4 L1380.4,176.2 L1383.4,174.4 L1385.0,173.5 L1386.9,173.3 L1389.1,174.6 L1388.0,176.2Z M1369.9,148.6 L1369.4,150.1 L1371.8,151.7 L1369.0,153.2 L1362.7,154.7 L1360.7,155.2 L1357.9,154.9 L1351.7,154.2 L1353.9,153.2 L1349.2,152.1 L1353.0,151.7 L1353.0,151.0 L1348.4,150.6 L1349.9,149.0 L1353.2,148.8 L1356.5,150.3 L1359.8,149.0 L1362.7,149.7 L1366.2,148.6 L1369.9,148.6Z M1434.6,119.7 L1435.5,119.1 L1438.8,119.0 L1441.5,119.7 L1448.6,121.3 L1443.2,122.1 L1442.1,123.9 L1440.1,124.3 L1439.0,126.1 L1436.4,126.1 L1431.8,124.7 L1433.8,124.1 L1430.5,123.4 L1426.1,121.5 L1424.4,119.8 L1430.5,119.1 L1431.6,119.7 L1434.6,119.7Z M1455.6,123.8 L1450.8,124.7 L1446.9,124.1 L1448.4,123.7 L1447.1,122.9 L1451.7,122.5 L1452.6,123.2 L1455.6,123.8Z M1461.6,118.9 L1458.3,120.2 L1451.9,120.4 L1445.6,119.9 L1445.1,119.5 L1442.1,119.3 L1439.7,118.4 L1446.5,117.7 L1449.5,118.2 L1451.7,117.5 L1457.2,118.2 L1461.6,118.9Z M1550.8,125.8 L1552.4,126.7 L1550.8,127.4 L1542.9,128.5 L1536.4,129.3 L1529.6,131.5 L1526.3,133.7 L1522.8,135.7 L1523.3,137.7 L1527.4,139.4 L1526.1,139.6 L1519.1,139.2 L1518.4,138.3 L1514.5,137.7 L1514.3,136.6 L1516.5,136.1 L1516.3,134.8 L1520.6,133.1 L1518.7,132.7 L1523.9,130.9 L1523.3,129.8 L1528.3,128.7 L1535.5,127.3 L1542.7,126.9 L1546.4,126.1 L1550.8,125.8Z M1611.4,116.3 L1615.8,117.4 L1620.8,119.5 L1620.2,121.5 L1615.6,121.7 L1609.5,121.2 L1605.7,120.4 L1604.0,118.8 L1601.1,118.4 L1606.8,116.9 L1611.4,116.3Z M1631.3,122.8 L1619.1,123.7 L1623.2,120.8 L1625.0,120.6 L1626.5,120.6 L1632.2,121.9 L1631.3,122.8Z M1705.3,127.6 L1711.2,127.6 L1719.1,128.7 L1717.3,130.4 L1709.2,130.3 L1705.6,130.9 L1701.3,129.3 L1702.4,127.9 L1705.3,127.6Z M1721.3,129.6 L1721.9,128.9 L1725.9,129.2 L1731.3,129.8 L1728.9,130.7 L1725.4,130.4 L1721.3,129.6Z M1712.5,133.9 L1707.9,133.7 L1707.7,133.5 L1709.7,132.6 L1712.5,132.4 L1715.6,133.3 L1715.8,133.9 L1712.5,133.9Z M1715.8,183.2 L1718.1,186.9 L1714.9,186.2 L1713.6,189.3 L1715.6,191.7 L1715.6,193.2 L1713.8,191.9 L1712.5,193.5 L1712.1,191.7 L1712.3,189.5 L1712.1,187.1 L1712.5,185.6 L1712.7,182.6 L1711.4,180.5 L1711.6,177.5 L1713.6,176.4 L1712.7,175.5 L1713.7,175.1 L1714.3,176.6 L1715.1,178.8 L1714.9,180.8 L1715.8,183.2Z M1710.1,212.9 L1709.2,214.7 L1709.7,215.8 L1708.5,217.3 L1705.7,218.2 L1701.8,218.4 L1698.7,220.8 L1697.2,220.1 L1697.2,218.4 L1693.3,218.8 L1690.9,219.9 L1688.2,219.9 L1690.4,221.6 L1688.9,225.3 L1687.6,226.3 L1686.5,225.4 L1687.0,223.4 L1685.6,222.8 L1684.7,221.2 L1686.8,220.6 L1688.0,219.3 L1690.2,218.1 L1691.7,216.6 L1696.1,216.0 L1698.5,216.4 L1700.7,212.5 L1702.2,213.6 L1705.4,211.4 L1706.6,210.5 L1708.0,207.9 L1707.7,205.3 L1708.6,204.0 L1711.0,203.5 L1712.1,206.6 L1712.1,208.3 L1710.0,210.5 L1710.1,212.9Z M1716.5,197.4 L1718.0,197.9 L1719.5,197.0 L1720.0,199.4 L1716.9,200.0 L1714.9,202.2 L1711.4,200.7 L1710.3,203.1 L1707.8,203.1 L1707.5,200.9 L1708.6,199.4 L1711.0,199.1 L1711.6,196.1 L1712.2,194.3 L1714.7,196.7 L1716.5,197.4Z M1696.1,219.5 L1696.5,220.1 L1695.2,221.5 L1694.4,220.8 L1693.3,221.2 L1692.6,222.6 L1691.3,221.9 L1691.3,220.8 L1692.4,219.5 L1693.7,219.9 L1694.6,218.8 L1696.1,219.5Z M1668.1,240.7 L1666.8,244.2 L1665.7,246.0 L1664.6,244.2 L1664.4,242.5 L1665.7,240.5 L1667.4,238.7 L1668.4,239.4 L1668.1,240.7Z M1642.9,253.2 L1641.2,254.3 L1639.4,253.6 L1639.2,251.7 L1640.3,250.8 L1642.7,250.1 L1644.0,250.1 L1644.5,251.0 L1643.6,251.9 L1642.9,253.2Z M1580.6,277.7 L1580.1,279.9 L1579.3,280.5 L1577.3,281.0 L1576.4,279.2 L1576.0,276.2 L1576.9,272.7 L1578.4,273.8 L1579.5,275.3 L1580.6,277.7Z M1435.6,210.5 L1434.8,212.2 L1435.1,212.9 L1434.6,214.0 L1433.0,213.1 L1431.9,212.9 L1428.8,211.8 L1429.1,210.7 L1431.7,210.9 L1433.9,210.6 L1435.6,210.5Z M1421.8,203.9 L1423.1,205.5 L1422.8,208.4 L1421.8,208.2 L1420.9,209.0 L1420.0,208.4 L1420.0,205.7 L1419.5,204.5 L1420.7,204.6 L1421.8,203.9Z M1422.5,201.9 L1421.8,203.6 L1420.8,203.1 L1420.3,201.6 L1420.7,200.8 L1422.1,200.0 L1422.5,201.9Z M1453.5,216.0 L1454.7,216.7 L1456.4,216.6 L1458.0,216.8 L1457.9,217.1 L1459.1,216.9 L1458.8,217.5 L1455.7,217.7 L1455.7,217.3 L1453.0,216.9 L1453.5,216.0Z M1473.2,217.2 L1473.7,216.7 L1475.3,216.7 L1477.3,216.1 L1475.8,217.0 L1475.9,217.4 L1476.0,217.6 L1473.8,218.5 L1472.7,218.2 L1472.2,217.3 L1473.2,217.2Z M1033.8,150.3 L1041.7,148.6 L1047.8,149.3 L1043.4,147.3 L1038.0,143.3 L1045.0,142.3 L1047.4,140.3 L1059.0,138.1 L1069.0,139.2 L1080.0,140.5 L1093.1,141.8 L1102.9,143.3 L1108.4,142.3 L1117.6,140.5 L1121.5,139.8 L1126.3,142.0 L1129.4,140.7 L1135.8,141.4 L1144.3,143.1 L1152.2,144.7 L1161.1,145.5 L1165.3,146.6 L1165.7,145.3 L1173.4,145.3 L1179.5,146.0 L1186.3,145.8 L1185.9,144.4 L1187.8,144.0 L1191.3,144.9 L1191.3,146.8 L1192.6,145.1 L1194.4,145.1 L1195.5,142.9 L1190.5,140.7 L1193.1,136.8 L1196.1,137.0 L1198.3,138.1 L1201.4,140.5 L1199.4,141.6 L1203.6,142.0 L1203.4,144.2 L1206.4,142.5 L1209.1,144.0 L1208.4,145.5 L1210.4,147.1 L1212.8,145.5 L1214.3,143.6 L1214.5,141.2 L1217.6,141.4 L1220.9,141.6 L1223.7,142.7 L1223.9,143.8 L1222.2,145.1 L1223.7,146.2 L1223.5,147.3 L1219.3,148.8 L1216.3,149.0 L1213.9,148.4 L1213.2,149.5 L1211.2,151.4 L1210.6,152.3 L1208.0,153.8 L1204.9,154.1 L1203.1,154.9 L1202.9,156.5 L1200.5,156.7 L1197.7,158.4 L1195.5,160.9 L1194.6,162.6 L1194.4,165.2 L1197.7,165.4 L1198.6,167.6 L1199.6,169.2 L1202.7,168.7 L1206.9,169.6 L1209.1,170.5 L1210.6,171.6 L1213.2,172.2 L1215.6,173.1 L1219.1,173.3 L1221.3,173.5 L1221.5,175.3 L1222.0,177.5 L1223.5,179.9 L1226.8,182.1 L1228.5,181.4 L1229.6,179.0 L1228.5,175.7 L1227.0,174.4 L1230.5,173.5 L1232.9,172.0 L1234.2,170.5 L1234.0,168.9 L1232.5,167.0 L1229.8,165.4 L1232.5,163.0 L1231.4,161.1 L1230.7,157.8 L1232.2,157.1 L1236.0,157.8 L1238.2,158.0 L1240.1,157.6 L1242.1,158.2 L1244.7,159.5 L1245.4,160.4 L1249.3,160.4 L1249.3,162.4 L1250.0,165.0 L1251.9,165.4 L1253.7,166.8 L1256.8,165.4 L1258.9,163.0 L1260.3,162.2 L1262.0,164.1 L1264.8,166.8 L1267.3,169.4 L1266.4,170.9 L1269.2,172.0 L1271.2,173.3 L1274.7,174.0 L1276.2,174.6 L1277.1,176.4 L1278.6,176.8 L1279.5,177.5 L1279.7,180.1 L1278.2,180.8 L1276.7,181.6 L1272.9,182.3 L1270.3,184.3 L1266.6,184.5 L1261.8,184.0 L1258.5,184.0 L1256.3,184.3 L1254.6,185.8 L1251.7,186.7 L1248.5,189.7 L1246.0,191.7 L1247.8,191.3 L1251.4,188.4 L1255.9,186.7 L1259.2,186.5 L1261.1,187.5 L1259.2,188.9 L1259.8,191.3 L1260.5,193.0 L1263.3,194.1 L1267.0,193.7 L1269.2,191.3 L1269.4,192.8 L1270.8,193.7 L1268.1,195.0 L1263.1,196.3 L1261.1,197.2 L1258.5,198.9 L1257.0,198.7 L1256.8,196.7 L1260.7,195.0 L1257.2,195.0 L1254.8,195.4 L1252.8,197.2 L1250.4,197.8 L1248.2,198.5 L1246.7,200.2 L1246.7,201.5 L1247.3,202.6 L1248.7,202.4 L1248.4,203.1 L1246.0,203.3 L1242.1,204.0 L1240.3,204.6 L1243.6,204.2 L1244.3,204.6 L1241.2,205.3 L1239.7,205.5 L1239.3,207.2 L1237.7,209.0 L1236.4,207.7 L1237.3,209.2 L1236.6,211.0 L1235.5,212.7 L1234.9,210.3 L1234.4,208.5 L1234.7,211.2 L1234.7,213.1 L1235.5,214.0 L1236.0,216.2 L1234.4,218.0 L1232.2,218.6 L1230.7,219.9 L1228.5,220.8 L1225.9,223.0 L1223.7,225.4 L1223.3,226.9 L1223.7,228.5 L1225.5,231.7 L1226.3,235.2 L1226.3,237.6 L1225.7,239.0 L1223.9,239.0 L1222.8,237.4 L1220.7,233.9 L1220.7,231.5 L1218.5,228.7 L1217.6,228.2 L1215.4,229.3 L1213.9,228.0 L1210.1,227.8 L1206.4,227.8 L1205.6,228.0 L1206.0,229.6 L1206.0,230.2 L1204.2,230.4 L1202.7,230.4 L1201.2,229.1 L1197.7,228.9 L1194.4,229.6 L1192.4,231.3 L1189.1,233.3 L1188.5,235.7 L1189.1,237.4 L1187.8,240.9 L1187.6,244.0 L1187.8,246.2 L1188.9,249.0 L1190.5,250.6 L1191.8,253.0 L1194.2,253.4 L1195.1,254.5 L1198.6,253.6 L1201.6,252.7 L1202.9,251.9 L1203.6,248.8 L1205.6,247.5 L1211.0,247.1 L1211.7,248.6 L1209.9,251.2 L1209.5,254.1 L1208.4,255.6 L1208.6,256.9 L1207.1,259.3 L1208.6,259.7 L1210.4,259.5 L1213.4,259.1 L1216.7,259.3 L1219.1,260.6 L1219.8,261.3 L1218.9,264.3 L1218.7,267.2 L1218.2,269.8 L1220.0,272.2 L1221.7,274.0 L1223.5,274.8 L1225.5,274.2 L1227.4,273.1 L1229.8,273.5 L1232.2,275.1 L1232.7,276.8 L1231.2,278.3 L1230.5,275.9 L1229.6,275.1 L1228.5,274.4 L1227.4,274.6 L1226.1,275.9 L1225.7,278.1 L1224.2,277.0 L1222.8,276.4 L1220.4,275.9 L1218.7,274.8 L1218.5,274.2 L1216.5,273.1 L1215.4,273.1 L1214.1,272.4 L1214.1,269.8 L1212.3,268.3 L1210.8,266.8 L1209.7,265.9 L1210.1,265.0 L1208.0,265.2 L1206.2,264.6 L1204.5,264.1 L1202.1,263.7 L1199.9,262.4 L1197.2,260.0 L1194.4,258.7 L1190.2,259.7 L1185.2,257.8 L1181.0,256.5 L1178.6,254.9 L1175.1,254.1 L1171.9,251.9 L1170.8,249.2 L1171.2,247.3 L1170.3,245.3 L1167.7,242.0 L1164.4,239.0 L1162.5,238.1 L1162.2,235.7 L1160.0,234.6 L1158.3,233.1 L1156.1,230.6 L1154.1,226.7 L1151.7,225.2 L1150.4,224.5 L1150.2,225.4 L1150.6,228.0 L1153.0,230.4 L1154.8,233.3 L1155.9,237.2 L1158.1,237.9 L1159.4,240.9 L1161.4,242.0 L1162.2,242.9 L1161.1,244.2 L1160.3,242.9 L1157.2,240.5 L1156.1,238.3 L1155.9,237.2 L1153.3,235.5 L1151.1,234.8 L1149.8,233.5 L1151.7,232.6 L1151.7,231.5 L1148.9,229.3 L1146.3,225.0 L1144.9,221.9 L1142.5,220.4 L1142.3,219.7 L1138.2,218.8 L1137.7,218.4 L1135.3,214.9 L1133.6,211.8 L1130.9,208.9 L1129.4,205.9 L1129.9,202.2 L1129.2,200.5 L1130.1,198.5 L1130.5,194.5 L1130.1,191.5 L1128.8,188.6 L1132.3,189.1 L1133.4,191.0 L1134.0,190.4 L1132.9,186.9 L1128.3,184.7 L1122.8,182.9 L1121.5,181.0 L1121.8,179.7 L1119.1,178.6 L1118.7,176.8 L1116.1,175.3 L1116.1,174.2 L1113.0,172.7 L1112.1,170.7 L1109.5,168.9 L1108.2,167.0 L1102.7,166.8 L1100.1,166.1 L1095.5,163.9 L1089.6,162.6 L1086.6,162.8 L1082.4,161.7 L1079.7,160.9 L1077.3,161.3 L1077.8,162.9 L1074.1,163.5 L1072.1,164.1 L1069.7,164.6 L1069.2,163.5 L1070.3,161.3 L1072.7,160.6 L1072.1,160.0 L1069.2,161.3 L1067.7,162.6 L1064.6,164.1 L1066.2,165.2 L1064.2,167.0 L1059.6,168.5 L1059.0,169.4 L1055.7,170.5 L1055.0,171.6 L1052.4,172.4 L1050.9,172.4 L1048.9,172.9 L1046.7,173.8 L1044.7,174.4 L1041.0,175.1 L1040.8,174.6 L1043.2,173.8 L1045.2,173.1 L1047.6,171.8 L1050.2,171.6 L1051.3,170.7 L1054.4,169.4 L1054.8,168.9 L1056.6,168.1 L1056.8,166.5 L1058.1,165.2 L1055.5,165.9 L1054.8,165.4 L1053.5,166.3 L1052.2,165.2 L1051.5,165.9 L1050.6,164.8 L1048.5,165.7 L1047.1,165.7 L1046.9,164.4 L1047.4,163.7 L1046.0,162.8 L1043.2,163.3 L1041.2,162.2 L1039.9,161.7 L1039.7,160.4 L1038.2,159.5 L1039.0,158.2 L1040.8,157.1 L1041.5,156.0 L1043.2,155.8 L1044.7,156.0 L1046.5,155.2 L1048.2,155.2 L1049.8,154.5 L1049.4,153.6 L1048.2,153.2 L1049.8,152.3 L1048.5,152.3 L1046.0,152.8 L1045.4,153.4 L1043.9,152.8 L1040.7,153.2 L1037.5,152.5 L1036.6,151.7 L1033.8,150.3Z M1610.1,282.1 L1614.9,282.6 L1616.9,284.7 L1618.4,286.2 L1619.7,287.1 L1621.7,289.5 L1624.1,289.5 L1625.9,291.0 L1627.2,292.9 L1628.7,293.9 L1627.8,295.6 L1629.2,296.4 L1630.0,296.5 L1630.2,298.0 L1631.1,299.1 L1632.7,299.4 L1633.7,300.8 L1633.3,303.5 L1633.1,306.9 L1630.7,307.0 L1628.9,305.1 L1626.1,303.3 L1625.2,302.0 L1623.5,300.2 L1622.4,298.6 L1620.6,295.5 L1618.9,293.7 L1618.1,291.8 L1617.3,290.2 L1615.4,288.7 L1614.3,286.9 L1612.5,285.6 L1610.3,283.2 L1610.1,282.1Z M1639.2,309.0 L1643.4,309.2 L1644.0,308.3 L1648.0,309.3 L1648.8,310.7 L1652.1,311.2 L1654.8,312.5 L1652.3,313.2 L1649.9,312.4 L1648.0,312.5 L1645.6,312.3 L1643.6,311.8 L1641.0,310.9 L1639.4,310.7 L1638.6,311.2 L1634.5,310.2 L1634.2,309.2 L1632.2,309.1 L1633.6,307.0 L1636.4,307.1 L1638.1,308.0 L1639.0,308.1 L1639.2,309.0Z M1659.6,290.2 L1661.9,292.1 L1659.3,292.3 L1658.7,293.9 L1658.7,295.9 L1656.7,297.4 L1656.5,299.6 L1655.6,302.9 L1655.4,302.2 L1653.0,303.1 L1652.1,301.8 L1650.6,301.5 L1649.5,300.9 L1646.9,301.8 L1646.0,300.6 L1644.5,300.8 L1642.7,300.4 L1642.5,297.6 L1641.4,296.9 L1640.3,295.2 L1640.0,293.2 L1640.3,291.3 L1641.6,289.7 L1643.2,290.4 L1644.9,290.1 L1645.3,288.2 L1648.8,287.3 L1650.4,285.6 L1651.5,284.3 L1652.3,283.4 L1654.2,282.2 L1655.8,280.8 L1656.9,279.0 L1657.8,279.0 L1658.9,280.1 L1659.1,281.0 L1662.4,282.3 L1662.2,283.2 L1660.7,283.2 L1661.1,284.3 L1659.6,285.1 L1658.3,287.1 L1659.8,289.1 L1659.6,290.2Z M1675.5,291.0 L1673.8,293.2 L1672.3,293.7 L1670.1,293.2 L1666.5,293.2 L1664.6,293.7 L1664.2,295.2 L1666.1,297.2 L1667.4,296.2 L1671.4,295.4 L1671.4,296.5 L1670.3,296.1 L1669.4,297.4 L1667.4,298.3 L1669.5,301.1 L1669.2,301.8 L1671.2,304.4 L1671.2,305.7 L1669.8,306.4 L1669.0,305.7 L1670.1,303.9 L1667.9,304.7 L1667.4,304.2 L1667.7,303.3 L1666.1,302.0 L1666.3,299.8 L1664.8,300.4 L1665.0,303.1 L1665.0,306.1 L1663.7,306.6 L1662.8,305.9 L1663.4,303.9 L1663.1,301.8 L1662.2,301.8 L1661.5,300.2 L1662.4,298.7 L1662.6,297.1 L1663.7,293.8 L1664.2,292.9 L1666.1,291.3 L1667.9,291.9 L1670.5,292.1 L1673.1,292.1 L1675.3,290.5 L1675.5,291.0Z M1695.0,296.6 L1695.7,300.2 L1698.1,301.5 L1699.8,299.1 L1702.2,297.8 L1704.2,297.8 L1706.2,298.6 L1707.7,299.4 L1710.1,299.8 L1713.8,301.3 L1718.0,302.6 L1719.5,303.7 L1720.6,304.8 L1721.0,306.1 L1724.5,307.4 L1725.2,308.5 L1723.2,308.8 L1723.7,310.3 L1725.6,311.6 L1727.0,314.0 L1728.3,313.9 L1728.3,314.9 L1729.8,315.3 L1729.1,315.8 L1731.6,316.6 L1731.3,317.3 L1729.8,317.4 L1729.4,316.9 L1727.4,316.6 L1725.2,316.2 L1723.5,314.9 L1722.4,313.6 L1721.0,311.8 L1718.2,310.7 L1716.5,311.4 L1715.1,312.2 L1715.4,313.7 L1713.6,314.4 L1712.4,314.1 L1710.1,314.0 L1708.1,312.3 L1706.0,311.8 L1705.5,312.5 L1702.7,312.5 L1703.6,310.7 L1705.1,310.1 L1704.4,307.7 L1703.3,305.9 L1699.1,304.1 L1697.4,303.9 L1694.1,301.8 L1693.5,302.9 L1692.6,303.1 L1692.2,302.3 L1692.1,301.3 L1690.4,300.2 L1692.8,299.5 L1694.4,299.5 L1694.1,298.9 L1690.9,298.9 L1690.0,297.6 L1688.0,297.2 L1687.1,296.2 L1690.2,295.6 L1691.3,294.9 L1694.8,295.8 L1695.0,296.6Z M1675.0,313.6 L1675.3,313.0 L1677.2,312.5 L1678.6,312.5 L1679.4,312.3 L1680.1,312.5 L1679.4,313.1 L1677.1,314.0 L1675.3,314.7 L1673.8,316.2 L1672.0,316.9 L1671.8,316.4 L1671.9,315.8 L1672.9,314.4 L1675.0,313.6Z M1659.6,311.8 L1660.4,312.5 L1661.8,312.3 L1662.2,313.1 L1659.7,313.6 L1658.3,313.9 L1656.9,313.9 L1657.8,312.6 L1658.9,312.6 L1659.6,311.8Z M1670.5,311.8 L1670.2,313.0 L1666.9,313.6 L1663.9,313.4 L1663.9,312.6 L1665.7,312.1 L1667.1,312.8 L1668.5,312.6 L1670.5,311.8Z M1665.7,316.5 L1664.8,316.5 L1661.9,315.0 L1663.9,314.6 L1665.0,315.3 L1665.9,315.9 L1665.7,316.5Z M1681.4,289.4 L1681.7,290.5 L1683.0,290.7 L1683.2,291.6 L1683.0,293.5 L1681.9,293.3 L1681.6,294.6 L1682.5,295.8 L1681.9,296.1 L1681.0,294.7 L1680.4,291.9 L1680.8,290.1 L1681.4,289.4Z M1684.7,300.2 L1687.1,300.9 L1687.8,302.5 L1686.0,301.6 L1684.2,301.5 L1683.0,301.6 L1681.4,301.5 L1681.9,300.3 L1684.7,300.2Z M1679.5,300.9 L1680.0,301.7 L1679.2,302.4 L1677.7,302.0 L1677.3,301.1 L1679.5,300.9Z M1667.0,253.6 L1668.3,254.3 L1669.1,253.6 L1669.3,254.3 L1668.9,255.2 L1669.6,256.7 L1669.1,258.5 L1667.8,259.2 L1667.4,261.1 L1667.9,262.7 L1669.1,263.0 L1670.1,262.7 L1672.8,263.9 L1672.6,265.1 L1673.3,265.7 L1673.1,266.7 L1671.4,265.6 L1670.6,264.5 L1670.0,265.2 L1668.6,263.9 L1666.6,264.3 L1665.5,263.8 L1665.6,262.9 L1666.3,262.3 L1665.7,261.8 L1665.4,262.6 L1664.3,261.3 L1664.0,260.4 L1663.9,258.3 L1664.8,259.0 L1665.0,255.6 L1665.7,253.6 L1667.0,253.6Z M1678.1,275.7 L1678.3,277.1 L1678.5,278.4 L1677.7,280.4 L1676.9,278.1 L1675.9,279.2 L1676.6,280.9 L1676.0,281.9 L1673.4,280.6 L1672.8,279.0 L1673.4,278.0 L1672.1,277.0 L1671.4,277.9 L1670.4,277.8 L1668.7,279.0 L1668.4,278.4 L1669.2,276.5 L1670.6,275.9 L1671.8,275.1 L1672.6,276.1 L1674.2,275.5 L1674.6,274.5 L1676.1,274.4 L1676.0,272.7 L1677.8,273.8 L1678.0,274.9 L1678.1,275.7Z M1663.1,269.2 L1663.5,271.0 L1662.0,272.2 L1660.9,273.7 L1658.0,275.8 L1659.0,274.3 L1660.6,272.9 L1662.0,271.4 L1663.1,269.2Z M1676.2,267.5 L1676.8,269.9 L1675.1,269.4 L1675.2,270.1 L1675.7,271.4 L1674.7,271.9 L1674.6,270.4 L1673.9,270.3 L1673.6,268.9 L1674.9,269.1 L1674.8,268.3 L1673.5,266.6 L1675.6,266.7 L1676.2,267.5Z M1670.9,268.8 L1670.9,269.7 L1669.9,270.6 L1668.5,271.3 L1668.5,270.3 L1668.6,269.1 L1668.3,268.1 L1669.6,268.8 L1670.9,268.8Z M1672.9,271.6 L1672.1,272.3 L1671.4,273.7 L1670.7,274.4 L1669.4,272.9 L1669.8,272.3 L1670.4,271.7 L1670.6,270.3 L1671.8,270.2 L1671.5,271.6 L1673.1,269.5 L1672.9,271.6Z M1667.5,265.5 L1666.9,267.4 L1666.0,266.3 L1664.9,264.6 L1666.7,264.7 L1667.5,265.5Z M1715.7,324.2 L1716.5,325.9 L1717.9,325.1 L1718.6,326.0 L1719.7,326.9 L1719.5,327.9 L1719.9,329.7 L1720.3,330.8 L1720.8,331.1 L1721.4,333.0 L1721.2,334.1 L1721.9,335.6 L1724.3,336.7 L1725.8,337.8 L1727.3,338.7 L1727.0,339.2 L1728.2,340.6 L1729.1,343.0 L1730.0,342.5 L1730.9,343.5 L1731.4,343.1 L1731.8,345.4 L1733.3,346.8 L1734.3,347.6 L1736.1,349.4 L1736.7,351.1 L1736.7,352.4 L1736.6,353.7 L1737.6,355.6 L1737.5,357.5 L1737.1,358.6 L1736.5,360.5 L1736.6,361.8 L1736.1,363.3 L1735.2,365.3 L1733.5,366.4 L1732.7,368.1 L1732.0,369.2 L1731.4,371.1 L1730.5,372.1 L1730.0,373.8 L1729.7,375.3 L1729.8,376.0 L1728.5,376.7 L1726.1,376.8 L1724.1,377.7 L1723.1,378.6 L1721.7,379.5 L1719.9,378.5 L1718.6,378.2 L1718.9,377.0 L1717.7,377.4 L1715.8,379.0 L1713.9,378.4 L1712.7,378.1 L1711.4,377.9 L1709.3,377.3 L1707.9,375.9 L1707.5,374.3 L1707.0,372.3 L1705.9,372.3 L1703.8,372.0 L1704.5,371.0 L1704.0,369.3 L1702.9,370.9 L1701.0,371.2 L1702.1,370.0 L1702.4,368.8 L1703.3,367.7 L1703.1,366.1 L1701.4,367.9 L1700.0,368.7 L1699.1,370.4 L1697.4,369.5 L1697.5,368.4 L1696.1,366.8 L1695.0,366.0 L1695.4,365.5 L1692.6,364.1 L1691.1,364.1 L1689.0,363.0 L1685.0,363.2 L1682.2,364.6 L1679.7,364.7 L1677.6,364.6 L1675.3,365.7 L1673.4,366.2 L1673.0,367.4 L1672.2,368.3 L1670.3,368.3 L1668.9,368.5 L1667.0,368.1 L1665.4,368.3 L1663.9,368.4 L1662.6,369.6 L1662.0,369.5 L1660.9,370.1 L1659.8,370.8 L1658.3,370.7 L1656.8,370.7 L1654.4,369.3 L1653.3,368.9 L1653.3,367.7 L1654.4,367.4 L1654.8,366.9 L1654.7,366.1 L1655.0,364.6 L1654.7,363.3 L1653.6,361.1 L1653.2,359.8 L1653.3,358.6 L1652.4,357.1 L1652.4,356.5 L1651.4,355.6 L1651.1,353.9 L1649.9,352.2 L1649.6,351.3 L1650.6,352.2 L1649.8,350.2 L1650.9,350.8 L1651.5,351.6 L1651.5,350.5 L1650.4,348.8 L1650.2,348.1 L1649.7,347.4 L1649.9,346.2 L1650.4,345.6 L1650.7,344.6 L1650.5,343.3 L1651.4,341.7 L1651.5,343.4 L1652.5,341.9 L1654.2,341.1 L1655.3,340.2 L1657.0,339.4 L1658.0,339.2 L1658.6,339.5 L1660.3,338.7 L1661.6,338.4 L1662.0,337.9 L1662.5,337.8 L1663.7,337.8 L1666.0,337.2 L1667.2,336.2 L1667.8,335.0 L1669.1,333.9 L1669.2,333.0 L1669.2,331.8 L1670.7,330.0 L1671.7,331.9 L1672.6,331.4 L1671.8,330.4 L1672.5,329.3 L1673.5,329.8 L1673.7,328.2 L1674.9,327.1 L1675.5,326.2 L1676.6,325.8 L1676.6,325.2 L1677.6,325.5 L1677.6,325.0 L1678.6,324.6 L1679.6,324.3 L1681.2,325.3 L1682.5,326.6 L1683.8,326.7 L1685.2,326.9 L1684.7,325.7 L1685.8,323.9 L1686.8,323.3 L1686.4,322.8 L1687.4,321.5 L1688.7,320.7 L1689.8,321.0 L1691.7,320.6 L1691.6,319.5 L1690.0,318.8 L1691.2,318.5 L1692.6,319.0 L1693.8,319.9 L1695.6,320.4 L1696.3,320.2 L1697.6,320.9 L1698.9,320.3 L1699.7,320.5 L1700.2,320.0 L1701.2,321.1 L1700.7,322.3 L1699.8,323.2 L1699.1,323.2 L1699.3,324.1 L1698.7,325.2 L1697.9,326.3 L1698.1,326.9 L1699.8,328.1 L1701.5,328.8 L1702.6,329.6 L1704.2,330.9 L1704.8,330.9 L1706.0,331.4 L1706.3,332.1 L1708.4,332.8 L1709.8,332.1 L1710.3,330.9 L1710.7,330.0 L1711.0,328.8 L1711.6,327.0 L1711.3,326.0 L1711.5,325.3 L1711.2,324.1 L1711.5,322.4 L1711.9,322.0 L1711.6,321.3 L1712.1,320.1 L1712.6,318.9 L1712.6,318.3 L1713.4,317.4 L1714.0,318.5 L1714.2,319.9 L1714.7,320.2 L1714.8,321.1 L1715.6,322.2 L1715.8,323.4 L1715.7,324.2Z M1724.7,383.4 L1726.1,383.5 L1726.2,386.1 L1725.5,386.9 L1725.2,388.6 L1724.5,388.1 L1723.0,389.6 L1722.5,389.5 L1721.2,389.4 L1719.8,387.5 L1719.5,386.1 L1718.2,384.2 L1718.3,383.2 L1719.7,383.3 L1721.8,384.1 L1723.0,383.8 L1724.7,383.4Z M1780.2,383.6 L1780.7,384.5 L1782.2,383.7 L1782.9,384.6 L1782.9,385.5 L1782.0,386.5 L1780.6,388.1 L1779.5,389.0 L1780.3,390.0 L1778.6,390.1 L1776.7,390.9 L1776.2,392.3 L1774.9,394.6 L1773.2,395.5 L1772.1,396.1 L1770.1,396.1 L1768.7,395.4 L1766.3,395.2 L1765.9,394.4 L1767.1,392.8 L1769.8,390.6 L1771.3,390.2 L1772.8,389.4 L1774.7,388.2 L1776.0,387.1 L1777.0,385.5 L1777.8,384.9 L1778.2,383.7 L1779.7,382.7 L1780.2,383.6Z M1783.6,373.2 L1785.2,375.5 L1785.3,374.0 L1786.3,374.6 L1786.6,376.3 L1788.4,377.0 L1789.8,377.2 L1791.1,376.3 L1792.2,376.6 L1791.7,378.5 L1791.0,379.8 L1789.3,379.8 L1788.7,380.4 L1788.9,381.4 L1788.6,381.8 L1787.8,382.9 L1786.7,384.4 L1785.0,385.3 L1784.7,384.7 L1783.7,384.4 L1785.0,382.6 L1784.3,381.4 L1781.9,380.5 L1782.0,379.8 L1783.6,379.0 L1783.9,377.3 L1783.8,375.9 L1782.9,374.4 L1783.0,374.0 L1782.0,373.1 L1780.2,371.2 L1779.3,369.7 L1780.1,369.5 L1781.3,370.7 L1783.0,371.3 L1783.6,373.2Z M1764.3,340.2 L1766.1,341.6 L1767.3,342.6 L1766.4,343.1 L1765.2,342.5 L1763.6,341.5 L1762.2,340.4 L1760.8,338.8 L1760.5,338.1 L1761.4,338.1 L1762.7,338.9 L1763.6,339.6 L1764.3,340.2Z M1791.9,332.0 L1792.6,332.7 L1792.3,333.8 L1790.9,334.1 L1789.7,333.8 L1789.5,332.9 L1790.3,332.1 L1791.3,332.4 L1791.9,332.0Z M1794.0,330.9 L1792.7,331.3 L1792.4,330.5 L1793.5,330.0 L1794.1,329.9 L1795.4,329.3 L1795.4,330.3 L1794.0,330.9Z M1756.3,317.0 L1756.9,317.8 L1755.4,317.8 L1754.6,316.4 L1755.9,317.0 L1756.3,317.0Z M1753.5,315.7 L1752.7,315.8 L1751.4,315.5 L1750.9,315.2 L1751.0,314.3 L1752.5,314.7 L1753.2,315.1 L1753.5,315.7Z M1755.4,315.1 L1755.0,315.5 L1753.4,313.6 L1752.9,312.3 L1753.7,312.3 L1754.5,314.1 L1755.4,315.1Z M1751.4,312.3 L1751.5,312.8 L1749.8,311.8 L1748.6,311.1 L1747.8,310.3 L1748.1,310.1 L1749.1,310.6 L1750.9,311.6 L1751.4,312.3Z M1746.3,310.2 L1745.9,310.3 L1744.9,309.8 L1744.0,308.9 L1744.1,308.5 L1745.4,309.5 L1746.3,310.2Z M1734.9,303.5 L1734.9,304.8 L1734.1,306.1 L1733.0,306.3 L1732.6,306.9 L1731.4,307.4 L1730.3,307.9 L1729.2,307.9 L1727.4,307.3 L1726.1,306.7 L1726.3,306.0 L1728.3,306.3 L1729.5,306.2 L1729.8,305.1 L1730.1,305.0 L1730.3,306.2 L1731.6,306.0 L1732.2,305.3 L1733.4,304.5 L1733.2,303.2 L1734.5,303.2 L1734.9,303.5Z M1736.7,303.9 L1736.0,304.5 L1735.6,303.2 L1735.1,302.4 L1734.1,301.7 L1732.8,300.8 L1731.2,300.1 L1731.9,299.6 L1733.0,300.2 L1733.8,300.7 L1734.7,301.2 L1735.6,302.1 L1736.4,302.8 L1736.7,303.9Z M1740.2,305.8 L1740.9,306.3 L1741.9,307.7 L1743.0,308.4 L1742.7,309.0 L1742.1,309.2 L1741.1,308.4 L1740.1,307.0 L1739.7,305.3 L1740.0,305.1 L1740.2,305.8Z M1768.8,330.1 L1768.1,330.4 L1767.4,329.5 L1767.5,328.9 L1768.8,330.1Z M1767.2,326.8 L1767.6,328.5 L1767.0,328.3 L1766.5,328.4 L1766.2,327.8 L1766.2,326.1 L1767.2,326.8Z M1232.2,275.1 L1233.6,275.3 L1236.0,273.5 L1236.4,270.9 L1237.7,269.8 L1239.0,269.8 L1241.0,269.6 L1243.6,267.9 L1244.5,267.0 L1245.4,267.0 L1246.0,267.6 L1244.3,269.2 L1244.9,270.1 L1243.8,272.4 L1244.7,274.2 L1245.6,274.2 L1246.3,272.4 L1245.4,271.8 L1245.4,270.1 L1248.0,269.2 L1247.8,268.3 L1248.7,267.4 L1249.3,268.9 L1250.8,269.2 L1252.4,270.3 L1252.4,270.9 L1254.3,271.1 L1256.8,270.9 L1257.8,271.8 L1259.6,272.0 L1260.9,271.3 L1260.9,270.9 L1266.2,270.7 L1264.4,271.3 L1265.1,272.4 L1266.8,272.4 L1268.6,273.5 L1268.8,275.3 L1269.9,275.3 L1270.8,275.7 L1272.3,276.6 L1273.6,278.1 L1273.6,279.2 L1274.5,279.2 L1275.8,280.3 L1276.7,281.0 L1279.3,281.4 L1281.3,281.0 L1283.4,281.4 L1285.9,282.3 L1288.3,284.0 L1288.5,284.9 L1289.4,284.9 L1289.8,286.0 L1291.1,289.9 L1292.3,290.4 L1292.4,291.9 L1290.7,293.7 L1291.3,294.3 L1295.3,294.5 L1295.3,296.7 L1297.0,295.4 L1299.6,296.1 L1303.4,297.6 L1304.5,298.7 L1304.0,300.0 L1306.6,299.4 L1310.8,300.4 L1314.1,300.4 L1317.4,302.2 L1320.2,304.6 L1321.7,305.3 L1323.7,305.3 L1324.6,306.1 L1325.2,308.8 L1325.7,310.1 L1324.8,313.8 L1323.7,315.1 L1320.6,318.2 L1319.1,320.8 L1317.6,322.5 L1316.3,324.3 L1316.5,328.5 L1315.8,331.7 L1315.0,334.1 L1314.5,337.0 L1312.3,339.8 L1312.1,342.0 L1310.1,343.1 L1309.7,344.4 L1307.3,344.4 L1304.0,345.3 L1302.3,346.2 L1299.9,346.8 L1297.5,348.6 L1295.5,350.8 L1295.3,352.3 L1295.5,353.6 L1295.0,355.8 L1294.6,356.9 L1293.1,358.0 L1290.7,361.9 L1288.7,363.7 L1287.2,364.6 L1286.3,366.7 L1284.8,368.1 L1283.9,369.4 L1281.5,370.6 L1279.7,370.2 L1278.6,370.5 L1276.7,369.4 L1275.1,369.6 L1273.8,368.3 L1273.6,369.4 L1276.4,371.3 L1276.0,372.8 L1277.5,373.7 L1277.3,374.8 L1275.4,377.7 L1272.1,378.8 L1267.7,379.2 L1265.3,379.0 L1265.7,380.3 L1265.3,382.1 L1265.7,383.2 L1264.4,383.8 L1262.0,384.2 L1260.0,383.4 L1259.2,384.0 L1259.4,386.2 L1260.9,386.9 L1262.0,386.0 L1262.7,387.3 L1260.7,388.0 L1258.9,389.3 L1258.7,391.5 L1258.1,392.6 L1256.1,392.6 L1254.3,393.9 L1253.7,395.4 L1255.9,396.9 L1258.1,397.4 L1257.2,399.3 L1254.6,400.7 L1253.3,403.3 L1251.3,404.2 L1250.4,405.0 L1251.1,407.4 L1252.6,408.5 L1251.5,408.5 L1249.5,408.1 L1246.7,409.8 L1246.3,411.8 L1245.4,412.0 L1242.8,411.2 L1240.3,409.6 L1237.7,408.5 L1236.8,407.0 L1237.5,405.7 L1236.4,404.4 L1236.2,400.7 L1237.1,398.5 L1239.5,396.7 L1236.2,396.1 L1238.2,394.3 L1238.8,390.6 L1241.4,391.5 L1242.5,386.9 L1241.0,386.2 L1240.3,389.1 L1239.0,388.6 L1239.7,385.6 L1240.3,381.4 L1241.4,380.1 L1240.8,377.9 L1240.6,375.5 L1241.4,375.3 L1242.8,371.8 L1244.3,368.3 L1245.4,365.0 L1244.7,361.7 L1245.4,360.0 L1245.2,357.3 L1246.5,354.5 L1246.9,350.3 L1247.6,345.7 L1248.2,340.9 L1248.0,337.4 L1247.6,334.1 L1245.4,333.0 L1245.2,332.2 L1241.0,330.0 L1237.1,327.6 L1235.3,326.0 L1234.4,324.3 L1234.7,323.6 L1232.9,320.8 L1230.7,316.9 L1228.7,312.5 L1227.9,311.4 L1227.0,309.9 L1225.5,308.3 L1223.9,307.4 L1224.6,306.6 L1223.5,304.4 L1224.2,302.9 L1225.9,301.5 L1227.0,300.0 L1226.6,298.9 L1225.7,300.0 L1224.4,298.9 L1224.8,298.4 L1224.6,296.5 L1225.2,296.1 L1225.7,294.8 L1226.6,293.2 L1226.3,292.3 L1227.7,291.9 L1229.0,291.0 L1228.8,290.4 L1229.6,290.2 L1229.4,289.1 L1230.1,288.4 L1231.2,288.2 L1232.0,286.9 L1232.9,285.8 L1232.0,285.1 L1232.5,283.8 L1232.0,281.8 L1232.5,281.4 L1232.0,279.4 L1231.2,278.3 L1232.2,275.1Z M1251.5,409.2 L1252.2,410.3 L1253.3,412.0 L1256.1,413.3 L1259.2,413.8 L1258.3,414.9 L1256.1,415.1 L1255.0,414.2 L1252.6,415.8 L1250.2,415.5 L1248.5,414.9 L1246.3,414.7 L1243.4,413.3 L1241.2,412.2 L1238.2,409.6 L1240.1,410.1 L1243.2,411.6 L1246.0,412.5 L1247.1,411.4 L1247.8,409.8 L1250.0,409.0 L1251.5,409.2Z M1267.7,407.5 L1270.3,406.2 L1272.2,406.8 L1273.5,405.9 L1275.2,406.9 L1274.6,407.7 L1271.6,408.3 L1270.6,407.5 L1268.8,408.5 L1267.7,407.5Z M1221.5,243.3 L1223.5,243.6 L1225.2,243.6 L1227.2,244.2 L1228.1,245.1 L1230.3,244.9 L1231.0,245.3 L1232.9,246.6 L1234.2,247.7 L1234.9,247.7 L1236.2,248.2 L1236.0,248.8 L1237.7,248.8 L1239.3,249.7 L1239.0,250.1 L1237.6,250.6 L1236.2,250.6 L1234.7,250.4 L1231.4,250.6 L1232.9,249.5 L1232.0,248.8 L1230.7,248.8 L1229.8,248.2 L1229.4,246.8 L1228.1,246.8 L1226.1,246.4 L1225.5,246.0 L1222.6,245.5 L1221.7,245.1 L1222.6,244.7 L1220.4,244.4 L1218.9,245.5 L1218.0,245.5 L1217.8,246.2 L1216.7,246.4 L1215.7,246.2 L1216.9,245.5 L1217.4,244.7 L1218.2,244.2 L1219.3,243.8 L1221.1,243.6 L1221.5,243.3Z M1242.8,250.6 L1244.7,251.0 L1244.9,250.6 L1246.7,250.6 L1248.0,251.2 L1248.5,251.2 L1248.9,251.9 L1250.2,251.9 L1250.1,252.5 L1251.1,252.6 L1252.2,253.4 L1251.3,254.3 L1250.2,253.8 L1248.5,253.8 L1248.2,254.3 L1247.3,254.3 L1246.9,253.8 L1246.3,254.1 L1245.4,255.6 L1244.7,255.2 L1244.7,254.7 L1243.2,254.3 L1242.3,254.5 L1240.8,254.3 L1239.9,254.7 L1238.6,254.1 L1238.8,253.2 L1241.0,253.6 L1242.5,253.8 L1243.4,253.2 L1242.3,252.3 L1242.3,251.4 L1241.0,251.2 L1241.4,250.6 L1242.8,250.6Z M1231.8,253.6 L1233.3,253.8 L1234.4,254.3 L1234.9,254.9 L1233.3,254.9 L1232.7,255.4 L1231.4,254.9 L1230.3,254.3 L1230.5,253.6 L1231.8,253.6Z M1254.6,253.6 L1256.5,253.6 L1258.1,254.3 L1257.6,254.8 L1254.6,254.8 L1254.6,253.6Z M1230.5,239.0 L1231.2,239.0 L1232.0,240.9 L1232.0,242.0 L1230.9,240.9 L1230.1,240.3 L1230.5,239.0Z M1231.4,235.2 L1233.1,235.9 L1232.7,237.4 L1232.2,237.2 L1232.5,236.1 L1231.4,235.9 L1231.4,235.2Z M1228.8,235.5 L1229.8,235.2 L1231.2,235.5 L1231.4,235.9 L1229.0,236.3 L1228.8,235.5Z M1266.6,270.5 L1267.9,270.3 L1268.4,270.3 L1268.4,272.0 L1266.4,272.2 L1266.1,272.0 L1266.6,271.3 L1266.6,270.5Z M1278.9,183.2 L1277.3,185.1 L1278.9,184.3 L1280.2,184.9 L1279.5,185.6 L1281.5,186.2 L1282.4,185.6 L1284.5,186.5 L1283.9,188.0 L1285.4,187.5 L1285.7,188.6 L1286.5,190.2 L1285.4,191.9 L1284.5,192.1 L1283.0,191.7 L1283.5,190.0 L1283.0,189.5 L1280.4,191.5 L1279.1,191.5 L1280.6,190.4 L1278.4,190.0 L1276.2,190.0 L1271.9,190.0 L1271.6,189.3 L1272.9,188.4 L1272.1,188.0 L1273.8,186.7 L1276.0,183.2 L1277.5,181.9 L1279.3,181.2 L1280.4,181.2 L1278.9,183.2Z M1260.5,184.9 L1264.0,185.4 L1266.4,186.2 L1266.4,186.7 L1265.3,186.7 L1262.4,186.0 L1260.5,184.9Z M1261.6,191.3 L1262.2,192.1 L1264.0,192.6 L1265.9,192.6 L1264.8,193.5 L1264.0,193.5 L1261.3,192.6 L1260.7,191.9 L1261.6,191.3Z M1131.4,188.0 L1130.3,188.2 L1126.6,187.3 L1125.9,186.5 L1123.9,185.8 L1123.7,185.1 L1121.3,184.7 L1120.7,182.9 L1124.4,183.8 L1126.3,184.0 L1128.3,185.8 L1130.5,186.7 L1131.4,188.0Z M1110.2,175.5 L1111.3,175.9 L1113.4,175.7 L1112.8,178.1 L1114.5,179.9 L1113.7,179.9 L1112.3,179.0 L1111.7,177.9 L1110.4,177.3 L1110.2,175.5Z M1066.8,169.2 L1064.6,170.0 L1063.6,169.4 L1063.1,168.3 L1065.1,167.6 L1066.4,167.3 L1067.7,167.4 L1068.8,168.1 L1066.8,169.2Z M1025.9,154.5 L1027.2,154.9 L1028.5,154.7 L1030.3,155.4 L1032.5,155.6 L1032.3,155.8 L1030.7,156.3 L1029.0,155.8 L1028.1,155.4 L1026.1,155.6 L1025.7,155.4 L1025.9,154.5Z M1037.3,161.9 L1039.0,162.2 L1039.3,163.0 L1038.0,163.3 L1036.6,163.0 L1035.1,162.4 L1037.3,161.9Z M1061.4,252.3 L1060.9,252.7 L1060.5,252.3 L1060.5,251.9 L1060.1,251.0 L1060.5,249.9 L1061.6,250.1 L1062.2,250.6 L1062.9,251.4 L1061.4,252.3Z M1007.8,143.2 L1013.0,144.9 L1018.9,147.1 L1018.7,148.4 L1020.2,149.0 L1019.6,147.3 L1025.5,147.7 L1029.9,149.7 L1027.7,150.8 L1024.2,151.0 L1024.0,153.0 L1023.2,153.5 L1021.1,153.4 L1019.5,152.8 L1016.6,152.1 L1016.1,151.0 L1013.9,150.8 L1011.3,151.0 L1010.2,150.3 L1008.0,149.9 L1009.1,151.0 L1007.8,151.9 L1007.8,143.2Z M1007.8,137.7 L1008.0,137.4 L1009.9,137.4 L1013.0,138.1 L1012.8,138.5 L1010.6,139.0 L1007.8,139.2 L1007.8,137.7Z M1795.4,139.2 L1793.0,139.2 L1792.6,138.5 L1795.4,137.7 L1795.4,139.2Z" fill="#aaaaaa" stroke="#aaaaaa" stroke-width="0.2" stroke-linejoin="round"/>
<path d="M1509.0,192.6 L1507.9,193.9 L1506.0,194.3 L1503.8,196.5 L1505.7,198.5 L1505.5,200.0 L1507.9,202.6 L1509.0,203.7 L1510.1,205.3 L1511.2,205.5 L1511.9,205.9 L1510.1,206.1 L1509.7,207.9 L1509.2,208.8 L1508.6,210.3 L1509.2,211.8 L1511.2,212.3 L1512.8,213.4 L1516.0,213.8 L1519.3,213.2 L1519.5,212.7 L1519.1,211.2 L1519.5,208.9 L1517.8,208.1 L1518.4,206.6 L1516.9,206.6 L1517.3,204.6 L1519.1,205.0 L1519.8,203.2 L1519.1,202.0 L1517.3,202.4 L1516.5,202.6 L1516.3,202.2 L1516.5,200.5 L1513.8,199.8 L1513.0,197.8 L1511.7,197.2 L1511.7,196.5 L1513.8,196.7 L1513.8,195.2 L1515.8,194.8 L1517.6,195.0 L1518.0,193.0 L1517.7,191.6 L1513.6,191.2 L1511.0,192.1 L1509.0,192.6Z" fill="#fff"/>
<path d="M1456.7,225.0 L1456.1,226.9 L1456.3,230.2 L1456.3,246.0 L1470.1,246.0 L1482.3,246.0 M1456.3,246.0 L1456.3,250.3 L1454.1,250.3 L1454.1,251.4 L1453.9,260.0 L1451.9,259.7 L1450.4,262.8 L1450.2,263.9 L1450.4,264.8 L1449.5,266.5 L1450.4,266.5 L1450.8,268.5 L1451.7,269.2 L1451.7,269.8 M1454.1,251.4 L1436.4,242.9 L1434.4,243.8 L1432.7,244.9 L1427.8,242.7 L1424.1,240.7 L1422.8,236.1 L1423.0,232.6 L1422.4,227.8 L1421.4,223.9 L1420.0,222.6 L1418.0,220.1 L1420.0,216.4 L1419.5,214.5 L1420.0,213.3 M1422.4,227.8 L1424.1,224.7 L1426.5,223.2 L1426.8,221.7 M1427.8,242.7 L1420.4,246.9 L1414.0,251.2 L1410.9,252.2 L1408.5,252.4 L1408.5,251.0 L1406.1,250.1 L1405.5,249.0 L1390.9,239.5 L1382.6,234.1 L1382.6,233.6 L1382.6,231.1 L1386.2,229.3 L1388.3,229.1 L1390.2,228.5 L1391.0,227.4 L1393.7,225.0 L1398.8,223.4 L1397.9,219.9 L1397.7,218.6 L1396.8,217.1 M1382.6,233.6 L1372.9,233.7 M1382.6,234.1 L1382.6,237.4 L1375.3,237.4 L1375.3,242.9 L1373.4,243.1 L1372.9,244.2 L1373.4,247.5 L1364.8,247.5 L1364.4,247.3 M1390.9,239.5 L1387.5,239.5 L1388.5,249.0 L1389.6,258.4 L1390.0,258.7 L1389.6,260.2 L1380.7,260.2 L1376.9,260.4 L1375.8,261.7 L1374.9,262.2 L1372.3,259.1 L1369.7,257.8 L1366.4,258.0 L1365.5,258.9 M1374.9,262.2 L1376.4,267.0 L1376.9,267.7 L1377.8,267.4 L1379.3,268.3 L1381.3,267.2 L1382.1,267.6 L1383.2,269.2 L1384.0,271.8 L1384.3,271.6 L1387.4,271.3 L1389.8,271.3 M1365.1,264.3 L1367.5,264.3 L1367.9,263.8 L1369.4,265.0 L1371.4,264.6 L1370.3,265.0 L1368.6,264.6 L1364.8,265.3 M1365.1,267.0 L1367.7,266.5 L1371.6,266.5 L1371.6,268.3 L1370.1,268.9 L1368.6,270.0 M1371.6,266.5 L1374.7,267.1 L1376.4,267.6 M1410.9,252.2 L1410.9,257.2 L1409.7,258.7 L1409.5,260.0 L1404.7,260.6 L1402.5,261.5 L1400.9,261.5 L1397.2,262.2 L1394.8,264.6 L1392.0,266.8 L1390.2,268.5 L1389.8,271.3 M1402.5,261.5 L1402.3,262.6 L1403.8,265.0 L1406.3,267.0 L1406.4,268.1 L1409.5,268.5 L1410.6,264.6 L1413.4,263.7 L1417.6,265.4 L1421.3,266.1 L1425.0,265.2 L1430.3,264.3 L1431.1,262.6 L1432.2,259.7 L1435.1,254.9 L1436.0,250.4 L1436.4,249.5 L1435.5,248.2 L1434.4,243.8 M1389.8,271.3 L1391.1,272.7 L1393.9,272.4 L1395.5,273.1 L1395.1,271.3 L1395.3,270.1 L1399.0,270.0 L1399.9,270.3 L1401.6,270.0 L1403.6,270.0 L1403.3,271.2 L1404.7,272.7 L1405.2,274.2 L1405.1,279.2 L1405.8,280.8 M1403.6,270.0 L1404.8,268.8 L1406.4,268.1 M1395.5,273.1 L1396.0,276.2 L1394.6,280.4 L1395.3,283.2 M1401.6,270.0 L1401.5,270.7 L1402.4,271.8 L1402.4,273.4 L1402.6,275.1 L1403.1,275.9 L1402.7,277.9 L1402.8,279.0 L1403.4,280.4 L1403.9,281.1 M1409.5,268.5 L1409.5,271.6 L1407.5,275.5 L1407.5,276.8 L1407.5,280.3 M1385.2,284.7 L1384.8,281.6 L1383.2,279.0 L1383.2,277.3 L1381.5,278.1 L1381.0,277.7 L1381.3,276.6 L1379.3,275.7 L1378.6,275.8 L1378.4,276.4 L1377.3,277.9 L1376.7,279.2 M1384.0,271.8 L1383.4,272.7 L1383.7,276.4 L1383.2,277.3 M1372.7,274.6 L1373.8,273.8 L1374.5,272.5 L1377.3,272.1 L1378.0,272.9 L1378.4,273.8 L1378.6,275.1 L1378.6,275.8 M1420.2,283.6 L1421.7,280.1 L1423.7,278.7 L1425.8,279.6 L1427.3,278.8 L1428.3,275.9 L1429.5,275.1 L1430.4,273.0 L1431.3,270.5 L1433.1,268.8 L1432.7,266.8 L1433.5,265.0 L1432.1,264.9 L1431.1,262.6 M1433.5,265.0 L1433.3,265.9 L1434.2,267.4 L1434.3,268.7 L1434.2,270.3 L1435.5,272.3 L1434.2,272.2 L1432.7,272.2 L1432.1,273.3 L1433.3,274.5 L1434.4,274.8 L1435.3,277.3 L1435.1,277.9 L1437.6,277.3 L1438.1,277.7 L1440.9,276.8 L1441.9,275.9 L1443.0,275.3 L1442.7,274.5 L1443.4,274.3 L1445.5,274.4 L1447.5,273.3 L1449.1,270.9 L1451.7,269.8 M1435.1,277.9 L1434.0,280.1 L1433.3,280.5 L1433.2,282.2 L1433.5,283.1 L1433.3,283.8 L1434.3,284.9 L1434.5,285.7 L1435.3,286.9 L1436.3,287.5 L1436.6,289.1 M1436.3,287.5 L1437.7,287.1 L1439.0,286.0 L1440.5,286.3 L1442.0,286.4 L1442.2,284.9 L1443.0,283.8 L1444.2,283.1 L1446.0,283.8 L1447.3,284.7 L1449.0,284.9 L1450.6,285.3 L1451.3,284.0 L1451.6,283.8 L1452.6,284.0 L1455.0,282.9 L1455.9,283.4 L1456.6,283.3 L1456.9,282.8 L1457.7,282.6 L1459.4,282.8 L1460.8,282.9 L1461.5,282.7 M1451.7,269.8 L1453.1,272.0 L1453.1,272.9 L1452.8,273.8 L1452.9,274.5 L1453.7,275.1 L1455.4,276.1 L1456.5,277.0 L1456.5,277.7 L1458.1,278.8 L1458.9,279.8 L1459.5,281.1 L1461.1,282.0 L1461.5,282.7 L1462.8,284.5 L1463.8,284.7 L1464.4,284.3 L1465.4,284.5 L1466.6,284.0 L1467.1,285.0 L1469.1,286.4 L1470.0,285.8 L1471.4,286.3 L1473.1,285.8 L1474.7,285.8 L1476.0,284.8 M1453.7,275.1 L1454.5,275.0 L1455.9,272.7 L1456.5,271.6 L1458.1,271.3 L1458.4,271.9 L1459.5,273.2 L1460.1,273.4 L1460.9,273.0 L1462.5,273.1 L1462.8,273.5 L1465.0,273.5 L1465.1,273.1 L1466.1,272.7 L1466.4,272.0 L1467.2,271.6 L1469.1,272.9 L1470.2,272.7 L1471.3,271.1 L1472.5,269.9 L1472.3,268.5 L1471.8,267.9 L1473.1,267.8 L1473.2,267.3 L1474.2,267.5 L1474.0,269.1 L1474.2,270.6 L1475.4,271.5 L1475.6,272.3 L1475.6,273.4 L1475.9,273.4 L1475.9,275.1 M1485.6,254.7 L1484.5,256.0 L1483.0,256.2 L1482.2,257.0 L1482.0,258.4 L1481.0,261.7 L1481.2,262.6 L1481.0,264.3 L1480.1,266.5 L1478.8,267.6 L1477.7,269.4 L1477.5,270.3 L1476.6,270.9 L1475.9,273.1 L1475.9,275.1 L1475.6,275.7 L1474.5,275.8 L1473.7,277.0 L1475.1,277.3 L1476.1,278.3 L1476.5,279.2 L1477.5,279.7 L1478.8,282.1 L1476.0,284.8 M1481.2,262.6 L1483.9,263.0 L1484.5,261.4 L1485.8,262.4 L1487.2,261.9 L1487.6,262.4 L1489.2,262.4 L1491.1,263.2 L1491.6,264.0 L1492.6,264.7 L1493.5,265.9 L1494.3,266.7 L1495.9,266.3 M1494.3,266.7 L1492.8,268.7 L1492.9,269.2 L1493.0,269.9 L1494.2,270.0 L1494.7,269.8 L1495.2,270.2 L1495.5,272.2 L1496.3,273.2 L1497.2,274.0 L1504.3,276.6 L1506.2,276.6 L1500.0,283.2 L1497.2,283.2 L1495.2,284.8 L1493.7,284.9 L1493.2,285.6 L1491.7,285.6 L1490.8,284.8 L1488.8,285.8 L1488.2,286.7 L1486.7,286.4 L1486.3,286.2 L1485.0,286.2 L1482.2,284.4 L1480.7,284.4 L1479.9,283.6 L1479.9,282.5 L1478.8,282.1 M1495.2,270.2 L1496.0,269.0 M1508.6,269.2 L1508.7,270.1 L1508.7,273.4 L1507.7,274.8 L1506.2,276.6 M1493.2,285.6 L1491.3,288.0 L1491.3,296.0 L1492.6,297.8 M1476.0,284.8 L1477.1,286.3 L1477.3,287.4 L1478.2,289.9 L1477.5,291.5 L1476.4,293.0 L1475.8,293.9 L1475.8,296.2 L1476.1,296.4 L1484.1,300.9 L1484.3,302.2 L1487.4,304.4 M1469.1,286.4 L1468.9,289.0 L1469.8,289.3 L1469.1,290.1 L1468.3,290.6 L1467.4,291.8 L1467.0,292.8 L1466.8,294.5 L1466.3,295.4 L1466.3,297.0 L1465.7,297.6 L1465.6,298.9 L1465.3,299.1 L1465.1,300.3 L1465.7,301.3 L1465.8,303.9 L1466.2,306.0 L1466.0,307.1 L1466.4,308.4 L1467.7,309.6 L1468.9,312.3 M1466.3,297.0 L1468.2,296.6 L1468.9,296.3 L1471.3,296.4 L1475.8,296.2 M1468.2,296.6 L1469.0,297.8 L1468.9,299.1 L1468.3,299.4 L1467.1,299.2 L1466.4,300.5 L1465.1,300.3 M1468.3,299.4 L1468.4,300.2 L1468.9,300.7 L1468.9,301.5 L1468.4,301.9 L1467.5,303.0 L1466.7,303.8 L1465.8,303.9 M1468.9,312.3 L1469.8,312.9 L1470.7,313.3 L1472.0,313.6 L1473.3,314.3 L1474.3,315.3 L1474.9,317.1 L1474.5,317.7 L1474.0,319.5 L1474.5,321.3 L1473.8,322.1 L1473.1,324.1 L1474.3,324.7 L1467.6,326.5 L1467.8,328.0 L1466.2,328.3 L1464.9,329.2 L1464.7,330.0 L1463.9,330.1 L1462.0,331.9 L1460.8,333.4 L1460.0,333.4 L1459.3,333.2 L1456.9,332.9 L1456.5,332.7 L1455.6,332.1 L1454.2,332.0 L1452.4,332.4 L1448.4,333.3 L1443.1,333.0 L1441.6,332.0 L1432.7,332.1 L1432.4,332.2 L1431.1,331.2 L1429.6,331.2 L1428.3,331.5 L1427.3,332.0 M1474.3,315.3 L1475.9,315.3 L1476.6,316.3 L1477.2,319.3 L1478.9,319.1 L1481.5,319.7 L1482.1,319.5 L1483.6,319.4 L1484.4,318.8 L1485.7,318.8 L1488.1,317.9 L1489.8,316.7 M1428.6,307.4 L1429.5,307.2 L1430.1,307.2 L1430.9,306.9 L1437.3,307.0 L1437.9,308.6 L1438.5,309.9 L1439.8,311.8 L1441.3,311.6 L1442.0,311.3 L1443.2,311.6 L1443.5,311.0 L1444.1,309.8 L1445.4,309.7 L1445.6,309.3 L1446.7,309.3 L1446.5,310.1 L1449.1,310.1 L1449.2,311.4 L1449.6,312.3 L1449.3,313.6 L1449.5,314.9 L1450.2,315.7 L1450.1,318.3 L1450.6,318.1 L1451.6,318.2 L1452.9,317.9 L1453.9,318.0 L1454.2,318.7 L1453.9,319.7 L1454.3,320.8 L1454.0,321.6 L1454.2,322.3 L1449.6,322.3 L1449.5,329.3 L1451.0,331.1 L1452.4,332.4 M1454.2,318.7 L1454.8,318.7 L1455.8,318.7 L1457.2,318.9 L1457.9,319.9 L1459.7,320.2 L1461.0,319.5 L1461.5,320.6 L1463.2,320.9 L1464.0,321.9 L1464.9,323.1 L1466.6,323.1 L1466.4,320.7 L1465.8,321.1 L1464.3,320.3 L1463.7,319.9 L1464.0,317.7 L1464.3,315.1 L1463.8,314.1 L1464.5,312.8 L1465.1,312.5 L1468.0,312.1 L1468.9,312.3 M1427.7,305.1 L1428.6,304.2 L1429.2,303.8 L1430.0,304.6 L1430.6,304.8 L1431.4,303.9 L1432.5,304.0 L1432.7,304.6 L1433.5,305.0 L1434.8,303.6 L1436.1,302.5 L1436.6,301.8 L1436.5,300.0 L1437.5,297.9 L1438.5,296.8 L1439.9,295.7 L1440.2,295.0 L1440.2,294.2 L1440.6,293.5 L1440.5,292.2 L1440.8,290.3 L1441.2,288.9 L1441.8,287.8 L1442.0,286.4 M1428.2,306.8 L1428.8,306.5 L1428.9,305.6 L1429.2,305.0 L1430.0,304.6 M1425.9,302.8 L1427.5,301.6 L1426.7,300.2 L1427.5,299.6 L1428.9,299.3 L1429.1,298.4 L1430.3,299.4 L1432.2,299.5 L1432.9,298.5 L1433.2,297.0 L1432.9,295.3 L1431.9,294.0 L1432.8,291.5 L1432.3,291.0 L1430.7,291.2 L1430.0,290.1 L1430.2,289.1 L1433.0,289.2 L1434.7,289.8 L1436.5,290.3 L1436.6,289.1 M1422.7,289.1 L1426.3,289.2 L1427.3,289.0 L1428.6,289.3 L1429.9,289.0 L1430.2,289.1 M1426.3,289.2 L1426.3,291.8 L1423.1,291.8 L1422.4,291.9 M1456.5,332.7 L1455.2,333.2 L1454.6,333.2 L1453.2,334.1 L1452.4,333.2 L1449.0,334.0 L1447.4,334.0 L1447.3,341.8 L1445.1,341.9 L1445.1,348.3 L1445.1,356.4 L1443.2,357.5 L1442.0,357.7 L1440.6,357.2 L1439.6,357.1 L1439.3,356.2 L1438.4,355.5 L1437.4,356.6 M1445.1,348.3 L1445.7,348.6 L1447.0,350.7 L1446.8,352.0 L1447.3,352.8 L1448.9,352.6 L1450.0,351.6 L1451.0,350.9 L1451.5,349.9 L1452.6,349.4 L1453.5,349.7 L1454.6,350.3 L1456.4,350.4 L1457.7,349.9 L1458.0,349.2 L1458.4,348.1 L1459.6,348.0 L1460.2,347.1 L1460.9,345.7 L1462.9,344.1 L1466.0,342.4 L1464.6,341.4 L1462.9,341.1 L1462.3,339.7 L1462.3,339.0 L1461.3,338.7 L1458.8,336.3 L1458.2,335.0 L1457.7,334.7 L1456.9,332.9 M1466.0,342.4 L1466.9,342.5 L1467.9,342.8 L1468.7,342.6 L1469.8,342.8 L1470.9,345.9 L1471.5,347.4 L1471.1,349.9 L1471.3,350.6 L1470.2,350.2 L1469.5,350.4 L1469.3,351.0 L1468.7,351.9 L1468.7,352.6 L1470.0,353.8 L1471.3,353.6 L1471.8,352.6 L1473.4,352.6 M1471.3,350.6 L1471.8,352.6 M1465.0,357.5 L1465.8,358.1 L1465.1,359.2 L1464.7,359.9 L1463.5,360.2 L1463.1,360.9 L1462.3,361.2 L1460.7,359.5 L1461.8,358.1 L1463.0,357.2 L1464.0,356.8 L1465.0,357.5 M1469.8,342.8 L1472.1,340.3 L1472.7,338.7 L1473.1,338.5 L1473.3,337.2 L1473.0,336.6 L1473.0,334.9 L1473.5,333.4 L1473.5,330.7 L1472.3,330.0 L1471.3,329.8 L1470.8,329.3 L1469.8,328.8 L1468.0,328.8 L1467.8,328.0 M1474.3,324.7 L1475.5,325.7 L1476.1,325.5 L1477.0,326.1 L1477.1,326.9 L1476.7,328.0 L1476.8,329.5 L1478.2,330.9 L1478.9,329.3 L1479.9,328.9 L1479.7,326.1 L1478.8,324.5 L1478.0,323.8 L1477.2,323.8 L1476.6,321.0 L1477.2,319.3 M1093.1,141.8 L1093.1,162.2 L1097.5,162.8 L1100.8,165.2 L1105.1,163.3 L1109.7,166.3 L1113.4,170.3 L1117.2,171.8 L1116.9,173.3 M1132.9,186.9 L1193.3,186.9 L1193.3,186.0 L1194.6,187.3 L1196.8,187.8 L1199.0,188.0 L1201.2,188.9 L1202.9,188.4 L1205.6,189.1 L1208.2,188.4 L1215.8,191.5 L1217.6,192.4 L1218.7,193.2 L1218.9,193.9 L1220.9,195.0 L1222.0,198.7 L1221.3,200.0 L1219.8,202.0 L1221.3,202.9 L1223.7,201.8 L1226.1,201.3 L1229.0,200.2 L1228.3,198.9 L1229.4,198.7 L1233.6,198.7 L1234.2,197.8 L1236.8,196.1 L1237.7,195.6 L1245.2,195.6 L1245.4,195.0 L1246.9,194.5 L1247.8,193.0 L1248.4,191.9 L1250.2,190.4 L1250.8,190.8 L1252.4,190.4 L1253.3,191.0 L1253.3,194.1 L1254.8,195.4 M1145.4,223.0 L1150.6,222.6 L1150.4,223.0 L1158.7,225.6 L1164.9,225.6 L1164.9,224.5 L1168.6,224.5 L1171.9,227.1 L1172.5,228.2 L1173.0,229.3 L1176.0,230.7 L1177.3,228.9 L1179.1,228.9 L1180.8,229.8 L1182.6,232.6 L1183.9,233.9 L1184.3,235.5 L1186.7,237.0 L1188.3,237.6 M1199.9,262.4 L1200.1,261.1 L1201.0,258.9 L1203.6,258.9 L1203.8,258.2 L1202.5,256.4 L1202.5,255.2 L1206.6,255.2 L1206.5,254.8 L1208.4,253.6 M1206.6,255.2 L1206.4,259.3 L1207.1,259.3 M1206.1,262.6 L1204.5,264.1 M1206.1,262.6 L1206.6,261.9 L1207.3,263.2 L1208.0,263.5 L1209.4,263.7 L1209.7,265.0 M1210.6,265.7 L1213.2,263.9 L1215.6,262.2 L1218.9,261.3 M1214.1,269.8 L1216.3,270.0 L1218.5,270.3 M1220.1,276.2 L1220.2,274.2 L1221.1,273.1 M1245.6,268.3 L1242.1,271.1 L1243.2,274.4 L1242.3,276.6 L1243.2,277.9 L1244.2,278.8 L1248.2,278.9 L1249.8,280.8 L1253.5,280.3 L1254.3,280.8 L1253.3,284.3 L1254.3,286.4 L1253.3,288.0 L1254.1,288.4 L1254.6,290.4 L1255.2,291.4 M1255.2,291.4 L1254.9,291.6 L1254.3,290.4 L1252.8,290.4 L1248.9,290.4 L1248.9,291.7 L1250.2,291.9 L1250.1,292.8 L1249.6,292.6 L1248.4,292.9 L1248.4,294.5 L1249.4,295.3 L1249.8,296.5 L1248.7,303.5 M1248.7,303.5 L1247.6,302.3 L1246.9,302.3 L1248.3,300.0 L1246.7,299.0 L1245.4,299.1 L1244.5,298.9 L1243.4,299.4 L1241.7,299.1 L1240.4,296.9 L1239.5,296.3 L1237.3,294.2 L1236.6,294.4 M1236.6,294.4 L1234.7,293.2 L1232.2,293.2 L1231.2,292.3 L1229.0,291.0 M1236.6,294.4 L1237.1,296.1 L1236.4,297.6 L1234.0,299.8 L1231.4,300.7 L1230.0,302.6 L1229.6,304.1 L1228.3,305.0 L1227.4,303.8 L1226.5,303.6 L1225.6,303.8 L1225.5,303.0 L1225.9,301.5 M1248.7,303.5 L1246.7,303.4 L1242.1,305.6 L1241.9,306.7 L1241.4,307.4 L1241.7,308.6 L1240.3,309.2 L1239.7,310.5 L1240.6,312.5 L1241.9,313.8 L1241.4,314.8 L1242.8,314.9 L1243.7,316.1 L1246.3,315.5 L1247.3,314.9 L1247.2,318.2 L1248.2,318.4 L1249.5,318.1 M1249.5,318.1 L1251.4,321.6 L1250.8,322.3 L1250.8,325.7 L1250.0,326.8 L1250.3,327.6 L1249.8,328.4 L1250.7,330.2 L1249.3,332.6 L1248.7,333.7 L1247.6,334.1 M1249.3,332.6 L1250.7,335.6 L1251.9,336.5 L1251.2,338.7 L1252.4,341.1 L1253.3,344.2 L1254.8,343.8 M1254.8,343.8 L1255.0,344.4 L1254.3,346.6 L1251.9,347.7 L1251.9,351.4 L1251.5,352.1 L1252.2,353.0 L1250.6,354.3 L1249.2,356.4 L1248.4,358.4 L1248.7,360.4 L1247.3,362.8 L1248.3,366.5 L1248.9,367.0 L1248.9,368.9 L1247.6,371.1 L1247.7,372.9 L1246.0,374.3 L1246.0,376.4 L1246.7,378.4 L1245.4,379.2 L1244.7,381.2 L1244.3,383.4 L1244.6,386.1 L1243.7,386.5 L1244.3,389.1 L1245.2,389.9 L1244.5,390.8 L1245.6,391.2 L1245.8,392.1 L1244.8,392.6 L1245.0,393.8 L1244.3,396.7 L1243.1,398.5 L1243.4,399.6 L1242.6,401.1 L1241.0,402.0 L1241.2,404.4 L1241.9,405.0 L1243.4,405.0 L1243.3,406.6 L1244.3,407.9 L1249.5,408.2 L1251.6,408.5 M1251.4,409.3 L1251.4,414.2 M1249.5,318.1 L1251.1,318.2 L1252.2,318.2 L1252.7,317.5 L1254.6,316.6 L1255.8,315.8 L1258.7,315.5 L1258.5,317.1 L1258.7,319.3 L1260.9,321.5 L1263.3,321.7 L1264.2,322.5 L1265.7,323.0 L1266.6,323.6 L1268.0,323.6 L1269.2,324.3 L1269.3,325.5 L1269.8,326.0 L1269.8,327.1 L1269.2,327.1 L1270.0,329.7 L1274.2,329.8 L1273.8,331.1 L1274.0,332.0 L1275.4,332.4 L1275.8,333.9 L1275.4,335.6 L1274.8,336.5 L1275.0,337.8 L1274.3,338.3 M1274.3,338.3 L1274.3,337.6 L1272.3,336.5 L1270.2,336.4 L1266.4,337.0 L1265.4,339.0 L1265.3,340.2 L1264.4,342.8 M1264.4,342.8 L1264.1,342.3 L1261.6,342.2 L1260.7,344.0 L1259.5,342.4 L1256.5,341.8 L1254.8,343.8 M1264.4,342.8 L1268.5,346.4 L1270.3,346.7 L1272.9,348.4 L1275.1,349.2 L1275.6,350.1 L1273.4,353.4 L1275.6,354.1 L1278.0,354.3 L1279.7,354.1 L1281.7,352.3 L1282.1,350.3 M1274.3,338.3 L1275.0,339.4 L1274.8,342.5 L1277.1,342.9 L1278.0,342.5 L1279.5,343.0 L1279.9,343.7 L1280.2,345.7 L1280.4,346.5 L1281.2,346.6 L1282.0,346.3 L1282.8,346.7 L1282.8,347.9 L1282.6,349.2 L1282.1,350.3 M1282.1,350.3 L1284.3,351.2 L1284.2,353.0 L1282.4,354.3 L1280.9,355.1 L1278.4,357.2 L1275.6,360.2 M1275.6,360.2 L1276.9,360.0 L1279.1,361.7 L1279.9,361.6 L1282.2,363.0 L1283.9,364.2 L1285.2,365.6 L1284.2,366.7 L1284.8,368.0 M1275.6,360.2 L1275.0,361.9 L1274.4,364.2 L1274.4,366.4 L1273.9,366.9 L1273.8,368.3 M1255.2,291.4 L1256.5,292.5 L1258.2,292.4 L1258.6,291.7 L1260.3,291.2 L1261.1,290.8 L1261.4,289.9 L1262.9,289.3 L1262.9,288.8 L1261.0,288.6 L1260.7,287.3 L1260.8,285.8 L1259.8,285.2 L1260.3,285.0 L1261.8,285.3 L1263.5,285.9 L1264.2,285.3 L1265.7,285.0 L1268.2,284.2 L1269.0,283.4 L1268.7,282.7 M1268.7,282.7 L1267.3,281.1 L1267.8,280.5 L1267.8,279.4 L1269.2,279.1 L1269.7,278.7 L1268.9,277.9 L1269.1,277.1 L1270.8,275.8 M1268.7,282.7 L1269.9,282.6 L1270.4,283.1 L1270.1,284.1 L1270.8,284.4 L1271.4,285.4 L1270.8,286.2 L1270.4,288.1 L1271.0,289.2 L1271.1,290.2 L1272.4,291.3 L1273.5,291.3 L1273.8,290.9 L1274.5,290.8 L1275.4,290.4 L1276.2,289.8 L1277.3,290.0 L1277.9,289.9 M1277.9,289.9 L1276.9,288.0 L1276.2,286.8 L1275.6,286.8 L1274.6,285.2 L1275.0,284.1 L1274.9,283.6 L1276.2,283.0 L1276.6,281.0 M1277.9,289.9 L1279.1,290.2 L1279.3,289.7 L1278.9,289.3 L1279.1,288.6 L1280.0,288.8 L1281.0,288.6 L1282.4,289.1 L1283.3,289.5 L1283.9,288.9 L1284.4,289.0 L1284.8,289.6 L1285.8,289.5 L1286.6,288.6 L1287.3,287.0 L1288.6,285.0 M1282.4,289.1 L1282.9,288.1 L1283.1,287.1 L1283.4,286.2 L1282.6,284.9 L1282.4,283.4 L1283.5,281.5 M1244.7,251.0 L1244.9,252.1 L1244.3,253.4 L1244.7,254.1 L1244.7,254.7 M1503.3,188.2 L1505.1,189.7 L1506.8,189.6 L1508.2,183.4 L1512.7,181.0 L1516.1,180.9 L1520.9,182.4 L1523.5,183.3 L1525.8,182.4 L1529.3,182.4 L1532.1,183.5 L1532.7,182.9 L1535.8,182.9 L1536.4,181.9 L1532.8,180.4 L1534.9,179.3 L1534.5,178.7 L1536.6,178.2 L1535.0,176.7 L1536.0,175.9 L1544.2,175.2 L1545.3,174.6 L1550.8,173.8 L1552.7,172.9 L1556.7,173.4 L1557.3,175.7 L1559.6,175.1 L1562.4,175.9 L1562.3,177.1 L1564.3,176.9 L1569.8,174.9 L1569.0,175.6 L1571.8,177.3 L1576.7,182.8 L1577.9,181.7 L1580.9,182.9 L1584.0,182.4 L1585.3,182.8 L1586.3,184.0 L1587.8,184.4 L1588.8,185.4 L1591.6,185.1 L1592.7,186.4 M1503.3,188.2 L1504.5,186.6 L1503.9,186.1 L1505.6,183.7 L1507.9,185.0 L1508.2,183.4 M1509.0,192.6 L1507.9,192.2 L1508.1,191.1 L1506.8,189.6 M1592.7,186.4 L1593.6,186.2 L1595.9,185.9 L1600.1,184.0 L1603.4,182.9 L1605.3,183.6 L1607.6,183.6 L1609.1,184.7 L1611.2,184.7 L1614.4,185.3 L1616.5,183.8 L1615.7,182.5 L1617.9,180.2 L1620.4,181.1 L1622.3,181.4 L1624.9,181.9 L1625.3,183.6 L1628.5,184.5 L1630.5,184.1 L1633.3,183.8 L1635.5,184.1 L1637.6,185.2 L1639.0,186.3 L1641.0,186.3 L1643.7,186.6 L1645.7,186.1 L1648.6,185.7 L1651.8,184.2 L1653.1,184.4 L1654.3,185.1 L1656.9,184.9 L1659.5,185.8 L1662.6,184.4 L1662.6,183.4 L1664.6,181.1 L1665.8,180.4 L1665.8,179.2 L1664.6,178.7 L1666.3,177.6 L1669.1,177.2 L1672.0,177.1 L1675.3,177.8 L1677.2,178.6 L1678.5,180.8 L1679.3,181.7 L1680.1,183.1 L1680.9,185.2 L1684.7,185.9 L1687.3,187.5 L1688.2,189.5 L1691.5,189.5 L1693.4,188.7 L1697.0,188.0 L1695.9,190.0 L1695.0,190.8 L1694.3,193.2 L1692.8,195.3 L1690.2,194.9 L1688.3,195.7 L1688.9,197.6 L1688.5,200.2 L1687.4,200.2 L1687.4,201.3 M1593.6,186.2 L1594.2,187.8 L1596.0,188.9 L1599.1,189.8 L1600.6,191.5 L1599.8,194.1 L1600.6,195.0 L1603.2,195.4 L1606.1,195.7 L1608.8,197.1 L1610.1,197.3 L1611.1,199.3 L1612.4,200.6 L1614.8,200.6 L1619.3,201.1 L1622.3,200.8 L1624.4,201.1 L1627.6,202.4 L1630.3,202.4 L1631.3,203.1 L1633.8,201.9 L1637.3,201.2 L1640.6,201.1 L1643.2,200.3 L1644.8,199.1 L1646.3,198.4 L1645.9,197.7 L1645.2,196.8 L1646.4,195.4 L1647.6,195.6 L1649.9,196.1 L1652.0,194.9 L1655.4,194.0 L1657.0,192.6 L1658.5,192.0 L1661.7,191.7 L1663.4,191.9 L1663.7,191.2 L1661.7,189.6 L1659.9,188.9 L1658.3,189.7 L1656.1,189.4 L1654.8,189.7 L1654.3,188.8 L1655.8,186.6 L1656.9,184.9 M1592.7,186.4 L1591.1,187.9 L1589.3,188.1 L1589.2,190.3 L1587.9,191.3 L1583.6,190.5 L1582.0,194.5 L1580.9,194.9 L1576.6,195.8 L1578.5,199.6 L1577.0,200.2 L1577.2,201.4 L1576.9,201.9 L1573.4,203.1 L1572.7,204.0 L1569.9,204.2 L1569.0,205.6 L1566.7,205.4 L1565.2,205.8 L1563.1,206.8 L1563.4,207.3 L1562.8,207.8 L1563.4,209.8 L1564.1,209.6 L1565.4,210.1 L1565.3,211.0 L1565.7,212.2 L1566.1,212.9 L1567.7,213.9 L1568.3,215.6 L1571.9,216.4 L1574.3,219.0 L1574.0,220.8 L1574.9,221.9 L1574.8,223.0 L1573.3,222.7 L1573.9,225.1 L1576.0,226.5 L1579.1,228.1 L1580.0,227.5 L1581.7,228.2 L1583.9,229.6 L1585.2,229.9 L1585.9,231.0 L1587.6,231.4 L1589.4,232.4 L1591.8,232.9 L1594.4,233.1 L1595.7,232.6 L1597.4,232.7 L1598.6,232.2 L1600.1,232.7 L1601.3,232.7 L1602.2,233.3 L1604.0,233.1 L1606.0,231.4 L1608.5,230.0 L1610.3,230.6 L1611.9,229.7 L1612.9,231.0 L1612.2,231.9 L1614.6,232.3 L1615.8,232.1 L1616.6,233.4 L1617.5,233.9 L1617.6,235.6 L1617.5,237.4 L1615.4,239.2 L1615.1,241.8 L1617.5,241.5 L1618.0,243.5 L1619.4,243.9 L1618.7,245.7 L1620.4,246.5 L1621.3,246.9 L1622.9,246.3 L1623.0,247.2 L1623.2,247.7 L1624.3,247.8 L1624.0,245.3 L1625.1,245.0 L1626.3,244.4 L1628.1,244.4 L1630.2,244.2 L1632.1,243.0 L1633.1,243.8 L1635.1,244.2 L1634.8,245.5 L1635.8,246.4 L1638.0,246.9 M1687.4,201.3 L1686.0,200.0 L1685.2,201.3 L1681.8,202.2 L1682.1,203.4 L1680.2,203.3 L1679.2,202.6 L1677.7,204.2 L1675.3,205.3 L1673.5,206.7 M1682.4,209.6 L1681.2,210.3 L1679.6,210.4 L1678.8,211.4 L1677.8,211.3 M1571.9,216.4 L1569.8,218.3 L1567.4,218.6 L1564.0,218.1 L1563.0,219.0 L1563.7,220.9 L1564.5,222.4 L1566.3,223.5 L1564.4,224.8 L1564.4,226.3 L1562.3,228.5 L1560.9,230.7 L1558.7,233.0 L1556.1,232.9 L1553.7,235.2 L1555.1,236.1 L1555.4,237.8 L1556.6,238.9 L1557.0,240.8 L1552.2,240.8 L1550.8,242.3 M1579.1,228.1 L1577.7,229.1 L1576.8,231.1 L1579.0,231.9 L1581.0,233.0 L1583.9,234.2 L1586.9,234.5 L1588.1,235.6 L1589.8,235.8 L1592.5,236.3 L1594.3,236.3 L1594.5,235.4 L1594.2,234.0 L1594.4,233.1 M1595.9,234.4 L1595.7,232.6 M1595.9,234.4 L1596.0,234.8 L1598.0,235.6 L1599.3,235.3 L1601.2,235.4 L1603.0,235.4 L1603.1,234.0 L1602.2,233.3 M1596.4,245.8 L1596.1,244.0 L1595.3,242.4 L1595.7,241.1 L1594.3,240.5 L1594.8,239.7 L1596.2,238.9 L1594.6,237.7 L1595.4,236.2 L1597.1,237.2 L1598.1,237.3 L1598.3,238.8 L1600.4,239.1 L1602.5,239.1 L1603.7,239.4 L1602.7,241.3 L1601.7,241.4 L1601.1,242.7 L1602.3,243.8 L1602.6,242.4 L1603.2,242.4 L1604.4,245.9 L1604.3,247.5 L1603.6,247.1 L1603.7,248.9 M1604.4,245.9 L1605.5,245.4 L1605.2,244.4 L1605.7,243.7 L1605.8,241.4 L1607.5,241.9 L1608.5,240.1 L1608.6,239.0 L1609.8,237.2 L1609.7,236.0 L1612.6,234.5 L1614.1,234.8 L1613.9,233.5 L1614.7,233.1 L1614.6,232.3 M1620.7,249.4 L1619.4,249.9 L1618.1,250.9 L1616.6,251.0 L1615.6,253.3 L1614.7,253.7 L1615.7,255.7 L1617.1,257.3 L1618.0,258.7 L1617.2,260.6 L1616.4,261.0 L1617.0,262.1 L1618.4,263.8 L1618.7,265.1 L1618.6,266.1 L1619.5,268.1 L1618.3,270.1 L1617.2,272.4 M1620.4,246.5 L1620.7,249.4 L1621.6,250.1 L1621.7,251.4 L1623.2,251.5 L1622.7,253.8 L1622.7,255.8 L1625.0,254.5 L1625.7,254.9 L1627.0,254.8 L1627.4,254.0 L1629.1,254.2 L1630.7,256.0 L1630.9,258.1 L1632.6,260.0 L1632.5,261.9 L1631.8,262.9 M1631.8,262.9 L1629.8,262.5 L1626.9,263.0 L1625.5,264.8 L1626.0,267.4 M1625.1,245.0 L1626.4,246.7 L1627.4,248.7 L1630.1,248.7 L1630.9,250.6 L1629.5,251.2 L1628.9,251.9 L1631.5,253.3 L1633.4,255.8 L1634.8,257.8 L1636.4,259.3 L1636.9,260.8 L1636.5,263.0 M1636.5,263.0 L1637.1,264.5 L1636.8,267.1 L1633.1,268.8 L1634.1,270.1 L1631.8,270.3 L1629.9,271.1 M1631.8,262.9 L1633.6,263.7 L1634.6,262.2 L1636.5,263.0 M1620.6,280.0 L1621.0,279.6 L1622.8,280.5 L1622.9,281.7 L1624.4,281.4 L1625.1,280.5 M1641.5,289.7 L1641.9,291.2 L1643.4,292.4 L1644.8,292.0 L1646.2,292.1 L1647.5,291.0 L1648.5,290.8 L1650.6,291.4 L1652.4,291.0 L1653.5,287.9 L1654.4,287.2 L1655.1,284.7 L1657.6,284.7 L1659.5,285.0 M1651.5,284.2 L1652.3,285.3 L1652.9,284.6 L1654.0,284.6 L1654.1,283.2 L1654.2,282.2 M1710.1,299.8 L1710.2,306.9 L1710.2,314.1 M1675.0,313.6 L1675.3,314.0 L1675.3,314.6 M1519.6,212.7 L1521.5,212.3 L1523.1,211.0 L1524.5,211.1 L1525.5,210.7 L1527.0,210.9 L1529.5,212.0 L1531.2,212.2 L1533.7,214.2 L1535.3,214.3 L1535.5,216.1 L1534.6,218.8 L1534.0,220.4 L1535.0,220.7 L1534.1,221.9 L1534.8,223.7 L1534.9,225.1 L1536.6,225.4 L1536.8,226.8 L1534.8,228.8 L1535.9,230.0 L1536.8,231.3 L1538.9,232.3 L1538.9,234.2 L1539.9,234.5 L1540.1,235.5 L1537.0,236.7 L1536.2,239.2 M1534.8,228.8 L1538.5,229.9 L1540.6,229.6 L1542.0,229.9 L1542.4,229.4 L1543.9,229.6 L1546.8,228.7 L1546.8,226.8 L1548.1,225.6 L1549.7,225.6 L1549.9,225.0 L1551.6,224.7 L1552.4,224.9 L1553.3,224.3 L1553.1,223.0 L1554.1,221.7 L1555.5,221.1 L1554.6,219.7 L1556.7,219.7 L1557.3,218.9 L1557.2,218.1 L1558.3,217.2 L1558.0,216.1 L1557.5,215.2 L1558.8,214.2 L1561.1,213.8 L1563.7,213.5 L1564.8,213.1 L1566.1,212.9 M1535.5,216.1 L1537.8,216.9 L1539.4,216.6 L1539.9,215.6 L1541.6,215.3 L1542.8,214.7 L1543.3,212.9 L1545.1,212.5 L1545.5,211.7 L1546.5,212.3 L1547.1,212.4 L1548.4,212.4 L1550.0,212.8 L1550.7,213.1 L1552.3,212.4 L1553.0,212.8 L1553.7,211.8 L1555.0,211.9 L1555.4,211.5 L1555.6,210.6 L1556.5,209.9 L1557.7,210.4 L1557.5,211.1 L1558.1,211.2 L1557.9,213.0 L1558.8,213.7 L1559.6,213.3 L1560.5,213.0 L1561.9,212.1 L1563.4,212.2 L1565.7,212.2 M1516.5,202.7 L1519.9,201.5 L1521.4,202.1 L1522.9,203.8 L1524.1,203.7 L1526.5,203.7 L1526.2,202.6 L1528.0,201.8 L1529.9,200.6 L1532.8,201.7 L1533.1,203.5 L1533.9,203.9 L1536.3,203.8 L1537.0,204.2 L1538.1,206.5 L1540.6,208.0 L1542.0,209.0 L1544.3,210.1 L1547.2,211.0 L1547.1,212.4 M1524.1,203.7 L1524.0,195.6 L1529.6,194.3 L1530.0,194.5 L1533.4,196.1 L1535.2,196.9 L1537.3,198.9 L1539.9,198.6 L1543.6,198.4 L1546.2,200.0 L1546.1,202.2 L1547.1,202.2 L1547.6,204.0 L1550.4,204.1 L1551.0,205.1 L1551.8,205.1 L1552.7,203.6 L1555.6,202.0 L1556.9,201.6 L1557.5,201.8 L1555.7,203.3 L1557.3,204.1 L1558.9,203.5 L1561.5,204.7 L1558.6,206.3 L1557.0,206.1 L1556.1,206.1 L1555.8,205.5 L1556.2,204.5 L1553.3,205.0 L1552.6,206.4 L1551.6,207.6 L1549.7,207.5 L1549.2,208.5 L1550.8,209.0 L1551.2,210.6 L1550.0,212.8 M1556.9,201.6 L1557.4,200.7 L1558.8,200.3 L1562.4,201.1 L1562.7,199.8 L1564.0,199.4 L1567.1,200.3 L1567.9,200.0 L1571.5,200.1 L1574.8,200.3 L1575.9,201.1 L1577.2,201.4 M1562.8,207.8 L1558.7,208.2 L1556.0,207.5 L1553.6,207.6 L1553.8,206.4 L1556.2,206.7 L1557.0,206.1 M1495.2,258.3 L1496.2,257.6 L1495.9,256.7 L1496.5,255.6 L1497.4,256.2 L1498.0,256.0 L1500.5,256.0 L1500.9,256.2 L1503.1,256.4 L1503.9,256.3 L1504.4,257.0 L1505.5,256.6 L1507.0,254.3 L1509.1,253.4 L1515.4,252.5 L1521.9,250.3 L1523.4,246.0 L1522.4,244.4 L1522.4,243.5 L1523.1,242.6 L1523.1,241.7 L1524.1,241.3 L1523.7,241.0 L1523.9,239.6 L1525.0,239.6 M1515.4,252.5 L1517.1,256.1 L1517.8,257.7 M1522.4,244.4 L1516.6,243.9 L1514.5,241.0 M1512.8,239.9 L1513.4,240.4 L1514.0,240.2 M1507.5,231.6 L1506.0,231.7 L1505.4,230.6 L1503.5,230.4 L1499.4,230.3 L1493.3,225.9 L1490.0,224.3 L1487.4,223.7 L1486.9,224.1 L1482.6,225.2 L1484.7,227.3 L1484.0,227.7 L1483.6,228.5 L1482.0,228.7 L1481.5,229.6 L1480.5,230.2 L1478.1,229.9 M1503.5,230.4 L1505.1,228.3 L1506.6,228.5 M1507.9,228.6 L1505.9,226.3 L1506.3,224.7 L1505.2,223.1 L1502.5,221.9 L1501.0,219.8 L1501.5,218.1 L1502.6,217.3 L1502.4,216.0 L1501.0,215.4 L1499.6,212.8 M1499.6,212.8 L1498.5,213.1 L1497.7,212.6 L1495.2,212.3 L1494.3,212.6 L1491.8,213.0 L1490.6,212.9 L1488.1,213.8 L1486.3,213.8 L1485.1,213.4 L1482.7,214.0 L1482.0,213.5 L1481.9,214.8 L1481.3,215.2 L1480.7,215.7 M1494.3,212.6 L1493.1,214.0 L1491.9,214.5 L1492.1,216.1 L1491.3,218.8 L1486.5,221.1 L1482.2,223.4 L1479.8,222.5 M1487.4,223.7 L1486.5,221.1 M1479.8,222.5 L1479.4,223.2 L1479.4,224.6 L1479.1,225.2 L1478.0,229.6 M1478.0,229.6 L1476.6,225.8 M1480.0,221.3 L1480.5,220.1 L1481.7,219.3 L1481.4,218.4 L1480.4,218.3 M1480.0,221.3 L1479.4,221.3 L1479.2,221.7 L1478.5,221.7 M1499.6,212.8 L1498.4,211.0 L1498.8,210.3 L1498.1,207.8 L1499.6,207.2 L1500.0,208.0 L1501.1,209.1 L1502.6,209.3 L1503.4,209.3 L1505.9,207.7 L1506.8,207.5 L1507.4,208.1 L1506.6,209.2 L1508.0,210.4 L1508.5,210.3 M1489.0,199.1 L1489.3,198.8 L1491.1,199.2 L1494.3,199.5 L1497.3,200.6 L1497.7,201.0 L1499.1,200.7 L1501.1,201.1 L1501.8,202.0 L1503.1,202.5 L1503.8,202.6 L1505.2,203.9 L1506.2,204.1 L1506.6,203.5 L1507.9,202.6 M1492.5,203.2 L1494.9,203.1 L1497.0,204.2 L1500.5,203.5 L1503.6,204.0 L1502.6,202.8 L1503.1,202.5 M1497.0,204.2 L1497.3,205.0 L1497.1,206.0 L1498.7,206.6 L1499.6,207.2 M1500.5,203.5 L1500.1,203.9 L1501.3,204.8 L1500.8,205.4 L1502.0,206.1 L1501.4,206.8 L1502.3,207.4 L1503.3,207.8 L1503.4,209.3 M1476.0,217.4 L1474.8,217.5 L1473.4,217.2 M1425.7,165.3 L1426.7,164.1 L1428.5,162.6 L1429.2,160.0 L1427.8,158.9 L1427.7,156.0 L1429.1,153.9 L1431.3,154.0 L1432.1,153.1 L1431.3,152.3 L1434.7,149.3 L1436.8,146.8 L1438.3,145.3 L1440.4,145.3 L1441.0,144.1 L1445.1,144.4 L1445.4,143.0 L1446.8,142.9 L1449.7,144.0 L1453.1,145.4 L1453.2,148.8 L1453.9,149.7 M1446.8,142.9 L1448.1,142.3 L1450.5,143.5 L1453.4,143.4 L1455.7,143.9 L1457.8,142.9 L1458.9,141.3 L1462.3,140.6 L1465.1,141.4 L1464.2,143.0 L1467.2,146.0 L1465.2,147.6 L1467.7,150.1 L1466.2,152.0 L1468.2,153.6 L1467.3,155.1 L1470.6,156.5 L1469.7,157.7 L1467.7,158.9 L1463.0,161.7 M1465.1,141.4 L1465.9,142.8 L1469.6,141.9 M1462.8,164.0 L1461.6,165.6 L1462.3,167.7 L1462.6,168.3 L1461.3,168.4 L1462.4,168.9 L1462.6,169.9 L1463.3,171.2 L1465.6,171.7 L1465.9,172.3 L1467.0,172.0 L1469.1,172.6 L1469.4,173.6 L1468.9,174.2 L1470.3,175.6 L1471.2,176.0 L1471.0,176.4 L1472.5,176.8 L1473.1,177.4 L1472.3,177.9 L1470.5,177.8 L1470.1,178.0 L1470.6,178.7 L1471.2,180.1 L1472.0,180.2 L1472.5,179.7 L1473.2,179.8 L1475.4,179.6 L1476.8,180.8 L1476.3,181.3 L1476.5,181.9 L1478.2,182.1 L1479.0,183.0 L1479.0,183.4 L1481.7,184.2 L1483.4,183.9 L1484.8,184.9 L1486.0,184.9 L1489.3,185.6 L1489.3,186.2 L1488.4,187.4 L1488.9,188.6 L1488.6,189.3 L1486.4,189.4 L1485.3,190.1 L1485.2,191.0 M1432.5,176.5 L1433.0,177.6 L1432.4,178.2 L1433.2,179.0 L1433.7,180.1 L1433.6,180.9 L1434.5,182.3 L1433.5,182.5 L1432.9,182.2 L1432.4,182.7 L1430.8,183.1 L1430.0,183.6 L1428.4,184.1 L1428.8,184.8 L1429.0,185.7 L1430.1,186.2 L1431.4,187.2 L1430.6,188.2 L1429.8,188.4 L1430.1,189.9 L1429.9,190.2 L1429.2,189.8 L1428.2,189.7 L1426.6,190.1 L1424.7,190.0 L1424.4,190.6 L1423.3,190.0 L1422.6,190.1 L1420.2,189.4 L1419.8,189.9 L1417.9,189.9 L1418.2,188.4 L1419.3,186.8 L1416.2,186.5 L1415.1,185.9 L1415.3,184.9 L1414.8,184.4 L1415.1,182.9 L1414.7,180.7 L1416.0,180.7 L1416.6,179.8 L1417.1,177.8 L1416.7,177.1 M1397.4,199.1 L1398.3,200.0 L1402.3,200.9 L1403.1,200.5 L1405.6,201.5 L1408.1,201.2 M1417.9,198.5 L1418.1,197.5 L1416.9,197.3 L1416.4,195.6 L1417.1,194.9 L1416.5,194.1 L1416.6,193.5 L1417.5,193.9 L1418.6,193.8 L1419.8,193.1 L1420.2,193.4 L1421.2,193.4 L1421.7,192.5 L1423.3,192.8 L1424.3,192.4 L1424.4,191.5 L1425.8,191.8 L1426.0,191.4 L1428.2,191.0 L1428.7,191.8 L1431.8,192.3 L1431.6,193.4 L1432.1,194.3 L1431.6,194.5 M1422.6,190.1 L1422.7,190.5 L1422.3,191.0 L1423.3,191.4 L1424.4,191.5 M1407.1,182.2 L1407.4,182.9 L1408.4,183.0 L1409.5,183.9 L1411.0,184.9 L1412.1,184.7 L1414.0,185.7 L1414.5,185.9 L1415.1,185.9 M1417.9,189.9 L1417.3,190.3 L1416.3,190.1 L1416.4,190.6 L1414.8,191.9 L1414.8,192.9 L1415.8,192.5 L1416.6,193.5 M1453.0,176.1 L1453.1,177.1 L1453.7,177.9 L1453.7,178.8 L1452.4,179.3 L1453.0,180.3 L1453.1,181.2 L1454.2,183.1 L1453.9,183.8 L1452.9,184.0 L1450.9,185.8 L1451.4,186.8 L1451.0,186.7 L1448.9,185.9 L1447.3,186.2 L1446.3,185.9 L1445.0,186.4 L1443.9,185.6 L1443.0,185.9 L1442.8,185.8 L1441.8,184.7 L1440.2,184.6 L1440.0,183.9 L1438.5,183.7 L1438.2,184.2 L1437.0,183.8 L1437.1,183.2 L1435.5,183.0 L1434.5,182.3 M1444.6,175.0 L1447.3,175.3 L1451.3,175.2 L1452.4,175.5 L1453.0,176.1 L1455.1,176.1 L1457.5,175.3 L1458.0,174.1 L1459.8,173.4 L1459.6,172.4 L1463.3,171.2 M1451.3,175.2 L1451.2,174.7 L1451.4,174.1 L1450.4,173.7 L1448.1,173.3 M1447.7,171.5 L1450.2,170.8 L1453.8,171.0 L1456.0,170.8 L1456.3,171.2 L1457.5,171.4 L1459.6,172.4 M1454.8,167.7 L1456.7,167.3 L1457.6,167.5 L1459.5,168.3 L1461.3,168.4 M1453.1,181.2 L1454.1,181.2 L1455.3,180.6 L1457.0,180.5 L1459.2,180.7 L1461.7,181.2 L1463.4,181.3 L1464.2,181.6 L1465.0,181.2 L1465.6,181.7 L1467.6,181.6 L1468.5,181.8 L1468.6,180.7 L1469.3,180.2 L1471.2,180.1 M1451.0,186.7 L1450.3,187.3 L1449.9,188.2 L1451.3,189.3 L1452.2,188.9 L1453.6,189.1 L1455.0,189.1 L1456.0,189.6 L1456.8,189.3 L1458.4,189.1 L1458.9,188.6 L1459.8,188.6 L1460.4,188.3 L1461.8,188.0 L1463.4,188.7 L1464.3,188.8 L1465.3,189.4 L1465.2,190.1 L1466.0,190.5 L1466.3,191.4 L1467.0,192.0 L1466.9,192.3 L1467.3,192.5 L1466.7,192.7 L1465.4,192.6 L1465.2,192.3 L1464.7,192.5 L1464.9,192.9 L1464.3,193.6 L1463.9,194.3 L1463.4,194.6 L1464.4,195.0 L1465.4,194.6 L1466.4,195.0 M1459.8,188.6 L1460.5,188.8 L1461.2,189.4 L1461.9,190.4 L1463.1,191.7 L1463.2,192.6 L1463.0,193.6 L1463.4,194.6 M1464.1,198.5 L1462.8,198.2 L1461.2,197.4 L1458.6,198.0 L1457.5,198.5 L1454.3,198.4 L1452.6,198.0 L1451.8,198.2 L1451.2,197.3 L1450.8,196.9 L1451.3,196.6 L1450.7,196.3 L1450.1,196.8 L1448.8,196.1 L1448.6,195.2 L1447.3,194.7 L1447.0,194.0 L1445.8,193.2 L1447.6,192.8 L1448.9,191.3 L1450.0,189.8 L1451.3,189.3 M1449.9,188.2 L1449.5,188.4 L1447.1,187.7 L1446.4,187.9 L1445.9,188.4 L1444.9,188.6 L1444.6,188.5 L1443.5,188.8 L1442.7,188.9 L1442.5,189.3 L1440.7,189.6 L1439.9,189.4 L1438.8,188.8 L1438.5,188.0 L1438.7,187.8 L1437.7,187.3 L1436.7,187.5 L1435.0,186.8 L1434.2,187.0 L1433.0,187.9 L1431.4,187.2 M1438.7,187.8 L1439.0,187.3 L1440.0,187.3 L1440.7,187.1 L1440.8,186.9 L1441.2,186.8 L1441.4,186.3 L1441.9,186.2 L1442.2,185.8 L1442.8,185.8 M1438.8,188.8 L1438.6,189.7 L1437.4,189.7 L1437.8,190.2 L1437.0,191.6 L1436.6,192.0 L1434.7,192.0 L1433.6,192.5 L1431.8,192.3 M1437.0,191.6 L1437.4,191.6 L1437.8,192.4 L1440.2,193.6 L1442.0,194.0 L1442.8,193.6 L1443.3,194.5 L1444.0,195.1 L1443.2,195.9 L1442.2,195.5 L1440.7,195.5 L1438.8,195.1 L1437.8,195.2 L1437.3,195.6 L1436.5,195.1 L1436.1,196.0 L1437.1,197.1 L1437.6,197.7 L1438.6,198.6 L1439.5,199.0 L1440.3,200.0 L1442.2,200.8 L1442.0,201.2 M1431.6,194.5 L1433.1,194.6 L1433.5,194.3 L1434.3,194.6 L1435.1,194.7 L1435.1,194.0 L1435.9,193.8 L1436.1,192.9 L1437.8,192.4 M1442.8,193.6 L1444.5,193.1 L1445.8,193.2 M1444.0,195.1 L1444.0,195.9 L1443.4,196.9 L1444.5,197.7 L1444.2,198.8 L1443.7,198.9 L1443.2,199.1 L1442.5,199.6 L1442.2,200.8 M1443.7,198.9 L1444.2,199.3 L1444.6,199.6 L1445.3,199.8 L1446.1,200.2 L1445.9,200.4 L1445.5,200.9 L1444.9,201.1 L1444.8,200.7 L1443.8,201.8 L1444.0,202.5 M1445.5,200.9 L1446.0,201.5 L1446.5,201.7 L1446.7,202.5 L1446.4,203.3 L1446.7,204.2 L1447.6,204.7 M1446.7,202.5 L1446.9,202.5 L1447.0,202.1 L1448.3,201.7 L1448.8,201.7 L1449.6,201.5 L1450.6,201.5 L1451.7,202.2 L1451.8,203.6 M1450.6,201.5 L1450.9,201.2 L1450.7,200.9 L1451.0,200.2 L1451.9,199.6 L1450.8,198.6 L1450.6,197.8 L1451.2,197.3 M1445.7,207.4 L1446.7,206.3 L1446.8,205.6 L1447.5,205.3 L1447.6,204.7 L1449.0,204.5 L1449.9,204.1 L1451.0,204.1 L1451.4,203.7 L1451.8,203.6 L1453.4,203.7 L1455.2,203.1 L1456.7,203.9 L1458.7,203.7 L1458.8,202.6 L1459.8,203.2 L1459.1,204.5 L1458.6,204.8 M1458.8,202.6 L1461.0,201.9 L1462.9,202.2 M1381.8,202.5 L1382.6,201.9 L1383.5,201.6 L1384.1,202.7 L1385.4,202.7 L1385.7,202.4 L1387.0,202.5 L1387.6,203.6 L1386.6,204.2 L1386.6,205.9 L1386.2,206.2 L1386.1,207.2 L1385.2,207.4 L1386.1,208.7 L1385.5,210.1 L1386.2,210.8 L1385.9,211.4 L1385.1,212.2 L1385.3,212.9 M1388.0,176.2 L1386.4,175.8 L1385.0,175.8 L1385.5,174.6 L1385.0,173.5 M1420.3,173.8 L1421.9,174.1 L1423.3,173.8 M1408.8,181.7 L1410.5,181.9 L1412.5,181.5 L1413.9,182.4 L1415.1,182.9" fill="none" stroke="#cccccc" stroke-width="0.65" stroke-linejoin="round"/>
<circle cx="1054.8" cy="225.0" r="3.2" fill="#22c8f2" stroke="#444" stroke-opacity="0.8" stroke-width="0.6"/>
<circle cx="1057.0" cy="243.7" r="3.2" fill="#22c8f2" stroke="#444" stroke-opacity="0.8" stroke-width="0.6"/>
<circle cx="1046.4" cy="268.3" r="3.2" fill="#f0521a" stroke="#444" stroke-opacity="0.8" stroke-width="0.6"/>
<circle cx="1044.2" cy="274.1" r="3.2" fill="#80ee86" stroke="#444" stroke-opacity="0.8" stroke-width="0.6"/>
<circle cx="1042.8" cy="278.8" r="3.2" fill="#80ee86" stroke="#444" stroke-opacity="0.8" stroke-width="0.6"/>
<circle cx="1039.4" cy="285.6" r="3.2" fill="#80ee86" stroke="#444" stroke-opacity="0.8" stroke-width="0.6"/>
<circle cx="1036.8" cy="290.8" r="3.2" fill="#80ee86" stroke="#444" stroke-opacity="0.8" stroke-width="0.6"/>
<circle cx="1032.5" cy="294.2" r="3.2" fill="#80ee86" stroke="#444" stroke-opacity="0.8" stroke-width="0.6"/>
<circle cx="1032.4" cy="299.4" r="3.2" fill="#22c8f2" stroke="#444" stroke-opacity="0.8" stroke-width="0.6"/>
<circle cx="1032.4" cy="303.7" r="3.2" fill="#22c8f2" stroke="#444" stroke-opacity="0.8" stroke-width="0.6"/>
<circle cx="1032.4" cy="308.0" r="3.2" fill="#22c8f2" stroke="#444" stroke-opacity="0.8" stroke-width="0.6"/>
<circle cx="1032.2" cy="312.3" r="3.2" fill="#22c8f2" stroke="#444" stroke-opacity="0.8" stroke-width="0.6"/>
<circle cx="1030.5" cy="316.5" r="3.2" fill="#22c8f2" stroke="#444" stroke-opacity="0.8" stroke-width="0.6"/>
<circle cx="1030.1" cy="320.5" r="3.2" fill="#22c8f2" stroke="#444" stroke-opacity="0.8" stroke-width="0.6"/>
<circle cx="1030.1" cy="326.0" r="3.2" fill="#7c0610" stroke="#444" stroke-opacity="0.8" stroke-width="0.6"/>
<circle cx="1030.1" cy="331.1" r="3.2" fill="#f0521a" stroke="#444" stroke-opacity="0.8" stroke-width="0.6"/>
<circle cx="1030.1" cy="336.2" r="3.2" fill="#f0521a" stroke="#444" stroke-opacity="0.8" stroke-width="0.6"/>
<circle cx="1030.1" cy="343.4" r="3.2" fill="#7c0610" stroke="#444" stroke-opacity="0.8" stroke-width="0.6"/>
<circle cx="1030.1" cy="347.9" r="3.2" fill="#7c0610" stroke="#444" stroke-opacity="0.8" stroke-width="0.6"/>
<circle cx="1029.5" cy="351.6" r="3.2" fill="#22c8f2" stroke="#444" stroke-opacity="0.8" stroke-width="0.6"/>
<circle cx="1030.1" cy="356.0" r="3.2" fill="#f6e01c" stroke="#444" stroke-opacity="0.8" stroke-width="0.6"/>
<circle cx="1030.1" cy="365.5" r="3.2" fill="#f6e01c" stroke="#444" stroke-opacity="0.8" stroke-width="0.6"/>
<circle cx="1030.1" cy="361.1" r="3.2" fill="#7c0610" stroke="#444" stroke-opacity="0.8" stroke-width="0.6"/>
<circle cx="1030.1" cy="372.9" r="3.2" fill="#f6e01c" stroke="#444" stroke-opacity="0.8" stroke-width="0.6"/>
<circle cx="1026.3" cy="377.5" r="3.2" fill="#f6e01c" stroke="#444" stroke-opacity="0.8" stroke-width="0.6"/>
<circle cx="1024.0" cy="382.3" r="3.2" fill="#f6e01c" stroke="#444" stroke-opacity="0.8" stroke-width="0.6"/>
<circle cx="1019.3" cy="388.0" r="3.2" fill="#0a28e4" stroke="#444" stroke-opacity="0.8" stroke-width="0.6"/>
<circle cx="1023.1" cy="392.8" r="3.2" fill="#0a28e4" stroke="#444" stroke-opacity="0.8" stroke-width="0.6"/>
<circle cx="1028.8" cy="397.1" r="3.2" fill="#0a28e4" stroke="#444" stroke-opacity="0.8" stroke-width="0.6"/>
<circle cx="1030.1" cy="401.0" r="3.2" fill="#0a28e4" stroke="#444" stroke-opacity="0.8" stroke-width="0.6"/>
<circle cx="1068.5" cy="269.3" r="3.2" fill="#22c8f2" stroke="#444" stroke-opacity="0.8" stroke-width="0.6"/>
<circle cx="1067.3" cy="278.8" r="3.2" fill="#80ee86" stroke="#444" stroke-opacity="0.8" stroke-width="0.6"/>
<circle cx="1065.1" cy="294.0" r="3.2" fill="#80ee86" stroke="#444" stroke-opacity="0.8" stroke-width="0.6"/>
<circle cx="1068.5" cy="308.3" r="3.2" fill="#80ee86" stroke="#444" stroke-opacity="0.8" stroke-width="0.6"/>
<circle cx="1071.1" cy="320.0" r="3.2" fill="#80ee86" stroke="#444" stroke-opacity="0.8" stroke-width="0.6"/>
<circle cx="1089.9" cy="314.0" r="3.2" fill="#80ee86" stroke="#444" stroke-opacity="0.8" stroke-width="0.6"/>
<circle cx="1094.7" cy="314.0" r="3.2" fill="#80ee86" stroke="#444" stroke-opacity="0.8" stroke-width="0.6"/>
<circle cx="1106.2" cy="344.8" r="3.2" fill="#22c8f2" stroke="#444" stroke-opacity="0.8" stroke-width="0.6"/>
<circle cx="1119.2" cy="344.8" r="3.2" fill="#f0521a" stroke="#444" stroke-opacity="0.8" stroke-width="0.6"/>
<circle cx="1157.5" cy="350.6" r="3.2" fill="#f0521a" stroke="#444" stroke-opacity="0.8" stroke-width="0.6"/>
<circle cx="1167.0" cy="356.3" r="3.2" fill="#22c8f2" stroke="#444" stroke-opacity="0.8" stroke-width="0.6"/>
<circle cx="1181.2" cy="358.5" r="3.2" fill="#22c8f2" stroke="#444" stroke-opacity="0.8" stroke-width="0.6"/>
<circle cx="1196.6" cy="363.3" r="3.2" fill="#22c8f2" stroke="#444" stroke-opacity="0.8" stroke-width="0.6"/>
<circle cx="1173.0" cy="340.0" r="3.2" fill="#22c8f2" stroke="#444" stroke-opacity="0.8" stroke-width="0.6"/>
<circle cx="1182.5" cy="331.8" r="3.2" fill="#22c8f2" stroke="#444" stroke-opacity="0.8" stroke-width="0.6"/>
<circle cx="1191.8" cy="322.2" r="3.2" fill="#22c8f2" stroke="#444" stroke-opacity="0.8" stroke-width="0.6"/>
<circle cx="1122.6" cy="216.8" r="3.2" fill="#0a28e4" stroke="#444" stroke-opacity="0.8" stroke-width="0.6"/>
<circle cx="1135.3" cy="222.6" r="3.2" fill="#0a28e4" stroke="#444" stroke-opacity="0.8" stroke-width="0.6"/>
<circle cx="1141.1" cy="256.5" r="3.2" fill="#80ee86" stroke="#444" stroke-opacity="0.8" stroke-width="0.6"/>
<circle cx="1147.3" cy="262.5" r="3.2" fill="#80ee86" stroke="#444" stroke-opacity="0.8" stroke-width="0.6"/>
<circle cx="1171.7" cy="269.5" r="3.2" fill="#80ee86" stroke="#444" stroke-opacity="0.8" stroke-width="0.6"/>
<circle cx="1190.9" cy="273.3" r="3.2" fill="#80ee86" stroke="#444" stroke-opacity="0.8" stroke-width="0.6"/>
<circle cx="1194.1" cy="279.8" r="3.2" fill="#80ee86" stroke="#444" stroke-opacity="0.8" stroke-width="0.6"/>
<circle cx="1178.1" cy="270.5" r="3.2" fill="#7c0610" stroke="#444" stroke-opacity="0.8" stroke-width="0.6"/>
<circle cx="1184.9" cy="271.9" r="3.2" fill="#7c0610" stroke="#444" stroke-opacity="0.8" stroke-width="0.6"/>
<circle cx="1176.7" cy="280.1" r="3.2" fill="#7c0610" stroke="#444" stroke-opacity="0.8" stroke-width="0.6"/>
<circle cx="1249.1" cy="208.2" r="3.2" fill="#0a28e4" stroke="#444" stroke-opacity="0.8" stroke-width="0.6"/>
<circle cx="1241.9" cy="213.7" r="3.2" fill="#22c8f2" stroke="#444" stroke-opacity="0.8" stroke-width="0.6"/>
<circle cx="1245.7" cy="217.6" r="3.2" fill="#f6e01c" stroke="#444" stroke-opacity="0.8" stroke-width="0.6"/>
<circle cx="1256.4" cy="221.4" r="3.2" fill="#f6e01c" stroke="#444" stroke-opacity="0.8" stroke-width="0.6"/>
<circle cx="1261.1" cy="225.0" r="3.2" fill="#f6e01c" stroke="#444" stroke-opacity="0.8" stroke-width="0.6"/>
<circle cx="1292.4" cy="218.8" r="3.2" fill="#f6e01c" stroke="#444" stroke-opacity="0.8" stroke-width="0.6"/>
<circle cx="1320.5" cy="215.4" r="3.2" fill="#f6e01c" stroke="#444" stroke-opacity="0.8" stroke-width="0.6"/>
<circle cx="1338.3" cy="214.0" r="3.2" fill="#22c8f2" stroke="#444" stroke-opacity="0.8" stroke-width="0.6"/>
<circle cx="1304.0" cy="243.7" r="3.2" fill="#f0521a" stroke="#444" stroke-opacity="0.8" stroke-width="0.6"/>
<circle cx="1309.9" cy="242.5" r="3.2" fill="#f0521a" stroke="#444" stroke-opacity="0.8" stroke-width="0.6"/>
<circle cx="1324.1" cy="236.3" r="3.2" fill="#f0521a" stroke="#444" stroke-opacity="0.8" stroke-width="0.6"/>
<circle cx="1330.4" cy="235.3" r="3.2" fill="#f0521a" stroke="#444" stroke-opacity="0.8" stroke-width="0.6"/>
<circle cx="1342.9" cy="230.8" r="3.2" fill="#f0521a" stroke="#444" stroke-opacity="0.8" stroke-width="0.6"/>
<circle cx="1349.9" cy="228.4" r="3.2" fill="#f0521a" stroke="#444" stroke-opacity="0.8" stroke-width="0.6"/>
<circle cx="1357.0" cy="226.0" r="3.2" fill="#f0521a" stroke="#444" stroke-opacity="0.8" stroke-width="0.6"/>
<circle cx="1364.0" cy="223.6" r="3.2" fill="#f0521a" stroke="#444" stroke-opacity="0.8" stroke-width="0.6"/>
<circle cx="1228.0" cy="229.5" r="3.2" fill="#22c8f2" stroke="#444" stroke-opacity="0.8" stroke-width="0.6"/>
<circle cx="1208.0" cy="237.7" r="3.2" fill="#22c8f2" stroke="#444" stroke-opacity="0.8" stroke-width="0.6"/>
<circle cx="1226.8" cy="271.6" r="3.2" fill="#22c8f2" stroke="#444" stroke-opacity="0.8" stroke-width="0.6"/>
<circle cx="1228.0" cy="277.4" r="3.2" fill="#80ee86" stroke="#444" stroke-opacity="0.8" stroke-width="0.6"/>
<circle cx="1204.6" cy="276.2" r="3.2" fill="#80ee86" stroke="#444" stroke-opacity="0.8" stroke-width="0.6"/>
<circle cx="1209.2" cy="277.4" r="3.2" fill="#80ee86" stroke="#444" stroke-opacity="0.8" stroke-width="0.6"/>
<circle cx="1216.2" cy="280.5" r="3.2" fill="#80ee86" stroke="#444" stroke-opacity="0.8" stroke-width="0.6"/>
<circle cx="1217.4" cy="289.0" r="3.2" fill="#80ee86" stroke="#444" stroke-opacity="0.8" stroke-width="0.6"/>
<circle cx="1216.4" cy="293.8" r="3.2" fill="#80ee86" stroke="#444" stroke-opacity="0.8" stroke-width="0.6"/>
<circle cx="1215.8" cy="298.2" r="3.2" fill="#80ee86" stroke="#444" stroke-opacity="0.8" stroke-width="0.6"/>
<circle cx="1215.1" cy="305.9" r="3.2" fill="#80ee86" stroke="#444" stroke-opacity="0.8" stroke-width="0.6"/>
<circle cx="1285.7" cy="151.9" r="3.2" fill="#0a28e4" stroke="#444" stroke-opacity="0.8" stroke-width="0.6"/>
<circle cx="1279.7" cy="159.2" r="3.2" fill="#0a28e4" stroke="#444" stroke-opacity="0.8" stroke-width="0.6"/>
<circle cx="1404.8" cy="127.3" r="3.2" fill="#0a28e4" stroke="#444" stroke-opacity="0.8" stroke-width="0.6"/>
<circle cx="1402.6" cy="147.1" r="3.2" fill="#0a28e4" stroke="#444" stroke-opacity="0.8" stroke-width="0.6"/>
<circle cx="1365.3" cy="174.5" r="3.2" fill="#0a28e4" stroke="#444" stroke-opacity="0.8" stroke-width="0.6"/>
<circle cx="1365.3" cy="197.3" r="3.2" fill="#80ee86" stroke="#444" stroke-opacity="0.8" stroke-width="0.6"/>
<circle cx="1392.8" cy="214.3" r="3.2" fill="#0a28e4" stroke="#444" stroke-opacity="0.8" stroke-width="0.6"/>
<circle cx="1405.7" cy="213.1" r="3.2" fill="#0a28e4" stroke="#444" stroke-opacity="0.8" stroke-width="0.6"/>
<circle cx="1408.3" cy="204.6" r="3.2" fill="#22c8f2" stroke="#444" stroke-opacity="0.8" stroke-width="0.6"/>
<circle cx="1414.2" cy="208.0" r="3.2" fill="#22c8f2" stroke="#444" stroke-opacity="0.8" stroke-width="0.6"/>
<circle cx="1410.8" cy="210.9" r="3.2" fill="#22c8f2" stroke="#444" stroke-opacity="0.8" stroke-width="0.6"/>
<circle cx="1431.9" cy="218.8" r="3.2" fill="#22c8f2" stroke="#444" stroke-opacity="0.8" stroke-width="0.6"/>
<circle cx="1438.7" cy="211.9" r="3.2" fill="#22c8f2" stroke="#444" stroke-opacity="0.8" stroke-width="0.6"/>
<circle cx="1440.3" cy="201.1" r="3.2" fill="#f0521a" stroke="#444" stroke-opacity="0.8" stroke-width="0.6"/>
<circle cx="1443.7" cy="207.1" r="3.2" fill="#f0521a" stroke="#444" stroke-opacity="0.8" stroke-width="0.6"/>
<circle cx="1473.8" cy="220.0" r="3.2" fill="#22c8f2" stroke="#444" stroke-opacity="0.8" stroke-width="0.6"/>
<circle cx="1477.6" cy="234.2" r="3.2" fill="#7c0610" stroke="#444" stroke-opacity="0.8" stroke-width="0.6"/>
<circle cx="1485.8" cy="245.7" r="3.2" fill="#7c0610" stroke="#444" stroke-opacity="0.8" stroke-width="0.6"/>
<circle cx="1489.6" cy="254.4" r="3.2" fill="#7c0610" stroke="#444" stroke-opacity="0.8" stroke-width="0.6"/>
<circle cx="1540.6" cy="248.2" r="3.2" fill="#7c0610" stroke="#444" stroke-opacity="0.8" stroke-width="0.6"/>
<circle cx="1543.5" cy="252.0" r="3.2" fill="#7c0610" stroke="#444" stroke-opacity="0.8" stroke-width="0.6"/>
<circle cx="1547.0" cy="253.4" r="3.2" fill="#7c0610" stroke="#444" stroke-opacity="0.8" stroke-width="0.6"/>
<circle cx="1554.7" cy="262.4" r="3.2" fill="#7c0610" stroke="#444" stroke-opacity="0.8" stroke-width="0.6"/>
<circle cx="1563.2" cy="281.0" r="3.2" fill="#7c0610" stroke="#444" stroke-opacity="0.8" stroke-width="0.6"/>
<circle cx="1558.4" cy="294.0" r="3.2" fill="#7c0610" stroke="#444" stroke-opacity="0.8" stroke-width="0.6"/>
<circle cx="1559.5" cy="298.8" r="3.2" fill="#7c0610" stroke="#444" stroke-opacity="0.8" stroke-width="0.6"/>
<circle cx="1547.0" cy="314.2" r="3.2" fill="#7c0610" stroke="#444" stroke-opacity="0.8" stroke-width="0.6"/>
<circle cx="1497.6" cy="135.8" r="3.2" fill="#0a28e4" stroke="#444" stroke-opacity="0.8" stroke-width="0.6"/>
<circle cx="1546.7" cy="120.3" r="3.2" fill="#0a28e4" stroke="#444" stroke-opacity="0.8" stroke-width="0.6"/>
<circle cx="1341.8" cy="301.1" r="3.2" fill="#7c0610" stroke="#444" stroke-opacity="0.8" stroke-width="0.6"/>
<circle cx="1340.4" cy="305.4" r="3.2" fill="#f0521a" stroke="#444" stroke-opacity="0.8" stroke-width="0.6"/>
<circle cx="1338.0" cy="310.9" r="3.2" fill="#f0521a" stroke="#444" stroke-opacity="0.8" stroke-width="0.6"/>
<circle cx="1362.7" cy="312.8" r="3.2" fill="#22c8f2" stroke="#444" stroke-opacity="0.8" stroke-width="0.6"/>
<circle cx="1331.5" cy="324.2" r="3.2" fill="#f0521a" stroke="#444" stroke-opacity="0.8" stroke-width="0.6"/>
<circle cx="1330.2" cy="325.9" r="3.2" fill="#f0521a" stroke="#444" stroke-opacity="0.8" stroke-width="0.6"/>
<circle cx="1328.8" cy="327.7" r="3.2" fill="#f0521a" stroke="#444" stroke-opacity="0.8" stroke-width="0.6"/>
<circle cx="1326.4" cy="334.2" r="3.2" fill="#f0521a" stroke="#444" stroke-opacity="0.8" stroke-width="0.6"/>
<circle cx="1320.5" cy="344.8" r="3.2" fill="#f0521a" stroke="#444" stroke-opacity="0.8" stroke-width="0.6"/>
<circle cx="1325.3" cy="340.0" r="3.2" fill="#22c8f2" stroke="#444" stroke-opacity="0.8" stroke-width="0.6"/>
<circle cx="1394.3" cy="338.8" r="3.2" fill="#22c8f2" stroke="#444" stroke-opacity="0.8" stroke-width="0.6"/>
<circle cx="1307.5" cy="359.9" r="3.2" fill="#22c8f2" stroke="#444" stroke-opacity="0.8" stroke-width="0.6"/>
<circle cx="1211.6" cy="365.7" r="3.2" fill="#22c8f2" stroke="#444" stroke-opacity="0.8" stroke-width="0.6"/>
<circle cx="1242.0" cy="368.1" r="3.2" fill="#0a28e4" stroke="#444" stroke-opacity="0.8" stroke-width="0.6"/>
<circle cx="1233.9" cy="380.9" r="3.2" fill="#0a28e4" stroke="#444" stroke-opacity="0.8" stroke-width="0.6"/>
<circle cx="1287.8" cy="383.3" r="3.2" fill="#22c8f2" stroke="#444" stroke-opacity="0.8" stroke-width="0.6"/>
<circle cx="1286.6" cy="391.5" r="3.2" fill="#0a28e4" stroke="#444" stroke-opacity="0.8" stroke-width="0.6"/>
<circle cx="1274.8" cy="397.4" r="3.2" fill="#0a28e4" stroke="#444" stroke-opacity="0.8" stroke-width="0.6"/>
<circle cx="1255.1" cy="421.0" r="3.2" fill="#0a28e4" stroke="#444" stroke-opacity="0.8" stroke-width="0.6"/>
<circle cx="1269.0" cy="425.7" r="3.2" fill="#0a28e4" stroke="#444" stroke-opacity="0.8" stroke-width="0.6"/>
<circle cx="1279.6" cy="434.0" r="3.2" fill="#0a28e4" stroke="#444" stroke-opacity="0.8" stroke-width="0.6"/>
<circle cx="1293.5" cy="430.3" r="3.2" fill="#0a28e4" stroke="#444" stroke-opacity="0.8" stroke-width="0.6"/>
<circle cx="1504.7" cy="322.0" r="3.2" fill="#22c8f2" stroke="#444" stroke-opacity="0.8" stroke-width="0.6"/>
<circle cx="1493.9" cy="333.4" r="3.2" fill="#22c8f2" stroke="#444" stroke-opacity="0.8" stroke-width="0.6"/>
<circle cx="1496.4" cy="327.9" r="3.2" fill="#7c0610" stroke="#444" stroke-opacity="0.8" stroke-width="0.6"/>
<circle cx="1520.9" cy="341.0" r="3.2" fill="#22c8f2" stroke="#444" stroke-opacity="0.8" stroke-width="0.6"/>
<circle cx="1525.9" cy="341.0" r="3.2" fill="#22c8f2" stroke="#444" stroke-opacity="0.8" stroke-width="0.6"/>
<circle cx="1410.0" cy="362.2" r="3.2" fill="#f0521a" stroke="#444" stroke-opacity="0.8" stroke-width="0.6"/>
<circle cx="1416.8" cy="363.4" r="3.2" fill="#f0521a" stroke="#444" stroke-opacity="0.8" stroke-width="0.6"/>
<circle cx="1429.7" cy="365.6" r="3.2" fill="#f0521a" stroke="#444" stroke-opacity="0.8" stroke-width="0.6"/>
<circle cx="1435.7" cy="367.0" r="3.2" fill="#f0521a" stroke="#444" stroke-opacity="0.8" stroke-width="0.6"/>
<circle cx="1441.3" cy="370.4" r="3.2" fill="#0a28e4" stroke="#444" stroke-opacity="0.8" stroke-width="0.6"/>
<circle cx="1458.8" cy="371.8" r="3.2" fill="#f6e01c" stroke="#444" stroke-opacity="0.8" stroke-width="0.6"/>
<circle cx="1484.8" cy="358.8" r="3.2" fill="#f6e01c" stroke="#444" stroke-opacity="0.8" stroke-width="0.6"/>
<circle cx="1568.0" cy="360.0" r="3.2" fill="#f0521a" stroke="#444" stroke-opacity="0.8" stroke-width="0.6"/>
<circle cx="1576.0" cy="360.0" r="3.2" fill="#f0521a" stroke="#444" stroke-opacity="0.8" stroke-width="0.6"/>
<circle cx="1605.2" cy="358.7" r="3.2" fill="#f0521a" stroke="#444" stroke-opacity="0.8" stroke-width="0.6"/>
<circle cx="1612.2" cy="358.7" r="3.2" fill="#f0521a" stroke="#444" stroke-opacity="0.8" stroke-width="0.6"/>
<circle cx="1627.6" cy="359.9" r="3.2" fill="#f0521a" stroke="#444" stroke-opacity="0.8" stroke-width="0.6"/>
<circle cx="1635.7" cy="360.8" r="3.2" fill="#f0521a" stroke="#444" stroke-opacity="0.8" stroke-width="0.6"/>
<circle cx="1642.9" cy="362.2" r="3.2" fill="#f0521a" stroke="#444" stroke-opacity="0.8" stroke-width="0.6"/>
<circle cx="1649.9" cy="363.4" r="3.2" fill="#f0521a" stroke="#444" stroke-opacity="0.8" stroke-width="0.6"/>
<circle cx="1687.2" cy="368.0" r="3.2" fill="#0a28e4" stroke="#444" stroke-opacity="0.8" stroke-width="0.6"/>
<circle cx="1699.0" cy="374.1" r="3.2" fill="#0a28e4" stroke="#444" stroke-opacity="0.8" stroke-width="0.6"/>
<circle cx="1717.0" cy="317.5" r="3.2" fill="#22c8f2" stroke="#444" stroke-opacity="0.8" stroke-width="0.6"/>
<circle cx="1717.9" cy="324.8" r="3.2" fill="#22c8f2" stroke="#444" stroke-opacity="0.8" stroke-width="0.6"/>
<circle cx="1722.0" cy="329.5" r="3.2" fill="#22c8f2" stroke="#444" stroke-opacity="0.8" stroke-width="0.6"/>
<circle cx="1738.1" cy="347.6" r="3.2" fill="#f6e01c" stroke="#444" stroke-opacity="0.8" stroke-width="0.6"/>
<circle cx="1738.1" cy="353.1" r="3.2" fill="#f6e01c" stroke="#444" stroke-opacity="0.8" stroke-width="0.6"/>
<circle cx="1736.9" cy="360.8" r="3.2" fill="#f6e01c" stroke="#444" stroke-opacity="0.8" stroke-width="0.6"/>
<circle cx="1734.3" cy="369.3" r="3.2" fill="#80ee86" stroke="#444" stroke-opacity="0.8" stroke-width="0.6"/>
<circle cx="1738.9" cy="365.9" r="3.2" fill="#80ee86" stroke="#444" stroke-opacity="0.8" stroke-width="0.6"/>
<circle cx="1733.3" cy="374.5" r="3.2" fill="#f6e01c" stroke="#444" stroke-opacity="0.8" stroke-width="0.6"/>
<circle cx="1738.9" cy="374.5" r="3.2" fill="#80ee86" stroke="#444" stroke-opacity="0.8" stroke-width="0.6"/>
<circle cx="1727.4" cy="387.0" r="3.2" fill="#0a28e4" stroke="#444" stroke-opacity="0.8" stroke-width="0.6"/>
<circle cx="1715.5" cy="399.6" r="3.2" fill="#0a28e4" stroke="#444" stroke-opacity="0.8" stroke-width="0.6"/>
<circle cx="1706.2" cy="409.4" r="3.2" fill="#0a28e4" stroke="#444" stroke-opacity="0.8" stroke-width="0.6"/>
<circle cx="1701.4" cy="412.8" r="3.2" fill="#0a28e4" stroke="#444" stroke-opacity="0.8" stroke-width="0.6"/>
<circle cx="1697.9" cy="416.2" r="3.2" fill="#0a28e4" stroke="#444" stroke-opacity="0.8" stroke-width="0.6"/>
<circle cx="1691.1" cy="421.0" r="3.2" fill="#0a28e4" stroke="#444" stroke-opacity="0.8" stroke-width="0.6"/>
<circle cx="1686.0" cy="424.8" r="3.2" fill="#0a28e4" stroke="#444" stroke-opacity="0.8" stroke-width="0.6"/>
<circle cx="1677.9" cy="429.1" r="3.2" fill="#0a28e4" stroke="#444" stroke-opacity="0.8" stroke-width="0.6"/>
<circle cx="1683.9" cy="433.0" r="3.2" fill="#0a28e4" stroke="#444" stroke-opacity="0.8" stroke-width="0.6"/>
<circle cx="1671.1" cy="432.8" r="3.2" fill="#0a28e4" stroke="#444" stroke-opacity="0.8" stroke-width="0.6"/>
<circle cx="1665.1" cy="436.1" r="3.2" fill="#0a28e4" stroke="#444" stroke-opacity="0.8" stroke-width="0.6"/>
</g></g>
<rect x="969.3" y="92.3" width="866.3" height="418.0" fill="none" stroke="#151515" stroke-width="1.6"/>
<line x1="1073.4" x2="1073.4" y1="510.3" y2="516.8" stroke="#151515" stroke-width="1.6"/>
<line x1="1182.8" x2="1182.8" y1="510.3" y2="516.8" stroke="#151515" stroke-width="1.6"/>
<line x1="1292.2" x2="1292.2" y1="510.3" y2="516.8" stroke="#151515" stroke-width="1.6"/>
<line x1="1401.6" x2="1401.6" y1="510.3" y2="516.8" stroke="#151515" stroke-width="1.6"/>
<line x1="1511.0" x2="1511.0" y1="510.3" y2="516.8" stroke="#151515" stroke-width="1.6"/>
<line x1="1620.4" x2="1620.4" y1="510.3" y2="516.8" stroke="#151515" stroke-width="1.6"/>
<line x1="1729.8" x2="1729.8" y1="510.3" y2="516.8" stroke="#151515" stroke-width="1.6"/>
<line x1="963.0" x2="969.3" y1="130.2" y2="130.2" stroke="#151515" stroke-width="1.6"/>
<line x1="963.0" x2="969.3" y1="184.9" y2="184.9" stroke="#151515" stroke-width="1.6"/>
<line x1="963.0" x2="969.3" y1="239.6" y2="239.6" stroke="#151515" stroke-width="1.6"/>
<line x1="963.0" x2="969.3" y1="294.3" y2="294.3" stroke="#151515" stroke-width="1.6"/>
<line x1="963.0" x2="969.3" y1="349.0" y2="349.0" stroke="#151515" stroke-width="1.6"/>
<line x1="963.0" x2="969.3" y1="403.7" y2="403.7" stroke="#151515" stroke-width="1.6"/>
<line x1="963.0" x2="969.3" y1="458.4" y2="458.4" stroke="#151515" stroke-width="1.6"/>
<rect x="1847.8" y="105.1" width="166.8" height="308.8" rx="4.5" ry="4.5" fill="#fff" stroke="#d4d4d4" stroke-width="1.6"/>
<circle cx="1912.5" cy="190.7" r="3.2" fill="#0a28e4" stroke="#444" stroke-opacity="0.8" stroke-width="0.6"/>
<circle cx="1912.5" cy="230.7" r="3.2" fill="#22c8f2" stroke="#444" stroke-opacity="0.8" stroke-width="0.6"/>
<circle cx="1912.5" cy="270.7" r="3.2" fill="#80ee86" stroke="#444" stroke-opacity="0.8" stroke-width="0.6"/>
<circle cx="1912.5" cy="310.7" r="3.2" fill="#f6e01c" stroke="#444" stroke-opacity="0.8" stroke-width="0.6"/>
<circle cx="1912.5" cy="350.7" r="3.2" fill="#f0521a" stroke="#444" stroke-opacity="0.8" stroke-width="0.6"/>
<circle cx="1912.5" cy="390.7" r="3.2" fill="#7c0610" stroke="#444" stroke-opacity="0.8" stroke-width="0.6"/>
</svg>
</div>
</body></html>
